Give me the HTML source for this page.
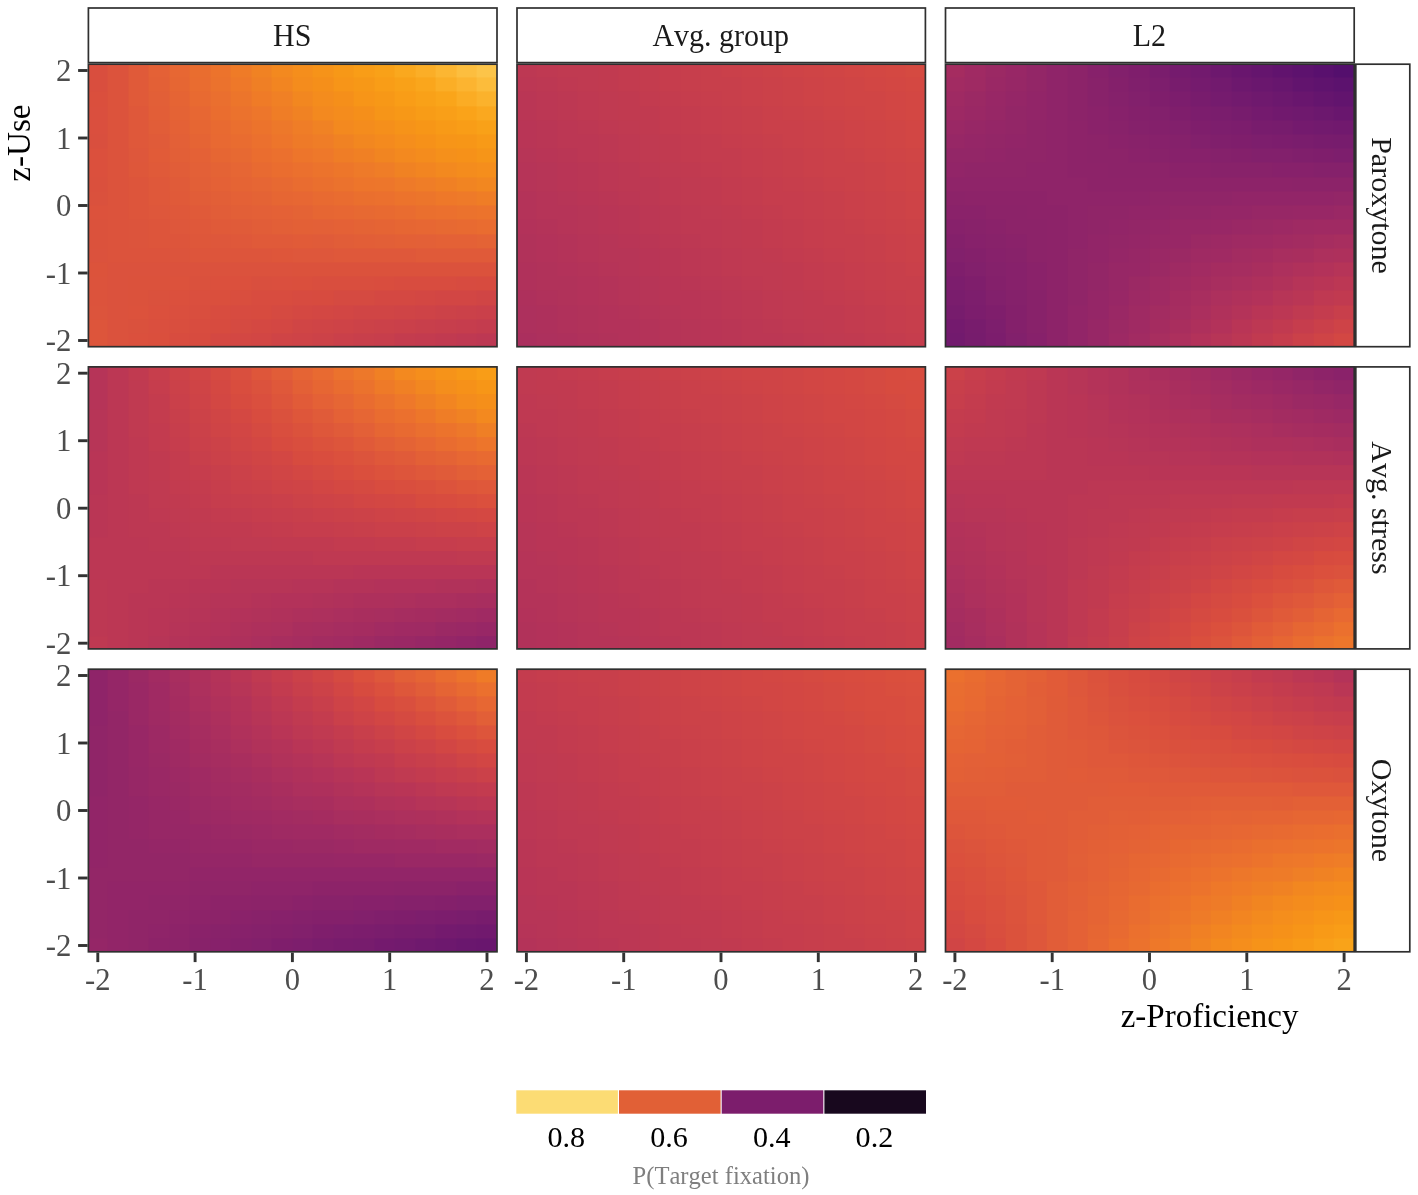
<!DOCTYPE html>
<html><head><meta charset="utf-8"><title>Heatmap</title>
<style>
html,body{margin:0;padding:0;background:#fff}
body{width:1418px;height:1195px;overflow:hidden;font-family:"Liberation Serif",serif}
svg{display:block;will-change:transform}
text{font-family:"Liberation Serif",serif;font-kerning:none}
</style></head><body>
<svg width="1418" height="1195" viewBox="0 0 1418 1195">
<rect x="0" y="0" width="1418" height="1195" fill="#ffffff"/>
<svg class="h" x="88.40" y="64.20" width="408.60" height="282.50" viewBox="0.0411 0.0567 19.9471 19.8796" preserveAspectRatio="none" shape-rendering="crispEdges">
<rect x="-1" y="-1" width="23" height="23" fill="#e56434"/>
<rect x="0" y="0" width="1.05" height="1.05" fill="#d94e3e"/><rect x="1" y="0" width="1.05" height="1.05" fill="#dc533c"/><rect x="2" y="0" width="1.05" height="1.05" fill="#e05a39"/><rect x="3" y="0" width="1.05" height="1.05" fill="#e46136"/><rect x="4" y="0" width="1.05" height="1.05" fill="#e76733"/><rect x="5" y="0" width="1.05" height="1.05" fill="#e96d2f"/><rect x="6" y="0" width="1.05" height="1.05" fill="#ec732c"/><rect x="7" y="0" width="1.05" height="1.05" fill="#ef7b27"/><rect x="8" y="0" width="1.05" height="1.05" fill="#f08223"/><rect x="9" y="0" width="1.05" height="1.05" fill="#f3891f"/><rect x="10" y="0" width="1.05" height="1.05" fill="#f58e1c"/><rect x="11" y="0" width="1.05" height="1.05" fill="#f69319"/><rect x="12" y="0" width="1.05" height="1.05" fill="#f79817"/><rect x="13" y="0" width="1.05" height="1.05" fill="#f99d17"/><rect x="14" y="0" width="1.05" height="1.05" fill="#f9a118"/><rect x="15" y="0" width="1.05" height="1.05" fill="#faa81e"/><rect x="16" y="0" width="1.05" height="1.05" fill="#fbae27"/><rect x="17" y="0" width="1.05" height="1.05" fill="#fcb632"/><rect x="18" y="0" width="1.05" height="1.05" fill="#fcbe3f"/><rect x="19" y="0" width="1.05" height="1.05" fill="#fcc449"/>
<rect x="0" y="1" width="1.05" height="1.05" fill="#d94e3e"/><rect x="1" y="1" width="1.05" height="1.05" fill="#dc533c"/><rect x="2" y="1" width="1.05" height="1.05" fill="#e05a39"/><rect x="3" y="1" width="1.05" height="1.05" fill="#e36036"/><rect x="4" y="1" width="1.05" height="1.05" fill="#e66633"/><rect x="5" y="1" width="1.05" height="1.05" fill="#e96c30"/><rect x="6" y="1" width="1.05" height="1.05" fill="#eb722d"/><rect x="7" y="1" width="1.05" height="1.05" fill="#ee7829"/><rect x="8" y="1" width="1.05" height="1.05" fill="#ef7f25"/><rect x="9" y="1" width="1.05" height="1.05" fill="#f28521"/><rect x="10" y="1" width="1.05" height="1.05" fill="#f48c1d"/><rect x="11" y="1" width="1.05" height="1.05" fill="#f58f1a"/><rect x="12" y="1" width="1.05" height="1.05" fill="#f79518"/><rect x="13" y="1" width="1.05" height="1.05" fill="#f79817"/><rect x="14" y="1" width="1.05" height="1.05" fill="#f99d17"/><rect x="15" y="1" width="1.05" height="1.05" fill="#f9a118"/><rect x="16" y="1" width="1.05" height="1.05" fill="#faa61c"/><rect x="17" y="1" width="1.05" height="1.05" fill="#fbae26"/><rect x="18" y="1" width="1.05" height="1.05" fill="#fcb430"/><rect x="19" y="1" width="1.05" height="1.05" fill="#fcbc3b"/>
<rect x="0" y="2" width="1.05" height="1.05" fill="#da4f3d"/><rect x="1" y="2" width="1.05" height="1.05" fill="#dc533c"/><rect x="2" y="2" width="1.05" height="1.05" fill="#e05a39"/><rect x="3" y="2" width="1.05" height="1.05" fill="#e25f37"/><rect x="4" y="2" width="1.05" height="1.05" fill="#e56434"/><rect x="5" y="2" width="1.05" height="1.05" fill="#e86a31"/><rect x="6" y="2" width="1.05" height="1.05" fill="#ea6f2f"/><rect x="7" y="2" width="1.05" height="1.05" fill="#ec752b"/><rect x="8" y="2" width="1.05" height="1.05" fill="#ef7b27"/><rect x="9" y="2" width="1.05" height="1.05" fill="#f08025"/><rect x="10" y="2" width="1.05" height="1.05" fill="#f28720"/><rect x="11" y="2" width="1.05" height="1.05" fill="#f48c1d"/><rect x="12" y="2" width="1.05" height="1.05" fill="#f58f1a"/><rect x="13" y="2" width="1.05" height="1.05" fill="#f79518"/><rect x="14" y="2" width="1.05" height="1.05" fill="#f79817"/><rect x="15" y="2" width="1.05" height="1.05" fill="#f99d17"/><rect x="16" y="2" width="1.05" height="1.05" fill="#f9a118"/><rect x="17" y="2" width="1.05" height="1.05" fill="#faa51a"/><rect x="18" y="2" width="1.05" height="1.05" fill="#fbac24"/><rect x="19" y="2" width="1.05" height="1.05" fill="#fbb22c"/>
<rect x="0" y="3" width="1.05" height="1.05" fill="#da4f3e"/><rect x="1" y="3" width="1.05" height="1.05" fill="#dc533c"/><rect x="2" y="3" width="1.05" height="1.05" fill="#df583a"/><rect x="3" y="3" width="1.05" height="1.05" fill="#e25e37"/><rect x="4" y="3" width="1.05" height="1.05" fill="#e46335"/><rect x="5" y="3" width="1.05" height="1.05" fill="#e76733"/><rect x="6" y="3" width="1.05" height="1.05" fill="#ea6d2f"/><rect x="7" y="3" width="1.05" height="1.05" fill="#eb722d"/><rect x="8" y="3" width="1.05" height="1.05" fill="#ed762b"/><rect x="9" y="3" width="1.05" height="1.05" fill="#ef7d26"/><rect x="10" y="3" width="1.05" height="1.05" fill="#f08223"/><rect x="11" y="3" width="1.05" height="1.05" fill="#f3891f"/><rect x="12" y="3" width="1.05" height="1.05" fill="#f48c1d"/><rect x="13" y="3" width="1.05" height="1.05" fill="#f58f1a"/><rect x="14" y="3" width="1.05" height="1.05" fill="#f69518"/><rect x="15" y="3" width="1.05" height="1.05" fill="#f79817"/><rect x="16" y="3" width="1.05" height="1.05" fill="#f89c17"/><rect x="17" y="3" width="1.05" height="1.05" fill="#f99f18"/><rect x="18" y="3" width="1.05" height="1.05" fill="#faa319"/><rect x="19" y="3" width="1.05" height="1.05" fill="#faa81f"/>
<rect x="0" y="4" width="1.05" height="1.05" fill="#da4f3e"/><rect x="1" y="4" width="1.05" height="1.05" fill="#dc533c"/><rect x="2" y="4" width="1.05" height="1.05" fill="#df583a"/><rect x="3" y="4" width="1.05" height="1.05" fill="#e15d38"/><rect x="4" y="4" width="1.05" height="1.05" fill="#e46136"/><rect x="5" y="4" width="1.05" height="1.05" fill="#e66633"/><rect x="6" y="4" width="1.05" height="1.05" fill="#e86a31"/><rect x="7" y="4" width="1.05" height="1.05" fill="#ea6f2f"/><rect x="8" y="4" width="1.05" height="1.05" fill="#ec732c"/><rect x="9" y="4" width="1.05" height="1.05" fill="#ed782a"/><rect x="10" y="4" width="1.05" height="1.05" fill="#ef7d27"/><rect x="11" y="4" width="1.05" height="1.05" fill="#f08224"/><rect x="12" y="4" width="1.05" height="1.05" fill="#f3891f"/><rect x="13" y="4" width="1.05" height="1.05" fill="#f48c1d"/><rect x="14" y="4" width="1.05" height="1.05" fill="#f58f1b"/><rect x="15" y="4" width="1.05" height="1.05" fill="#f69319"/><rect x="16" y="4" width="1.05" height="1.05" fill="#f79617"/><rect x="17" y="4" width="1.05" height="1.05" fill="#f89a17"/><rect x="18" y="4" width="1.05" height="1.05" fill="#f99d17"/><rect x="19" y="4" width="1.05" height="1.05" fill="#f9a118"/>
<rect x="0" y="5" width="1.05" height="1.05" fill="#d94f3e"/><rect x="1" y="5" width="1.05" height="1.05" fill="#dc533c"/><rect x="2" y="5" width="1.05" height="1.05" fill="#df583a"/><rect x="3" y="5" width="1.05" height="1.05" fill="#e05b39"/><rect x="4" y="5" width="1.05" height="1.05" fill="#e36037"/><rect x="5" y="5" width="1.05" height="1.05" fill="#e56434"/><rect x="6" y="5" width="1.05" height="1.05" fill="#e86932"/><rect x="7" y="5" width="1.05" height="1.05" fill="#e96c30"/><rect x="8" y="5" width="1.05" height="1.05" fill="#eb702e"/><rect x="9" y="5" width="1.05" height="1.05" fill="#ed752b"/><rect x="10" y="5" width="1.05" height="1.05" fill="#ee7a28"/><rect x="11" y="5" width="1.05" height="1.05" fill="#ef7d27"/><rect x="12" y="5" width="1.05" height="1.05" fill="#f08223"/><rect x="13" y="5" width="1.05" height="1.05" fill="#f28720"/><rect x="14" y="5" width="1.05" height="1.05" fill="#f48a1e"/><rect x="15" y="5" width="1.05" height="1.05" fill="#f58e1c"/><rect x="16" y="5" width="1.05" height="1.05" fill="#f69119"/><rect x="17" y="5" width="1.05" height="1.05" fill="#f79518"/><rect x="18" y="5" width="1.05" height="1.05" fill="#f79617"/><rect x="19" y="5" width="1.05" height="1.05" fill="#f89a17"/>
<rect x="0" y="6" width="1.05" height="1.05" fill="#db503d"/><rect x="1" y="6" width="1.05" height="1.05" fill="#dc533c"/><rect x="2" y="6" width="1.05" height="1.05" fill="#de573b"/><rect x="3" y="6" width="1.05" height="1.05" fill="#e15b38"/><rect x="4" y="6" width="1.05" height="1.05" fill="#e25f37"/><rect x="5" y="6" width="1.05" height="1.05" fill="#e46136"/><rect x="6" y="6" width="1.05" height="1.05" fill="#e66633"/><rect x="7" y="6" width="1.05" height="1.05" fill="#e76932"/><rect x="8" y="6" width="1.05" height="1.05" fill="#ea6d2f"/><rect x="9" y="6" width="1.05" height="1.05" fill="#eb702e"/><rect x="10" y="6" width="1.05" height="1.05" fill="#ed752b"/><rect x="11" y="6" width="1.05" height="1.05" fill="#ee782a"/><rect x="12" y="6" width="1.05" height="1.05" fill="#ef7d26"/><rect x="13" y="6" width="1.05" height="1.05" fill="#f08024"/><rect x="14" y="6" width="1.05" height="1.05" fill="#f18521"/><rect x="15" y="6" width="1.05" height="1.05" fill="#f3891f"/><rect x="16" y="6" width="1.05" height="1.05" fill="#f48c1d"/><rect x="17" y="6" width="1.05" height="1.05" fill="#f5901b"/><rect x="18" y="6" width="1.05" height="1.05" fill="#f69119"/><rect x="19" y="6" width="1.05" height="1.05" fill="#f69518"/>
<rect x="0" y="7" width="1.05" height="1.05" fill="#db503d"/><rect x="1" y="7" width="1.05" height="1.05" fill="#dc533c"/><rect x="2" y="7" width="1.05" height="1.05" fill="#de573a"/><rect x="3" y="7" width="1.05" height="1.05" fill="#e05a39"/><rect x="4" y="7" width="1.05" height="1.05" fill="#e15d38"/><rect x="5" y="7" width="1.05" height="1.05" fill="#e36037"/><rect x="6" y="7" width="1.05" height="1.05" fill="#e46335"/><rect x="7" y="7" width="1.05" height="1.05" fill="#e66634"/><rect x="8" y="7" width="1.05" height="1.05" fill="#e86a31"/><rect x="9" y="7" width="1.05" height="1.05" fill="#ea6d2f"/><rect x="10" y="7" width="1.05" height="1.05" fill="#eb702e"/><rect x="11" y="7" width="1.05" height="1.05" fill="#ec732c"/><rect x="12" y="7" width="1.05" height="1.05" fill="#ed762a"/><rect x="13" y="7" width="1.05" height="1.05" fill="#ee7a29"/><rect x="14" y="7" width="1.05" height="1.05" fill="#ef7d27"/><rect x="15" y="7" width="1.05" height="1.05" fill="#f08223"/><rect x="16" y="7" width="1.05" height="1.05" fill="#f28521"/><rect x="17" y="7" width="1.05" height="1.05" fill="#f3891f"/><rect x="18" y="7" width="1.05" height="1.05" fill="#f48c1d"/><rect x="19" y="7" width="1.05" height="1.05" fill="#f58e1c"/>
<rect x="0" y="8" width="1.05" height="1.05" fill="#da503d"/><rect x="1" y="8" width="1.05" height="1.05" fill="#dc533c"/><rect x="2" y="8" width="1.05" height="1.05" fill="#dd553b"/><rect x="3" y="8" width="1.05" height="1.05" fill="#df583a"/><rect x="4" y="8" width="1.05" height="1.05" fill="#e05b39"/><rect x="5" y="8" width="1.05" height="1.05" fill="#e25f37"/><rect x="6" y="8" width="1.05" height="1.05" fill="#e46136"/><rect x="7" y="8" width="1.05" height="1.05" fill="#e56434"/><rect x="8" y="8" width="1.05" height="1.05" fill="#e66634"/><rect x="9" y="8" width="1.05" height="1.05" fill="#e76932"/><rect x="10" y="8" width="1.05" height="1.05" fill="#e96c30"/><rect x="11" y="8" width="1.05" height="1.05" fill="#ea6f2e"/><rect x="12" y="8" width="1.05" height="1.05" fill="#eb722d"/><rect x="13" y="8" width="1.05" height="1.05" fill="#ed752b"/><rect x="14" y="8" width="1.05" height="1.05" fill="#ed762b"/><rect x="15" y="8" width="1.05" height="1.05" fill="#ee7a29"/><rect x="16" y="8" width="1.05" height="1.05" fill="#ef7d27"/><rect x="17" y="8" width="1.05" height="1.05" fill="#f08024"/><rect x="18" y="8" width="1.05" height="1.05" fill="#f18422"/><rect x="19" y="8" width="1.05" height="1.05" fill="#f28720"/>
<rect x="0" y="9" width="1.05" height="1.05" fill="#da513d"/><rect x="1" y="9" width="1.05" height="1.05" fill="#dc533c"/><rect x="2" y="9" width="1.05" height="1.05" fill="#dd553b"/><rect x="3" y="9" width="1.05" height="1.05" fill="#df583a"/><rect x="4" y="9" width="1.05" height="1.05" fill="#e05a39"/><rect x="5" y="9" width="1.05" height="1.05" fill="#e15d38"/><rect x="6" y="9" width="1.05" height="1.05" fill="#e25f37"/><rect x="7" y="9" width="1.05" height="1.05" fill="#e46136"/><rect x="8" y="9" width="1.05" height="1.05" fill="#e46335"/><rect x="9" y="9" width="1.05" height="1.05" fill="#e66633"/><rect x="10" y="9" width="1.05" height="1.05" fill="#e76733"/><rect x="11" y="9" width="1.05" height="1.05" fill="#e86a31"/><rect x="12" y="9" width="1.05" height="1.05" fill="#e96c30"/><rect x="13" y="9" width="1.05" height="1.05" fill="#ea6f2e"/><rect x="14" y="9" width="1.05" height="1.05" fill="#eb702e"/><rect x="15" y="9" width="1.05" height="1.05" fill="#ec732c"/><rect x="16" y="9" width="1.05" height="1.05" fill="#ec752b"/><rect x="17" y="9" width="1.05" height="1.05" fill="#ee7829"/><rect x="18" y="9" width="1.05" height="1.05" fill="#ee7a29"/><rect x="19" y="9" width="1.05" height="1.05" fill="#ef7d26"/>
<rect x="0" y="10" width="1.05" height="1.05" fill="#dc523c"/><rect x="1" y="10" width="1.05" height="1.05" fill="#dc533c"/><rect x="2" y="10" width="1.05" height="1.05" fill="#dd553b"/><rect x="3" y="10" width="1.05" height="1.05" fill="#de573b"/><rect x="4" y="10" width="1.05" height="1.05" fill="#df583a"/><rect x="5" y="10" width="1.05" height="1.05" fill="#e05a39"/><rect x="6" y="10" width="1.05" height="1.05" fill="#e15d38"/><rect x="7" y="10" width="1.05" height="1.05" fill="#e25f37"/><rect x="8" y="10" width="1.05" height="1.05" fill="#e36037"/><rect x="9" y="10" width="1.05" height="1.05" fill="#e46136"/><rect x="10" y="10" width="1.05" height="1.05" fill="#e46335"/><rect x="11" y="10" width="1.05" height="1.05" fill="#e66633"/><rect x="12" y="10" width="1.05" height="1.05" fill="#e76733"/><rect x="13" y="10" width="1.05" height="1.05" fill="#e76932"/><rect x="14" y="10" width="1.05" height="1.05" fill="#e86a31"/><rect x="15" y="10" width="1.05" height="1.05" fill="#e96c30"/><rect x="16" y="10" width="1.05" height="1.05" fill="#ea6f2e"/><rect x="17" y="10" width="1.05" height="1.05" fill="#eb702e"/><rect x="18" y="10" width="1.05" height="1.05" fill="#eb722d"/><rect x="19" y="10" width="1.05" height="1.05" fill="#ec732c"/>
<rect x="0" y="11" width="1.05" height="1.05" fill="#db523c"/><rect x="1" y="11" width="1.05" height="1.05" fill="#dc533c"/><rect x="2" y="11" width="1.05" height="1.05" fill="#dc543c"/><rect x="3" y="11" width="1.05" height="1.05" fill="#dd553b"/><rect x="4" y="11" width="1.05" height="1.05" fill="#de573b"/><rect x="5" y="11" width="1.05" height="1.05" fill="#df583a"/><rect x="6" y="11" width="1.05" height="1.05" fill="#e05a39"/><rect x="7" y="11" width="1.05" height="1.05" fill="#e05b39"/><rect x="8" y="11" width="1.05" height="1.05" fill="#e15d38"/><rect x="9" y="11" width="1.05" height="1.05" fill="#e25f37"/><rect x="10" y="11" width="1.05" height="1.05" fill="#e36036"/><rect x="11" y="11" width="1.05" height="1.05" fill="#e36037"/><rect x="12" y="11" width="1.05" height="1.05" fill="#e46136"/><rect x="13" y="11" width="1.05" height="1.05" fill="#e46335"/><rect x="14" y="11" width="1.05" height="1.05" fill="#e56434"/><rect x="15" y="11" width="1.05" height="1.05" fill="#e66633"/><rect x="16" y="11" width="1.05" height="1.05" fill="#e76733"/><rect x="17" y="11" width="1.05" height="1.05" fill="#e76932"/><rect x="18" y="11" width="1.05" height="1.05" fill="#e86a31"/><rect x="19" y="11" width="1.05" height="1.05" fill="#e96c30"/>
<rect x="0" y="12" width="1.05" height="1.05" fill="#db523c"/><rect x="1" y="12" width="1.05" height="1.05" fill="#dc533c"/><rect x="2" y="12" width="1.05" height="1.05" fill="#dc543c"/><rect x="3" y="12" width="1.05" height="1.05" fill="#dd553b"/><rect x="4" y="12" width="1.05" height="1.05" fill="#dd553b"/><rect x="5" y="12" width="1.05" height="1.05" fill="#de573a"/><rect x="6" y="12" width="1.05" height="1.05" fill="#de573b"/><rect x="7" y="12" width="1.05" height="1.05" fill="#df583a"/><rect x="8" y="12" width="1.05" height="1.05" fill="#e05a39"/><rect x="9" y="12" width="1.05" height="1.05" fill="#e05a39"/><rect x="10" y="12" width="1.05" height="1.05" fill="#e15b38"/><rect x="11" y="12" width="1.05" height="1.05" fill="#e05b39"/><rect x="12" y="12" width="1.05" height="1.05" fill="#e15d38"/><rect x="13" y="12" width="1.05" height="1.05" fill="#e25e37"/><rect x="14" y="12" width="1.05" height="1.05" fill="#e25f37"/><rect x="15" y="12" width="1.05" height="1.05" fill="#e36036"/><rect x="16" y="12" width="1.05" height="1.05" fill="#e36037"/><rect x="17" y="12" width="1.05" height="1.05" fill="#e46136"/><rect x="18" y="12" width="1.05" height="1.05" fill="#e46136"/><rect x="19" y="12" width="1.05" height="1.05" fill="#e46335"/>
<rect x="0" y="13" width="1.05" height="1.05" fill="#db523d"/><rect x="1" y="13" width="1.05" height="1.05" fill="#dc533c"/><rect x="2" y="13" width="1.05" height="1.05" fill="#dc533c"/><rect x="3" y="13" width="1.05" height="1.05" fill="#dc533c"/><rect x="4" y="13" width="1.05" height="1.05" fill="#dc543c"/><rect x="5" y="13" width="1.05" height="1.05" fill="#dd553b"/><rect x="6" y="13" width="1.05" height="1.05" fill="#dd553b"/><rect x="7" y="13" width="1.05" height="1.05" fill="#dd553b"/><rect x="8" y="13" width="1.05" height="1.05" fill="#dd553b"/><rect x="9" y="13" width="1.05" height="1.05" fill="#de563a"/><rect x="10" y="13" width="1.05" height="1.05" fill="#de573b"/><rect x="11" y="13" width="1.05" height="1.05" fill="#de573b"/><rect x="12" y="13" width="1.05" height="1.05" fill="#df583a"/><rect x="13" y="13" width="1.05" height="1.05" fill="#df583a"/><rect x="14" y="13" width="1.05" height="1.05" fill="#df583a"/><rect x="15" y="13" width="1.05" height="1.05" fill="#df583a"/><rect x="16" y="13" width="1.05" height="1.05" fill="#e05a39"/><rect x="17" y="13" width="1.05" height="1.05" fill="#e05a39"/><rect x="18" y="13" width="1.05" height="1.05" fill="#e05a39"/><rect x="19" y="13" width="1.05" height="1.05" fill="#e05a39"/>
<rect x="0" y="14" width="1.05" height="1.05" fill="#dc533b"/><rect x="1" y="14" width="1.05" height="1.05" fill="#db523d"/><rect x="2" y="14" width="1.05" height="1.05" fill="#db523d"/><rect x="3" y="14" width="1.05" height="1.05" fill="#db523d"/><rect x="4" y="14" width="1.05" height="1.05" fill="#db523d"/><rect x="5" y="14" width="1.05" height="1.05" fill="#db523d"/><rect x="6" y="14" width="1.05" height="1.05" fill="#db523d"/><rect x="7" y="14" width="1.05" height="1.05" fill="#db523d"/><rect x="8" y="14" width="1.05" height="1.05" fill="#db523d"/><rect x="9" y="14" width="1.05" height="1.05" fill="#db523d"/><rect x="10" y="14" width="1.05" height="1.05" fill="#db523c"/><rect x="11" y="14" width="1.05" height="1.05" fill="#db523c"/><rect x="12" y="14" width="1.05" height="1.05" fill="#db523c"/><rect x="13" y="14" width="1.05" height="1.05" fill="#db523c"/><rect x="14" y="14" width="1.05" height="1.05" fill="#db523c"/><rect x="15" y="14" width="1.05" height="1.05" fill="#db523c"/><rect x="16" y="14" width="1.05" height="1.05" fill="#db523c"/><rect x="17" y="14" width="1.05" height="1.05" fill="#db523c"/><rect x="18" y="14" width="1.05" height="1.05" fill="#db523c"/><rect x="19" y="14" width="1.05" height="1.05" fill="#db523c"/>
<rect x="0" y="15" width="1.05" height="1.05" fill="#dc533c"/><rect x="1" y="15" width="1.05" height="1.05" fill="#db523d"/><rect x="2" y="15" width="1.05" height="1.05" fill="#db523c"/><rect x="3" y="15" width="1.05" height="1.05" fill="#db523c"/><rect x="4" y="15" width="1.05" height="1.05" fill="#dc523c"/><rect x="5" y="15" width="1.05" height="1.05" fill="#da513d"/><rect x="6" y="15" width="1.05" height="1.05" fill="#db503d"/><rect x="7" y="15" width="1.05" height="1.05" fill="#db503d"/><rect x="8" y="15" width="1.05" height="1.05" fill="#d94f3e"/><rect x="9" y="15" width="1.05" height="1.05" fill="#da4f3e"/><rect x="10" y="15" width="1.05" height="1.05" fill="#da4f3d"/><rect x="11" y="15" width="1.05" height="1.05" fill="#d94e3e"/><rect x="12" y="15" width="1.05" height="1.05" fill="#d94e3e"/><rect x="13" y="15" width="1.05" height="1.05" fill="#d94e3e"/><rect x="14" y="15" width="1.05" height="1.05" fill="#d94d3e"/><rect x="15" y="15" width="1.05" height="1.05" fill="#d84c3f"/><rect x="16" y="15" width="1.05" height="1.05" fill="#d84c3f"/><rect x="17" y="15" width="1.05" height="1.05" fill="#d84c3f"/><rect x="18" y="15" width="1.05" height="1.05" fill="#d74b40"/><rect x="19" y="15" width="1.05" height="1.05" fill="#d74b3f"/>
<rect x="0" y="16" width="1.05" height="1.05" fill="#dc533c"/><rect x="1" y="16" width="1.05" height="1.05" fill="#db523d"/><rect x="2" y="16" width="1.05" height="1.05" fill="#db523c"/><rect x="3" y="16" width="1.05" height="1.05" fill="#da513d"/><rect x="4" y="16" width="1.05" height="1.05" fill="#db503d"/><rect x="5" y="16" width="1.05" height="1.05" fill="#da4f3e"/><rect x="6" y="16" width="1.05" height="1.05" fill="#da4f3d"/><rect x="7" y="16" width="1.05" height="1.05" fill="#d94e3e"/><rect x="8" y="16" width="1.05" height="1.05" fill="#d84c3f"/><rect x="9" y="16" width="1.05" height="1.05" fill="#d84c3f"/><rect x="10" y="16" width="1.05" height="1.05" fill="#d74b40"/><rect x="11" y="16" width="1.05" height="1.05" fill="#d74b3f"/><rect x="12" y="16" width="1.05" height="1.05" fill="#d54a41"/><rect x="13" y="16" width="1.05" height="1.05" fill="#d54a41"/><rect x="14" y="16" width="1.05" height="1.05" fill="#d44842"/><rect x="15" y="16" width="1.05" height="1.05" fill="#d44842"/><rect x="16" y="16" width="1.05" height="1.05" fill="#d34743"/><rect x="17" y="16" width="1.05" height="1.05" fill="#d24644"/><rect x="18" y="16" width="1.05" height="1.05" fill="#d24644"/><rect x="19" y="16" width="1.05" height="1.05" fill="#d04545"/>
<rect x="0" y="17" width="1.05" height="1.05" fill="#dc543c"/><rect x="1" y="17" width="1.05" height="1.05" fill="#db523d"/><rect x="2" y="17" width="1.05" height="1.05" fill="#dc523c"/><rect x="3" y="17" width="1.05" height="1.05" fill="#db503d"/><rect x="4" y="17" width="1.05" height="1.05" fill="#da4f3e"/><rect x="5" y="17" width="1.05" height="1.05" fill="#d94e3e"/><rect x="6" y="17" width="1.05" height="1.05" fill="#d84c3f"/><rect x="7" y="17" width="1.05" height="1.05" fill="#d74b40"/><rect x="8" y="17" width="1.05" height="1.05" fill="#d74b3f"/><rect x="9" y="17" width="1.05" height="1.05" fill="#d54a41"/><rect x="10" y="17" width="1.05" height="1.05" fill="#d44842"/><rect x="11" y="17" width="1.05" height="1.05" fill="#d34743"/><rect x="12" y="17" width="1.05" height="1.05" fill="#d24644"/><rect x="13" y="17" width="1.05" height="1.05" fill="#d04545"/><rect x="14" y="17" width="1.05" height="1.05" fill="#d04545"/><rect x="15" y="17" width="1.05" height="1.05" fill="#cf4446"/><rect x="16" y="17" width="1.05" height="1.05" fill="#ce4347"/><rect x="17" y="17" width="1.05" height="1.05" fill="#cc4248"/><rect x="18" y="17" width="1.05" height="1.05" fill="#cb4149"/><rect x="19" y="17" width="1.05" height="1.05" fill="#ca404a"/>
<rect x="0" y="18" width="1.05" height="1.05" fill="#dd553b"/><rect x="1" y="18" width="1.05" height="1.05" fill="#db523d"/><rect x="2" y="18" width="1.05" height="1.05" fill="#da513d"/><rect x="3" y="18" width="1.05" height="1.05" fill="#da4f3e"/><rect x="4" y="18" width="1.05" height="1.05" fill="#d94e3e"/><rect x="5" y="18" width="1.05" height="1.05" fill="#d84c3f"/><rect x="6" y="18" width="1.05" height="1.05" fill="#d74b3f"/><rect x="7" y="18" width="1.05" height="1.05" fill="#d54a41"/><rect x="8" y="18" width="1.05" height="1.05" fill="#d44842"/><rect x="9" y="18" width="1.05" height="1.05" fill="#d34743"/><rect x="10" y="18" width="1.05" height="1.05" fill="#d04545"/><rect x="11" y="18" width="1.05" height="1.05" fill="#cf4446"/><rect x="12" y="18" width="1.05" height="1.05" fill="#ce4347"/><rect x="13" y="18" width="1.05" height="1.05" fill="#cc4248"/><rect x="14" y="18" width="1.05" height="1.05" fill="#cb4149"/><rect x="15" y="18" width="1.05" height="1.05" fill="#ca404a"/><rect x="16" y="18" width="1.05" height="1.05" fill="#c83f4b"/><rect x="17" y="18" width="1.05" height="1.05" fill="#c73e4c"/><rect x="18" y="18" width="1.05" height="1.05" fill="#c63d4d"/><rect x="19" y="18" width="1.05" height="1.05" fill="#c43c4e"/>
<rect x="0" y="19" width="1.05" height="1.05" fill="#dd553b"/><rect x="1" y="19" width="1.05" height="1.05" fill="#db523d"/><rect x="2" y="19" width="1.05" height="1.05" fill="#db503d"/><rect x="3" y="19" width="1.05" height="1.05" fill="#da4f3d"/><rect x="4" y="19" width="1.05" height="1.05" fill="#d84c3f"/><rect x="5" y="19" width="1.05" height="1.05" fill="#d74b3f"/><rect x="6" y="19" width="1.05" height="1.05" fill="#d44842"/><rect x="7" y="19" width="1.05" height="1.05" fill="#d34743"/><rect x="8" y="19" width="1.05" height="1.05" fill="#d24644"/><rect x="9" y="19" width="1.05" height="1.05" fill="#cf4446"/><rect x="10" y="19" width="1.05" height="1.05" fill="#ce4347"/><rect x="11" y="19" width="1.05" height="1.05" fill="#cc4248"/><rect x="12" y="19" width="1.05" height="1.05" fill="#ca404a"/><rect x="13" y="19" width="1.05" height="1.05" fill="#c83f4b"/><rect x="14" y="19" width="1.05" height="1.05" fill="#c73e4c"/><rect x="15" y="19" width="1.05" height="1.05" fill="#c43c4e"/><rect x="16" y="19" width="1.05" height="1.05" fill="#c33b4f"/><rect x="17" y="19" width="1.05" height="1.05" fill="#c13a50"/><rect x="18" y="19" width="1.05" height="1.05" fill="#bf3952"/><rect x="19" y="19" width="1.05" height="1.05" fill="#bd3853"/>
</svg>
<svg class="h" x="517.00" y="64.20" width="408.40" height="282.50" viewBox="0.0411 0.0567 19.9373 19.8796" preserveAspectRatio="none" shape-rendering="crispEdges">
<rect x="-1" y="-1" width="23" height="23" fill="#c13a50"/>
<rect x="0" y="0" width="1.05" height="1.05" fill="#bd3853"/><rect x="1" y="0" width="1.05" height="1.05" fill="#bf3952"/><rect x="2" y="0" width="1.05" height="1.05" fill="#c03a51"/><rect x="3" y="0" width="1.05" height="1.05" fill="#c03a51"/><rect x="4" y="0" width="1.05" height="1.05" fill="#c13a50"/><rect x="5" y="0" width="1.05" height="1.05" fill="#c33b4f"/><rect x="6" y="0" width="1.05" height="1.05" fill="#c43c4e"/><rect x="7" y="0" width="1.05" height="1.05" fill="#c63d4d"/><rect x="8" y="0" width="1.05" height="1.05" fill="#c73e4c"/><rect x="9" y="0" width="1.05" height="1.05" fill="#c83f4b"/><rect x="10" y="0" width="1.05" height="1.05" fill="#ca404a"/><rect x="11" y="0" width="1.05" height="1.05" fill="#cb4149"/><rect x="12" y="0" width="1.05" height="1.05" fill="#cc4248"/><rect x="13" y="0" width="1.05" height="1.05" fill="#ce4347"/><rect x="14" y="0" width="1.05" height="1.05" fill="#cf4446"/><rect x="15" y="0" width="1.05" height="1.05" fill="#d04545"/><rect x="16" y="0" width="1.05" height="1.05" fill="#d24644"/><rect x="17" y="0" width="1.05" height="1.05" fill="#d34743"/><rect x="18" y="0" width="1.05" height="1.05" fill="#d44842"/><rect x="19" y="0" width="1.05" height="1.05" fill="#d54a41"/>
<rect x="0" y="1" width="1.05" height="1.05" fill="#bc3754"/><rect x="1" y="1" width="1.05" height="1.05" fill="#bd3853"/><rect x="2" y="1" width="1.05" height="1.05" fill="#bf3952"/><rect x="3" y="1" width="1.05" height="1.05" fill="#c03a51"/><rect x="4" y="1" width="1.05" height="1.05" fill="#c13a50"/><rect x="5" y="1" width="1.05" height="1.05" fill="#c33b4f"/><rect x="6" y="1" width="1.05" height="1.05" fill="#c43c4e"/><rect x="7" y="1" width="1.05" height="1.05" fill="#c63d4d"/><rect x="8" y="1" width="1.05" height="1.05" fill="#c73e4c"/><rect x="9" y="1" width="1.05" height="1.05" fill="#c83f4b"/><rect x="10" y="1" width="1.05" height="1.05" fill="#c83f4b"/><rect x="11" y="1" width="1.05" height="1.05" fill="#ca404a"/><rect x="12" y="1" width="1.05" height="1.05" fill="#cb4149"/><rect x="13" y="1" width="1.05" height="1.05" fill="#cc4248"/><rect x="14" y="1" width="1.05" height="1.05" fill="#ce4347"/><rect x="15" y="1" width="1.05" height="1.05" fill="#cf4446"/><rect x="16" y="1" width="1.05" height="1.05" fill="#d04545"/><rect x="17" y="1" width="1.05" height="1.05" fill="#d24644"/><rect x="18" y="1" width="1.05" height="1.05" fill="#d34743"/><rect x="19" y="1" width="1.05" height="1.05" fill="#d44842"/>
<rect x="0" y="2" width="1.05" height="1.05" fill="#ba3655"/><rect x="1" y="2" width="1.05" height="1.05" fill="#bc3754"/><rect x="2" y="2" width="1.05" height="1.05" fill="#bd3853"/><rect x="3" y="2" width="1.05" height="1.05" fill="#bf3952"/><rect x="4" y="2" width="1.05" height="1.05" fill="#c03a51"/><rect x="5" y="2" width="1.05" height="1.05" fill="#c13a50"/><rect x="6" y="2" width="1.05" height="1.05" fill="#c33b4f"/><rect x="7" y="2" width="1.05" height="1.05" fill="#c43c4e"/><rect x="8" y="2" width="1.05" height="1.05" fill="#c63d4d"/><rect x="9" y="2" width="1.05" height="1.05" fill="#c73e4c"/><rect x="10" y="2" width="1.05" height="1.05" fill="#c83f4b"/><rect x="11" y="2" width="1.05" height="1.05" fill="#ca404a"/><rect x="12" y="2" width="1.05" height="1.05" fill="#cb4149"/><rect x="13" y="2" width="1.05" height="1.05" fill="#cc4248"/><rect x="14" y="2" width="1.05" height="1.05" fill="#ce4347"/><rect x="15" y="2" width="1.05" height="1.05" fill="#cf4446"/><rect x="16" y="2" width="1.05" height="1.05" fill="#d04545"/><rect x="17" y="2" width="1.05" height="1.05" fill="#d04545"/><rect x="18" y="2" width="1.05" height="1.05" fill="#d24644"/><rect x="19" y="2" width="1.05" height="1.05" fill="#d34743"/>
<rect x="0" y="3" width="1.05" height="1.05" fill="#ba3655"/><rect x="1" y="3" width="1.05" height="1.05" fill="#bc3754"/><rect x="2" y="3" width="1.05" height="1.05" fill="#bd3853"/><rect x="3" y="3" width="1.05" height="1.05" fill="#bf3952"/><rect x="4" y="3" width="1.05" height="1.05" fill="#c03a51"/><rect x="5" y="3" width="1.05" height="1.05" fill="#c13a50"/><rect x="6" y="3" width="1.05" height="1.05" fill="#c13a50"/><rect x="7" y="3" width="1.05" height="1.05" fill="#c33b4f"/><rect x="8" y="3" width="1.05" height="1.05" fill="#c43c4e"/><rect x="9" y="3" width="1.05" height="1.05" fill="#c63d4d"/><rect x="10" y="3" width="1.05" height="1.05" fill="#c73e4c"/><rect x="11" y="3" width="1.05" height="1.05" fill="#c83f4b"/><rect x="12" y="3" width="1.05" height="1.05" fill="#ca404a"/><rect x="13" y="3" width="1.05" height="1.05" fill="#cb4149"/><rect x="14" y="3" width="1.05" height="1.05" fill="#cc4248"/><rect x="15" y="3" width="1.05" height="1.05" fill="#ce4347"/><rect x="16" y="3" width="1.05" height="1.05" fill="#cf4446"/><rect x="17" y="3" width="1.05" height="1.05" fill="#d04545"/><rect x="18" y="3" width="1.05" height="1.05" fill="#d24644"/><rect x="19" y="3" width="1.05" height="1.05" fill="#d34743"/>
<rect x="0" y="4" width="1.05" height="1.05" fill="#b93556"/><rect x="1" y="4" width="1.05" height="1.05" fill="#ba3655"/><rect x="2" y="4" width="1.05" height="1.05" fill="#bc3754"/><rect x="3" y="4" width="1.05" height="1.05" fill="#bd3853"/><rect x="4" y="4" width="1.05" height="1.05" fill="#bf3952"/><rect x="5" y="4" width="1.05" height="1.05" fill="#c03a51"/><rect x="6" y="4" width="1.05" height="1.05" fill="#c13a50"/><rect x="7" y="4" width="1.05" height="1.05" fill="#c33b4f"/><rect x="8" y="4" width="1.05" height="1.05" fill="#c43c4e"/><rect x="9" y="4" width="1.05" height="1.05" fill="#c63d4d"/><rect x="10" y="4" width="1.05" height="1.05" fill="#c73e4c"/><rect x="11" y="4" width="1.05" height="1.05" fill="#c83f4b"/><rect x="12" y="4" width="1.05" height="1.05" fill="#ca404a"/><rect x="13" y="4" width="1.05" height="1.05" fill="#ca404a"/><rect x="14" y="4" width="1.05" height="1.05" fill="#cb4149"/><rect x="15" y="4" width="1.05" height="1.05" fill="#cc4248"/><rect x="16" y="4" width="1.05" height="1.05" fill="#ce4347"/><rect x="17" y="4" width="1.05" height="1.05" fill="#cf4446"/><rect x="18" y="4" width="1.05" height="1.05" fill="#d04545"/><rect x="19" y="4" width="1.05" height="1.05" fill="#d24644"/>
<rect x="0" y="5" width="1.05" height="1.05" fill="#b93556"/><rect x="1" y="5" width="1.05" height="1.05" fill="#ba3655"/><rect x="2" y="5" width="1.05" height="1.05" fill="#bc3754"/><rect x="3" y="5" width="1.05" height="1.05" fill="#bc3754"/><rect x="4" y="5" width="1.05" height="1.05" fill="#bd3853"/><rect x="5" y="5" width="1.05" height="1.05" fill="#bf3952"/><rect x="6" y="5" width="1.05" height="1.05" fill="#c03a51"/><rect x="7" y="5" width="1.05" height="1.05" fill="#c13a50"/><rect x="8" y="5" width="1.05" height="1.05" fill="#c33b4f"/><rect x="9" y="5" width="1.05" height="1.05" fill="#c43c4e"/><rect x="10" y="5" width="1.05" height="1.05" fill="#c63d4d"/><rect x="11" y="5" width="1.05" height="1.05" fill="#c73e4c"/><rect x="12" y="5" width="1.05" height="1.05" fill="#c83f4b"/><rect x="13" y="5" width="1.05" height="1.05" fill="#ca404a"/><rect x="14" y="5" width="1.05" height="1.05" fill="#cb4149"/><rect x="15" y="5" width="1.05" height="1.05" fill="#cc4248"/><rect x="16" y="5" width="1.05" height="1.05" fill="#ce4347"/><rect x="17" y="5" width="1.05" height="1.05" fill="#cf4446"/><rect x="18" y="5" width="1.05" height="1.05" fill="#d04545"/><rect x="19" y="5" width="1.05" height="1.05" fill="#d24644"/>
<rect x="0" y="6" width="1.05" height="1.05" fill="#b73557"/><rect x="1" y="6" width="1.05" height="1.05" fill="#b93556"/><rect x="2" y="6" width="1.05" height="1.05" fill="#ba3655"/><rect x="3" y="6" width="1.05" height="1.05" fill="#bc3754"/><rect x="4" y="6" width="1.05" height="1.05" fill="#bd3853"/><rect x="5" y="6" width="1.05" height="1.05" fill="#bf3952"/><rect x="6" y="6" width="1.05" height="1.05" fill="#c03a51"/><rect x="7" y="6" width="1.05" height="1.05" fill="#c13a50"/><rect x="8" y="6" width="1.05" height="1.05" fill="#c33b4f"/><rect x="9" y="6" width="1.05" height="1.05" fill="#c43c4e"/><rect x="10" y="6" width="1.05" height="1.05" fill="#c43c4e"/><rect x="11" y="6" width="1.05" height="1.05" fill="#c63d4d"/><rect x="12" y="6" width="1.05" height="1.05" fill="#c73e4c"/><rect x="13" y="6" width="1.05" height="1.05" fill="#c83f4b"/><rect x="14" y="6" width="1.05" height="1.05" fill="#ca404a"/><rect x="15" y="6" width="1.05" height="1.05" fill="#cb4149"/><rect x="16" y="6" width="1.05" height="1.05" fill="#cc4248"/><rect x="17" y="6" width="1.05" height="1.05" fill="#ce4347"/><rect x="18" y="6" width="1.05" height="1.05" fill="#cf4446"/><rect x="19" y="6" width="1.05" height="1.05" fill="#d04545"/>
<rect x="0" y="7" width="1.05" height="1.05" fill="#b63458"/><rect x="1" y="7" width="1.05" height="1.05" fill="#b73557"/><rect x="2" y="7" width="1.05" height="1.05" fill="#b93556"/><rect x="3" y="7" width="1.05" height="1.05" fill="#ba3655"/><rect x="4" y="7" width="1.05" height="1.05" fill="#bc3754"/><rect x="5" y="7" width="1.05" height="1.05" fill="#bd3853"/><rect x="6" y="7" width="1.05" height="1.05" fill="#bf3952"/><rect x="7" y="7" width="1.05" height="1.05" fill="#c03a51"/><rect x="8" y="7" width="1.05" height="1.05" fill="#c13a50"/><rect x="9" y="7" width="1.05" height="1.05" fill="#c33b4f"/><rect x="10" y="7" width="1.05" height="1.05" fill="#c43c4e"/><rect x="11" y="7" width="1.05" height="1.05" fill="#c63d4d"/><rect x="12" y="7" width="1.05" height="1.05" fill="#c73e4c"/><rect x="13" y="7" width="1.05" height="1.05" fill="#c83f4b"/><rect x="14" y="7" width="1.05" height="1.05" fill="#ca404a"/><rect x="15" y="7" width="1.05" height="1.05" fill="#cb4149"/><rect x="16" y="7" width="1.05" height="1.05" fill="#cb4149"/><rect x="17" y="7" width="1.05" height="1.05" fill="#cc4248"/><rect x="18" y="7" width="1.05" height="1.05" fill="#ce4347"/><rect x="19" y="7" width="1.05" height="1.05" fill="#cf4446"/>
<rect x="0" y="8" width="1.05" height="1.05" fill="#b63458"/><rect x="1" y="8" width="1.05" height="1.05" fill="#b73557"/><rect x="2" y="8" width="1.05" height="1.05" fill="#b93556"/><rect x="3" y="8" width="1.05" height="1.05" fill="#ba3655"/><rect x="4" y="8" width="1.05" height="1.05" fill="#bc3754"/><rect x="5" y="8" width="1.05" height="1.05" fill="#bd3853"/><rect x="6" y="8" width="1.05" height="1.05" fill="#bd3853"/><rect x="7" y="8" width="1.05" height="1.05" fill="#bf3952"/><rect x="8" y="8" width="1.05" height="1.05" fill="#c03a51"/><rect x="9" y="8" width="1.05" height="1.05" fill="#c13a50"/><rect x="10" y="8" width="1.05" height="1.05" fill="#c33b4f"/><rect x="11" y="8" width="1.05" height="1.05" fill="#c43c4e"/><rect x="12" y="8" width="1.05" height="1.05" fill="#c63d4d"/><rect x="13" y="8" width="1.05" height="1.05" fill="#c73e4c"/><rect x="14" y="8" width="1.05" height="1.05" fill="#c83f4b"/><rect x="15" y="8" width="1.05" height="1.05" fill="#ca404a"/><rect x="16" y="8" width="1.05" height="1.05" fill="#cb4149"/><rect x="17" y="8" width="1.05" height="1.05" fill="#cc4248"/><rect x="18" y="8" width="1.05" height="1.05" fill="#ce4347"/><rect x="19" y="8" width="1.05" height="1.05" fill="#cf4446"/>
<rect x="0" y="9" width="1.05" height="1.05" fill="#b43359"/><rect x="1" y="9" width="1.05" height="1.05" fill="#b63458"/><rect x="2" y="9" width="1.05" height="1.05" fill="#b73557"/><rect x="3" y="9" width="1.05" height="1.05" fill="#b93556"/><rect x="4" y="9" width="1.05" height="1.05" fill="#ba3655"/><rect x="5" y="9" width="1.05" height="1.05" fill="#bc3754"/><rect x="6" y="9" width="1.05" height="1.05" fill="#bd3853"/><rect x="7" y="9" width="1.05" height="1.05" fill="#bf3952"/><rect x="8" y="9" width="1.05" height="1.05" fill="#c03a51"/><rect x="9" y="9" width="1.05" height="1.05" fill="#c13a50"/><rect x="10" y="9" width="1.05" height="1.05" fill="#c33b4f"/><rect x="11" y="9" width="1.05" height="1.05" fill="#c43c4e"/><rect x="12" y="9" width="1.05" height="1.05" fill="#c63d4d"/><rect x="13" y="9" width="1.05" height="1.05" fill="#c63d4d"/><rect x="14" y="9" width="1.05" height="1.05" fill="#c73e4c"/><rect x="15" y="9" width="1.05" height="1.05" fill="#c83f4b"/><rect x="16" y="9" width="1.05" height="1.05" fill="#ca404a"/><rect x="17" y="9" width="1.05" height="1.05" fill="#cb4149"/><rect x="18" y="9" width="1.05" height="1.05" fill="#cc4248"/><rect x="19" y="9" width="1.05" height="1.05" fill="#ce4347"/>
<rect x="0" y="10" width="1.05" height="1.05" fill="#b43359"/><rect x="1" y="10" width="1.05" height="1.05" fill="#b63458"/><rect x="2" y="10" width="1.05" height="1.05" fill="#b63458"/><rect x="3" y="10" width="1.05" height="1.05" fill="#b73557"/><rect x="4" y="10" width="1.05" height="1.05" fill="#b93556"/><rect x="5" y="10" width="1.05" height="1.05" fill="#ba3655"/><rect x="6" y="10" width="1.05" height="1.05" fill="#bc3754"/><rect x="7" y="10" width="1.05" height="1.05" fill="#bd3853"/><rect x="8" y="10" width="1.05" height="1.05" fill="#bf3952"/><rect x="9" y="10" width="1.05" height="1.05" fill="#c03a51"/><rect x="10" y="10" width="1.05" height="1.05" fill="#c13a50"/><rect x="11" y="10" width="1.05" height="1.05" fill="#c33b4f"/><rect x="12" y="10" width="1.05" height="1.05" fill="#c43c4e"/><rect x="13" y="10" width="1.05" height="1.05" fill="#c63d4d"/><rect x="14" y="10" width="1.05" height="1.05" fill="#c73e4c"/><rect x="15" y="10" width="1.05" height="1.05" fill="#c83f4b"/><rect x="16" y="10" width="1.05" height="1.05" fill="#ca404a"/><rect x="17" y="10" width="1.05" height="1.05" fill="#cb4149"/><rect x="18" y="10" width="1.05" height="1.05" fill="#cc4248"/><rect x="19" y="10" width="1.05" height="1.05" fill="#ce4347"/>
<rect x="0" y="11" width="1.05" height="1.05" fill="#b3325a"/><rect x="1" y="11" width="1.05" height="1.05" fill="#b43359"/><rect x="2" y="11" width="1.05" height="1.05" fill="#b63458"/><rect x="3" y="11" width="1.05" height="1.05" fill="#b73557"/><rect x="4" y="11" width="1.05" height="1.05" fill="#b93556"/><rect x="5" y="11" width="1.05" height="1.05" fill="#ba3655"/><rect x="6" y="11" width="1.05" height="1.05" fill="#bc3754"/><rect x="7" y="11" width="1.05" height="1.05" fill="#bd3853"/><rect x="8" y="11" width="1.05" height="1.05" fill="#bf3952"/><rect x="9" y="11" width="1.05" height="1.05" fill="#bf3952"/><rect x="10" y="11" width="1.05" height="1.05" fill="#c03a51"/><rect x="11" y="11" width="1.05" height="1.05" fill="#c13a50"/><rect x="12" y="11" width="1.05" height="1.05" fill="#c33b4f"/><rect x="13" y="11" width="1.05" height="1.05" fill="#c43c4e"/><rect x="14" y="11" width="1.05" height="1.05" fill="#c63d4d"/><rect x="15" y="11" width="1.05" height="1.05" fill="#c73e4c"/><rect x="16" y="11" width="1.05" height="1.05" fill="#c83f4b"/><rect x="17" y="11" width="1.05" height="1.05" fill="#ca404a"/><rect x="18" y="11" width="1.05" height="1.05" fill="#cb4149"/><rect x="19" y="11" width="1.05" height="1.05" fill="#cc4248"/>
<rect x="0" y="12" width="1.05" height="1.05" fill="#b1325a"/><rect x="1" y="12" width="1.05" height="1.05" fill="#b3325a"/><rect x="2" y="12" width="1.05" height="1.05" fill="#b43359"/><rect x="3" y="12" width="1.05" height="1.05" fill="#b63458"/><rect x="4" y="12" width="1.05" height="1.05" fill="#b73557"/><rect x="5" y="12" width="1.05" height="1.05" fill="#b93556"/><rect x="6" y="12" width="1.05" height="1.05" fill="#ba3655"/><rect x="7" y="12" width="1.05" height="1.05" fill="#bc3754"/><rect x="8" y="12" width="1.05" height="1.05" fill="#bd3853"/><rect x="9" y="12" width="1.05" height="1.05" fill="#bf3952"/><rect x="10" y="12" width="1.05" height="1.05" fill="#c03a51"/><rect x="11" y="12" width="1.05" height="1.05" fill="#c13a50"/><rect x="12" y="12" width="1.05" height="1.05" fill="#c33b4f"/><rect x="13" y="12" width="1.05" height="1.05" fill="#c43c4e"/><rect x="14" y="12" width="1.05" height="1.05" fill="#c63d4d"/><rect x="15" y="12" width="1.05" height="1.05" fill="#c73e4c"/><rect x="16" y="12" width="1.05" height="1.05" fill="#c73e4c"/><rect x="17" y="12" width="1.05" height="1.05" fill="#c83f4b"/><rect x="18" y="12" width="1.05" height="1.05" fill="#ca404a"/><rect x="19" y="12" width="1.05" height="1.05" fill="#cb4149"/>
<rect x="0" y="13" width="1.05" height="1.05" fill="#b1325a"/><rect x="1" y="13" width="1.05" height="1.05" fill="#b3325a"/><rect x="2" y="13" width="1.05" height="1.05" fill="#b43359"/><rect x="3" y="13" width="1.05" height="1.05" fill="#b63458"/><rect x="4" y="13" width="1.05" height="1.05" fill="#b73557"/><rect x="5" y="13" width="1.05" height="1.05" fill="#b73557"/><rect x="6" y="13" width="1.05" height="1.05" fill="#b93556"/><rect x="7" y="13" width="1.05" height="1.05" fill="#ba3655"/><rect x="8" y="13" width="1.05" height="1.05" fill="#bc3754"/><rect x="9" y="13" width="1.05" height="1.05" fill="#bd3853"/><rect x="10" y="13" width="1.05" height="1.05" fill="#bf3952"/><rect x="11" y="13" width="1.05" height="1.05" fill="#c03a51"/><rect x="12" y="13" width="1.05" height="1.05" fill="#c13a50"/><rect x="13" y="13" width="1.05" height="1.05" fill="#c33b4f"/><rect x="14" y="13" width="1.05" height="1.05" fill="#c43c4e"/><rect x="15" y="13" width="1.05" height="1.05" fill="#c63d4d"/><rect x="16" y="13" width="1.05" height="1.05" fill="#c73e4c"/><rect x="17" y="13" width="1.05" height="1.05" fill="#c83f4b"/><rect x="18" y="13" width="1.05" height="1.05" fill="#ca404a"/><rect x="19" y="13" width="1.05" height="1.05" fill="#cb4149"/>
<rect x="0" y="14" width="1.05" height="1.05" fill="#b0315b"/><rect x="1" y="14" width="1.05" height="1.05" fill="#b1325a"/><rect x="2" y="14" width="1.05" height="1.05" fill="#b3325a"/><rect x="3" y="14" width="1.05" height="1.05" fill="#b43359"/><rect x="4" y="14" width="1.05" height="1.05" fill="#b63458"/><rect x="5" y="14" width="1.05" height="1.05" fill="#b73557"/><rect x="6" y="14" width="1.05" height="1.05" fill="#b93556"/><rect x="7" y="14" width="1.05" height="1.05" fill="#ba3655"/><rect x="8" y="14" width="1.05" height="1.05" fill="#bc3754"/><rect x="9" y="14" width="1.05" height="1.05" fill="#bd3853"/><rect x="10" y="14" width="1.05" height="1.05" fill="#bf3952"/><rect x="11" y="14" width="1.05" height="1.05" fill="#c03a51"/><rect x="12" y="14" width="1.05" height="1.05" fill="#c03a51"/><rect x="13" y="14" width="1.05" height="1.05" fill="#c13a50"/><rect x="14" y="14" width="1.05" height="1.05" fill="#c33b4f"/><rect x="15" y="14" width="1.05" height="1.05" fill="#c43c4e"/><rect x="16" y="14" width="1.05" height="1.05" fill="#c63d4d"/><rect x="17" y="14" width="1.05" height="1.05" fill="#c73e4c"/><rect x="18" y="14" width="1.05" height="1.05" fill="#c83f4b"/><rect x="19" y="14" width="1.05" height="1.05" fill="#ca404a"/>
<rect x="0" y="15" width="1.05" height="1.05" fill="#b0315b"/><rect x="1" y="15" width="1.05" height="1.05" fill="#b1325a"/><rect x="2" y="15" width="1.05" height="1.05" fill="#b1325a"/><rect x="3" y="15" width="1.05" height="1.05" fill="#b3325a"/><rect x="4" y="15" width="1.05" height="1.05" fill="#b43359"/><rect x="5" y="15" width="1.05" height="1.05" fill="#b63458"/><rect x="6" y="15" width="1.05" height="1.05" fill="#b73557"/><rect x="7" y="15" width="1.05" height="1.05" fill="#b93556"/><rect x="8" y="15" width="1.05" height="1.05" fill="#ba3655"/><rect x="9" y="15" width="1.05" height="1.05" fill="#bc3754"/><rect x="10" y="15" width="1.05" height="1.05" fill="#bd3853"/><rect x="11" y="15" width="1.05" height="1.05" fill="#bf3952"/><rect x="12" y="15" width="1.05" height="1.05" fill="#c03a51"/><rect x="13" y="15" width="1.05" height="1.05" fill="#c13a50"/><rect x="14" y="15" width="1.05" height="1.05" fill="#c33b4f"/><rect x="15" y="15" width="1.05" height="1.05" fill="#c43c4e"/><rect x="16" y="15" width="1.05" height="1.05" fill="#c63d4d"/><rect x="17" y="15" width="1.05" height="1.05" fill="#c73e4c"/><rect x="18" y="15" width="1.05" height="1.05" fill="#c83f4b"/><rect x="19" y="15" width="1.05" height="1.05" fill="#c83f4b"/>
<rect x="0" y="16" width="1.05" height="1.05" fill="#ae305c"/><rect x="1" y="16" width="1.05" height="1.05" fill="#b0315b"/><rect x="2" y="16" width="1.05" height="1.05" fill="#b1325a"/><rect x="3" y="16" width="1.05" height="1.05" fill="#b3325a"/><rect x="4" y="16" width="1.05" height="1.05" fill="#b43359"/><rect x="5" y="16" width="1.05" height="1.05" fill="#b63458"/><rect x="6" y="16" width="1.05" height="1.05" fill="#b73557"/><rect x="7" y="16" width="1.05" height="1.05" fill="#b93556"/><rect x="8" y="16" width="1.05" height="1.05" fill="#b93556"/><rect x="9" y="16" width="1.05" height="1.05" fill="#ba3655"/><rect x="10" y="16" width="1.05" height="1.05" fill="#bc3754"/><rect x="11" y="16" width="1.05" height="1.05" fill="#bd3853"/><rect x="12" y="16" width="1.05" height="1.05" fill="#bf3952"/><rect x="13" y="16" width="1.05" height="1.05" fill="#c03a51"/><rect x="14" y="16" width="1.05" height="1.05" fill="#c13a50"/><rect x="15" y="16" width="1.05" height="1.05" fill="#c33b4f"/><rect x="16" y="16" width="1.05" height="1.05" fill="#c43c4e"/><rect x="17" y="16" width="1.05" height="1.05" fill="#c63d4d"/><rect x="18" y="16" width="1.05" height="1.05" fill="#c73e4c"/><rect x="19" y="16" width="1.05" height="1.05" fill="#c83f4b"/>
<rect x="0" y="17" width="1.05" height="1.05" fill="#ad305d"/><rect x="1" y="17" width="1.05" height="1.05" fill="#ae305c"/><rect x="2" y="17" width="1.05" height="1.05" fill="#b0315b"/><rect x="3" y="17" width="1.05" height="1.05" fill="#b1325a"/><rect x="4" y="17" width="1.05" height="1.05" fill="#b3325a"/><rect x="5" y="17" width="1.05" height="1.05" fill="#b43359"/><rect x="6" y="17" width="1.05" height="1.05" fill="#b63458"/><rect x="7" y="17" width="1.05" height="1.05" fill="#b73557"/><rect x="8" y="17" width="1.05" height="1.05" fill="#b93556"/><rect x="9" y="17" width="1.05" height="1.05" fill="#ba3655"/><rect x="10" y="17" width="1.05" height="1.05" fill="#bc3754"/><rect x="11" y="17" width="1.05" height="1.05" fill="#bd3853"/><rect x="12" y="17" width="1.05" height="1.05" fill="#bf3952"/><rect x="13" y="17" width="1.05" height="1.05" fill="#c03a51"/><rect x="14" y="17" width="1.05" height="1.05" fill="#c13a50"/><rect x="15" y="17" width="1.05" height="1.05" fill="#c13a50"/><rect x="16" y="17" width="1.05" height="1.05" fill="#c33b4f"/><rect x="17" y="17" width="1.05" height="1.05" fill="#c43c4e"/><rect x="18" y="17" width="1.05" height="1.05" fill="#c63d4d"/><rect x="19" y="17" width="1.05" height="1.05" fill="#c73e4c"/>
<rect x="0" y="18" width="1.05" height="1.05" fill="#ad305d"/><rect x="1" y="18" width="1.05" height="1.05" fill="#ae305c"/><rect x="2" y="18" width="1.05" height="1.05" fill="#b0315b"/><rect x="3" y="18" width="1.05" height="1.05" fill="#b1325a"/><rect x="4" y="18" width="1.05" height="1.05" fill="#b3325a"/><rect x="5" y="18" width="1.05" height="1.05" fill="#b3325a"/><rect x="6" y="18" width="1.05" height="1.05" fill="#b43359"/><rect x="7" y="18" width="1.05" height="1.05" fill="#b63458"/><rect x="8" y="18" width="1.05" height="1.05" fill="#b73557"/><rect x="9" y="18" width="1.05" height="1.05" fill="#b93556"/><rect x="10" y="18" width="1.05" height="1.05" fill="#ba3655"/><rect x="11" y="18" width="1.05" height="1.05" fill="#bc3754"/><rect x="12" y="18" width="1.05" height="1.05" fill="#bd3853"/><rect x="13" y="18" width="1.05" height="1.05" fill="#bf3952"/><rect x="14" y="18" width="1.05" height="1.05" fill="#c03a51"/><rect x="15" y="18" width="1.05" height="1.05" fill="#c13a50"/><rect x="16" y="18" width="1.05" height="1.05" fill="#c33b4f"/><rect x="17" y="18" width="1.05" height="1.05" fill="#c43c4e"/><rect x="18" y="18" width="1.05" height="1.05" fill="#c63d4d"/><rect x="19" y="18" width="1.05" height="1.05" fill="#c73e4c"/>
<rect x="0" y="19" width="1.05" height="1.05" fill="#ab2f5e"/><rect x="1" y="19" width="1.05" height="1.05" fill="#ad305d"/><rect x="2" y="19" width="1.05" height="1.05" fill="#ae305c"/><rect x="3" y="19" width="1.05" height="1.05" fill="#b0315b"/><rect x="4" y="19" width="1.05" height="1.05" fill="#b1325a"/><rect x="5" y="19" width="1.05" height="1.05" fill="#b3325a"/><rect x="6" y="19" width="1.05" height="1.05" fill="#b43359"/><rect x="7" y="19" width="1.05" height="1.05" fill="#b63458"/><rect x="8" y="19" width="1.05" height="1.05" fill="#b73557"/><rect x="9" y="19" width="1.05" height="1.05" fill="#b93556"/><rect x="10" y="19" width="1.05" height="1.05" fill="#ba3655"/><rect x="11" y="19" width="1.05" height="1.05" fill="#bc3754"/><rect x="12" y="19" width="1.05" height="1.05" fill="#bc3754"/><rect x="13" y="19" width="1.05" height="1.05" fill="#bd3853"/><rect x="14" y="19" width="1.05" height="1.05" fill="#bf3952"/><rect x="15" y="19" width="1.05" height="1.05" fill="#c03a51"/><rect x="16" y="19" width="1.05" height="1.05" fill="#c13a50"/><rect x="17" y="19" width="1.05" height="1.05" fill="#c33b4f"/><rect x="18" y="19" width="1.05" height="1.05" fill="#c43c4e"/><rect x="19" y="19" width="1.05" height="1.05" fill="#c63d4d"/>
</svg>
<svg class="h" x="945.50" y="64.20" width="408.70" height="282.50" viewBox="0.0411 0.0567 19.9520 19.8796" preserveAspectRatio="none" shape-rendering="crispEdges">
<rect x="-1" y="-1" width="23" height="23" fill="#902568"/>
<rect x="0" y="0" width="1.05" height="1.05" fill="#a52c60"/><rect x="1" y="0" width="1.05" height="1.05" fill="#a02a63"/><rect x="2" y="0" width="1.05" height="1.05" fill="#9b2964"/><rect x="3" y="0" width="1.05" height="1.05" fill="#982766"/><rect x="4" y="0" width="1.05" height="1.05" fill="#932667"/><rect x="5" y="0" width="1.05" height="1.05" fill="#8f2469"/><rect x="6" y="0" width="1.05" height="1.05" fill="#8c2369"/><rect x="7" y="0" width="1.05" height="1.05" fill="#87216b"/><rect x="8" y="0" width="1.05" height="1.05" fill="#82206c"/><rect x="9" y="0" width="1.05" height="1.05" fill="#7f1e6c"/><rect x="10" y="0" width="1.05" height="1.05" fill="#7a1d6d"/><rect x="11" y="0" width="1.05" height="1.05" fill="#751b6e"/><rect x="12" y="0" width="1.05" height="1.05" fill="#721a6e"/><rect x="13" y="0" width="1.05" height="1.05" fill="#6d186e"/><rect x="14" y="0" width="1.05" height="1.05" fill="#69166e"/><rect x="15" y="0" width="1.05" height="1.05" fill="#65156e"/><rect x="16" y="0" width="1.05" height="1.05" fill="#61136e"/><rect x="17" y="0" width="1.05" height="1.05" fill="#5d126e"/><rect x="18" y="0" width="1.05" height="1.05" fill="#59106e"/><rect x="19" y="0" width="1.05" height="1.05" fill="#540f6d"/>
<rect x="0" y="1" width="1.05" height="1.05" fill="#a22b62"/><rect x="1" y="1" width="1.05" height="1.05" fill="#9f2a63"/><rect x="2" y="1" width="1.05" height="1.05" fill="#9a2865"/><rect x="3" y="1" width="1.05" height="1.05" fill="#972766"/><rect x="4" y="1" width="1.05" height="1.05" fill="#932667"/><rect x="5" y="1" width="1.05" height="1.05" fill="#8f2469"/><rect x="6" y="1" width="1.05" height="1.05" fill="#8c2369"/><rect x="7" y="1" width="1.05" height="1.05" fill="#88226a"/><rect x="8" y="1" width="1.05" height="1.05" fill="#84206b"/><rect x="9" y="1" width="1.05" height="1.05" fill="#801f6c"/><rect x="10" y="1" width="1.05" height="1.05" fill="#7d1e6d"/><rect x="11" y="1" width="1.05" height="1.05" fill="#781c6d"/><rect x="12" y="1" width="1.05" height="1.05" fill="#751b6e"/><rect x="13" y="1" width="1.05" height="1.05" fill="#721a6e"/><rect x="14" y="1" width="1.05" height="1.05" fill="#6d186e"/><rect x="15" y="1" width="1.05" height="1.05" fill="#6a176e"/><rect x="16" y="1" width="1.05" height="1.05" fill="#67166e"/><rect x="17" y="1" width="1.05" height="1.05" fill="#62146e"/><rect x="18" y="1" width="1.05" height="1.05" fill="#5f136e"/><rect x="19" y="1" width="1.05" height="1.05" fill="#5c126e"/>
<rect x="0" y="2" width="1.05" height="1.05" fill="#9f2a63"/><rect x="1" y="2" width="1.05" height="1.05" fill="#9b2964"/><rect x="2" y="2" width="1.05" height="1.05" fill="#982766"/><rect x="3" y="2" width="1.05" height="1.05" fill="#952667"/><rect x="4" y="2" width="1.05" height="1.05" fill="#922568"/><rect x="5" y="2" width="1.05" height="1.05" fill="#8f2469"/><rect x="6" y="2" width="1.05" height="1.05" fill="#8c2369"/><rect x="7" y="2" width="1.05" height="1.05" fill="#88226a"/><rect x="8" y="2" width="1.05" height="1.05" fill="#85216b"/><rect x="9" y="2" width="1.05" height="1.05" fill="#82206c"/><rect x="10" y="2" width="1.05" height="1.05" fill="#7f1e6c"/><rect x="11" y="2" width="1.05" height="1.05" fill="#7c1d6d"/><rect x="12" y="2" width="1.05" height="1.05" fill="#781c6d"/><rect x="13" y="2" width="1.05" height="1.05" fill="#751b6e"/><rect x="14" y="2" width="1.05" height="1.05" fill="#721a6e"/><rect x="15" y="2" width="1.05" height="1.05" fill="#6f196e"/><rect x="16" y="2" width="1.05" height="1.05" fill="#6c186e"/><rect x="17" y="2" width="1.05" height="1.05" fill="#69166e"/><rect x="18" y="2" width="1.05" height="1.05" fill="#65156e"/><rect x="19" y="2" width="1.05" height="1.05" fill="#62146e"/>
<rect x="0" y="3" width="1.05" height="1.05" fill="#9d2964"/><rect x="1" y="3" width="1.05" height="1.05" fill="#9a2865"/><rect x="2" y="3" width="1.05" height="1.05" fill="#972766"/><rect x="3" y="3" width="1.05" height="1.05" fill="#932667"/><rect x="4" y="3" width="1.05" height="1.05" fill="#922568"/><rect x="5" y="3" width="1.05" height="1.05" fill="#8f2469"/><rect x="6" y="3" width="1.05" height="1.05" fill="#8c2369"/><rect x="7" y="3" width="1.05" height="1.05" fill="#8a226a"/><rect x="8" y="3" width="1.05" height="1.05" fill="#87216b"/><rect x="9" y="3" width="1.05" height="1.05" fill="#84206b"/><rect x="10" y="3" width="1.05" height="1.05" fill="#82206c"/><rect x="11" y="3" width="1.05" height="1.05" fill="#7f1e6c"/><rect x="12" y="3" width="1.05" height="1.05" fill="#7c1d6d"/><rect x="13" y="3" width="1.05" height="1.05" fill="#7a1d6d"/><rect x="14" y="3" width="1.05" height="1.05" fill="#771c6d"/><rect x="15" y="3" width="1.05" height="1.05" fill="#741a6e"/><rect x="16" y="3" width="1.05" height="1.05" fill="#71196e"/><rect x="17" y="3" width="1.05" height="1.05" fill="#6f196e"/><rect x="18" y="3" width="1.05" height="1.05" fill="#6c186e"/><rect x="19" y="3" width="1.05" height="1.05" fill="#69166e"/>
<rect x="0" y="4" width="1.05" height="1.05" fill="#9a2865"/><rect x="1" y="4" width="1.05" height="1.05" fill="#972766"/><rect x="2" y="4" width="1.05" height="1.05" fill="#952667"/><rect x="3" y="4" width="1.05" height="1.05" fill="#932667"/><rect x="4" y="4" width="1.05" height="1.05" fill="#902568"/><rect x="5" y="4" width="1.05" height="1.05" fill="#8f2469"/><rect x="6" y="4" width="1.05" height="1.05" fill="#8d2369"/><rect x="7" y="4" width="1.05" height="1.05" fill="#8a226a"/><rect x="8" y="4" width="1.05" height="1.05" fill="#88226a"/><rect x="9" y="4" width="1.05" height="1.05" fill="#85216b"/><rect x="10" y="4" width="1.05" height="1.05" fill="#84206b"/><rect x="11" y="4" width="1.05" height="1.05" fill="#82206c"/><rect x="12" y="4" width="1.05" height="1.05" fill="#7f1e6c"/><rect x="13" y="4" width="1.05" height="1.05" fill="#7d1e6d"/><rect x="14" y="4" width="1.05" height="1.05" fill="#7c1d6d"/><rect x="15" y="4" width="1.05" height="1.05" fill="#781c6d"/><rect x="16" y="4" width="1.05" height="1.05" fill="#771c6d"/><rect x="17" y="4" width="1.05" height="1.05" fill="#741a6e"/><rect x="18" y="4" width="1.05" height="1.05" fill="#721a6e"/><rect x="19" y="4" width="1.05" height="1.05" fill="#71196e"/>
<rect x="0" y="5" width="1.05" height="1.05" fill="#972766"/><rect x="1" y="5" width="1.05" height="1.05" fill="#952667"/><rect x="2" y="5" width="1.05" height="1.05" fill="#932667"/><rect x="3" y="5" width="1.05" height="1.05" fill="#922568"/><rect x="4" y="5" width="1.05" height="1.05" fill="#902568"/><rect x="5" y="5" width="1.05" height="1.05" fill="#8f2469"/><rect x="6" y="5" width="1.05" height="1.05" fill="#8d2369"/><rect x="7" y="5" width="1.05" height="1.05" fill="#8c2369"/><rect x="8" y="5" width="1.05" height="1.05" fill="#8a226a"/><rect x="9" y="5" width="1.05" height="1.05" fill="#88226a"/><rect x="10" y="5" width="1.05" height="1.05" fill="#87216b"/><rect x="11" y="5" width="1.05" height="1.05" fill="#85216b"/><rect x="12" y="5" width="1.05" height="1.05" fill="#82206c"/><rect x="13" y="5" width="1.05" height="1.05" fill="#801f6c"/><rect x="14" y="5" width="1.05" height="1.05" fill="#7f1e6c"/><rect x="15" y="5" width="1.05" height="1.05" fill="#7d1e6d"/><rect x="16" y="5" width="1.05" height="1.05" fill="#7c1d6d"/><rect x="17" y="5" width="1.05" height="1.05" fill="#7a1d6d"/><rect x="18" y="5" width="1.05" height="1.05" fill="#781c6d"/><rect x="19" y="5" width="1.05" height="1.05" fill="#771c6d"/>
<rect x="0" y="6" width="1.05" height="1.05" fill="#932667"/><rect x="1" y="6" width="1.05" height="1.05" fill="#932667"/><rect x="2" y="6" width="1.05" height="1.05" fill="#922568"/><rect x="3" y="6" width="1.05" height="1.05" fill="#902568"/><rect x="4" y="6" width="1.05" height="1.05" fill="#902568"/><rect x="5" y="6" width="1.05" height="1.05" fill="#8f2469"/><rect x="6" y="6" width="1.05" height="1.05" fill="#8d2369"/><rect x="7" y="6" width="1.05" height="1.05" fill="#8c2369"/><rect x="8" y="6" width="1.05" height="1.05" fill="#8c2369"/><rect x="9" y="6" width="1.05" height="1.05" fill="#8a226a"/><rect x="10" y="6" width="1.05" height="1.05" fill="#88226a"/><rect x="11" y="6" width="1.05" height="1.05" fill="#87216b"/><rect x="12" y="6" width="1.05" height="1.05" fill="#87216b"/><rect x="13" y="6" width="1.05" height="1.05" fill="#85216b"/><rect x="14" y="6" width="1.05" height="1.05" fill="#84206b"/><rect x="15" y="6" width="1.05" height="1.05" fill="#82206c"/><rect x="16" y="6" width="1.05" height="1.05" fill="#82206c"/><rect x="17" y="6" width="1.05" height="1.05" fill="#801f6c"/><rect x="18" y="6" width="1.05" height="1.05" fill="#7f1e6c"/><rect x="19" y="6" width="1.05" height="1.05" fill="#7d1e6d"/>
<rect x="0" y="7" width="1.05" height="1.05" fill="#922568"/><rect x="1" y="7" width="1.05" height="1.05" fill="#902568"/><rect x="2" y="7" width="1.05" height="1.05" fill="#902568"/><rect x="3" y="7" width="1.05" height="1.05" fill="#902568"/><rect x="4" y="7" width="1.05" height="1.05" fill="#8f2469"/><rect x="5" y="7" width="1.05" height="1.05" fill="#8f2469"/><rect x="6" y="7" width="1.05" height="1.05" fill="#8d2369"/><rect x="7" y="7" width="1.05" height="1.05" fill="#8d2369"/><rect x="8" y="7" width="1.05" height="1.05" fill="#8c2369"/><rect x="9" y="7" width="1.05" height="1.05" fill="#8c2369"/><rect x="10" y="7" width="1.05" height="1.05" fill="#8c2369"/><rect x="11" y="7" width="1.05" height="1.05" fill="#8a226a"/><rect x="12" y="7" width="1.05" height="1.05" fill="#8a226a"/><rect x="13" y="7" width="1.05" height="1.05" fill="#88226a"/><rect x="14" y="7" width="1.05" height="1.05" fill="#88226a"/><rect x="15" y="7" width="1.05" height="1.05" fill="#88226a"/><rect x="16" y="7" width="1.05" height="1.05" fill="#87216b"/><rect x="17" y="7" width="1.05" height="1.05" fill="#87216b"/><rect x="18" y="7" width="1.05" height="1.05" fill="#85216b"/><rect x="19" y="7" width="1.05" height="1.05" fill="#85216b"/>
<rect x="0" y="8" width="1.05" height="1.05" fill="#8f2469"/><rect x="1" y="8" width="1.05" height="1.05" fill="#8f2469"/><rect x="2" y="8" width="1.05" height="1.05" fill="#8f2469"/><rect x="3" y="8" width="1.05" height="1.05" fill="#8f2469"/><rect x="4" y="8" width="1.05" height="1.05" fill="#8f2469"/><rect x="5" y="8" width="1.05" height="1.05" fill="#8f2469"/><rect x="6" y="8" width="1.05" height="1.05" fill="#8f2469"/><rect x="7" y="8" width="1.05" height="1.05" fill="#8d2369"/><rect x="8" y="8" width="1.05" height="1.05" fill="#8d2369"/><rect x="9" y="8" width="1.05" height="1.05" fill="#8d2369"/><rect x="10" y="8" width="1.05" height="1.05" fill="#8d2369"/><rect x="11" y="8" width="1.05" height="1.05" fill="#8d2369"/><rect x="12" y="8" width="1.05" height="1.05" fill="#8d2369"/><rect x="13" y="8" width="1.05" height="1.05" fill="#8d2369"/><rect x="14" y="8" width="1.05" height="1.05" fill="#8d2369"/><rect x="15" y="8" width="1.05" height="1.05" fill="#8d2369"/><rect x="16" y="8" width="1.05" height="1.05" fill="#8d2369"/><rect x="17" y="8" width="1.05" height="1.05" fill="#8c2369"/><rect x="18" y="8" width="1.05" height="1.05" fill="#8c2369"/><rect x="19" y="8" width="1.05" height="1.05" fill="#8c2369"/>
<rect x="0" y="9" width="1.05" height="1.05" fill="#8c2369"/><rect x="1" y="9" width="1.05" height="1.05" fill="#8d2369"/><rect x="2" y="9" width="1.05" height="1.05" fill="#8d2369"/><rect x="3" y="9" width="1.05" height="1.05" fill="#8d2369"/><rect x="4" y="9" width="1.05" height="1.05" fill="#8d2369"/><rect x="5" y="9" width="1.05" height="1.05" fill="#8f2469"/><rect x="6" y="9" width="1.05" height="1.05" fill="#8f2469"/><rect x="7" y="9" width="1.05" height="1.05" fill="#8f2469"/><rect x="8" y="9" width="1.05" height="1.05" fill="#8f2469"/><rect x="9" y="9" width="1.05" height="1.05" fill="#8f2469"/><rect x="10" y="9" width="1.05" height="1.05" fill="#902568"/><rect x="11" y="9" width="1.05" height="1.05" fill="#902568"/><rect x="12" y="9" width="1.05" height="1.05" fill="#902568"/><rect x="13" y="9" width="1.05" height="1.05" fill="#902568"/><rect x="14" y="9" width="1.05" height="1.05" fill="#922568"/><rect x="15" y="9" width="1.05" height="1.05" fill="#922568"/><rect x="16" y="9" width="1.05" height="1.05" fill="#922568"/><rect x="17" y="9" width="1.05" height="1.05" fill="#922568"/><rect x="18" y="9" width="1.05" height="1.05" fill="#922568"/><rect x="19" y="9" width="1.05" height="1.05" fill="#932667"/>
<rect x="0" y="10" width="1.05" height="1.05" fill="#8a226a"/><rect x="1" y="10" width="1.05" height="1.05" fill="#8a226a"/><rect x="2" y="10" width="1.05" height="1.05" fill="#8c2369"/><rect x="3" y="10" width="1.05" height="1.05" fill="#8c2369"/><rect x="4" y="10" width="1.05" height="1.05" fill="#8d2369"/><rect x="5" y="10" width="1.05" height="1.05" fill="#8d2369"/><rect x="6" y="10" width="1.05" height="1.05" fill="#8f2469"/><rect x="7" y="10" width="1.05" height="1.05" fill="#902568"/><rect x="8" y="10" width="1.05" height="1.05" fill="#902568"/><rect x="9" y="10" width="1.05" height="1.05" fill="#922568"/><rect x="10" y="10" width="1.05" height="1.05" fill="#922568"/><rect x="11" y="10" width="1.05" height="1.05" fill="#932667"/><rect x="12" y="10" width="1.05" height="1.05" fill="#932667"/><rect x="13" y="10" width="1.05" height="1.05" fill="#952667"/><rect x="14" y="10" width="1.05" height="1.05" fill="#952667"/><rect x="15" y="10" width="1.05" height="1.05" fill="#972766"/><rect x="16" y="10" width="1.05" height="1.05" fill="#972766"/><rect x="17" y="10" width="1.05" height="1.05" fill="#982766"/><rect x="18" y="10" width="1.05" height="1.05" fill="#982766"/><rect x="19" y="10" width="1.05" height="1.05" fill="#9a2865"/>
<rect x="0" y="11" width="1.05" height="1.05" fill="#87216b"/><rect x="1" y="11" width="1.05" height="1.05" fill="#88226a"/><rect x="2" y="11" width="1.05" height="1.05" fill="#8a226a"/><rect x="3" y="11" width="1.05" height="1.05" fill="#8c2369"/><rect x="4" y="11" width="1.05" height="1.05" fill="#8c2369"/><rect x="5" y="11" width="1.05" height="1.05" fill="#8d2369"/><rect x="6" y="11" width="1.05" height="1.05" fill="#8f2469"/><rect x="7" y="11" width="1.05" height="1.05" fill="#902568"/><rect x="8" y="11" width="1.05" height="1.05" fill="#922568"/><rect x="9" y="11" width="1.05" height="1.05" fill="#932667"/><rect x="10" y="11" width="1.05" height="1.05" fill="#952667"/><rect x="11" y="11" width="1.05" height="1.05" fill="#972766"/><rect x="12" y="11" width="1.05" height="1.05" fill="#972766"/><rect x="13" y="11" width="1.05" height="1.05" fill="#982766"/><rect x="14" y="11" width="1.05" height="1.05" fill="#9a2865"/><rect x="15" y="11" width="1.05" height="1.05" fill="#9b2964"/><rect x="16" y="11" width="1.05" height="1.05" fill="#9d2964"/><rect x="17" y="11" width="1.05" height="1.05" fill="#9f2a63"/><rect x="18" y="11" width="1.05" height="1.05" fill="#a02a63"/><rect x="19" y="11" width="1.05" height="1.05" fill="#a02a63"/>
<rect x="0" y="12" width="1.05" height="1.05" fill="#84206b"/><rect x="1" y="12" width="1.05" height="1.05" fill="#87216b"/><rect x="2" y="12" width="1.05" height="1.05" fill="#88226a"/><rect x="3" y="12" width="1.05" height="1.05" fill="#8a226a"/><rect x="4" y="12" width="1.05" height="1.05" fill="#8c2369"/><rect x="5" y="12" width="1.05" height="1.05" fill="#8d2369"/><rect x="6" y="12" width="1.05" height="1.05" fill="#8f2469"/><rect x="7" y="12" width="1.05" height="1.05" fill="#922568"/><rect x="8" y="12" width="1.05" height="1.05" fill="#932667"/><rect x="9" y="12" width="1.05" height="1.05" fill="#952667"/><rect x="10" y="12" width="1.05" height="1.05" fill="#972766"/><rect x="11" y="12" width="1.05" height="1.05" fill="#982766"/><rect x="12" y="12" width="1.05" height="1.05" fill="#9b2964"/><rect x="13" y="12" width="1.05" height="1.05" fill="#9d2964"/><rect x="14" y="12" width="1.05" height="1.05" fill="#9f2a63"/><rect x="15" y="12" width="1.05" height="1.05" fill="#a02a63"/><rect x="16" y="12" width="1.05" height="1.05" fill="#a22b62"/><rect x="17" y="12" width="1.05" height="1.05" fill="#a32c61"/><rect x="18" y="12" width="1.05" height="1.05" fill="#a62d60"/><rect x="19" y="12" width="1.05" height="1.05" fill="#a82e5f"/>
<rect x="0" y="13" width="1.05" height="1.05" fill="#82206c"/><rect x="1" y="13" width="1.05" height="1.05" fill="#84206b"/><rect x="2" y="13" width="1.05" height="1.05" fill="#87216b"/><rect x="3" y="13" width="1.05" height="1.05" fill="#88226a"/><rect x="4" y="13" width="1.05" height="1.05" fill="#8c2369"/><rect x="5" y="13" width="1.05" height="1.05" fill="#8d2369"/><rect x="6" y="13" width="1.05" height="1.05" fill="#902568"/><rect x="7" y="13" width="1.05" height="1.05" fill="#922568"/><rect x="8" y="13" width="1.05" height="1.05" fill="#952667"/><rect x="9" y="13" width="1.05" height="1.05" fill="#972766"/><rect x="10" y="13" width="1.05" height="1.05" fill="#9a2865"/><rect x="11" y="13" width="1.05" height="1.05" fill="#9b2964"/><rect x="12" y="13" width="1.05" height="1.05" fill="#9f2a63"/><rect x="13" y="13" width="1.05" height="1.05" fill="#a02a63"/><rect x="14" y="13" width="1.05" height="1.05" fill="#a32c61"/><rect x="15" y="13" width="1.05" height="1.05" fill="#a52c60"/><rect x="16" y="13" width="1.05" height="1.05" fill="#a82e5f"/><rect x="17" y="13" width="1.05" height="1.05" fill="#a92e5e"/><rect x="18" y="13" width="1.05" height="1.05" fill="#ad305d"/><rect x="19" y="13" width="1.05" height="1.05" fill="#ae305c"/>
<rect x="0" y="14" width="1.05" height="1.05" fill="#7f1e6c"/><rect x="1" y="14" width="1.05" height="1.05" fill="#82206c"/><rect x="2" y="14" width="1.05" height="1.05" fill="#85216b"/><rect x="3" y="14" width="1.05" height="1.05" fill="#87216b"/><rect x="4" y="14" width="1.05" height="1.05" fill="#8a226a"/><rect x="5" y="14" width="1.05" height="1.05" fill="#8d2369"/><rect x="6" y="14" width="1.05" height="1.05" fill="#902568"/><rect x="7" y="14" width="1.05" height="1.05" fill="#932667"/><rect x="8" y="14" width="1.05" height="1.05" fill="#972766"/><rect x="9" y="14" width="1.05" height="1.05" fill="#982766"/><rect x="10" y="14" width="1.05" height="1.05" fill="#9b2964"/><rect x="11" y="14" width="1.05" height="1.05" fill="#9f2a63"/><rect x="12" y="14" width="1.05" height="1.05" fill="#a22b62"/><rect x="13" y="14" width="1.05" height="1.05" fill="#a52c60"/><rect x="14" y="14" width="1.05" height="1.05" fill="#a62d60"/><rect x="15" y="14" width="1.05" height="1.05" fill="#a92e5e"/><rect x="16" y="14" width="1.05" height="1.05" fill="#ad305d"/><rect x="17" y="14" width="1.05" height="1.05" fill="#b0315b"/><rect x="18" y="14" width="1.05" height="1.05" fill="#b3325a"/><rect x="19" y="14" width="1.05" height="1.05" fill="#b63458"/>
<rect x="0" y="15" width="1.05" height="1.05" fill="#7c1d6d"/><rect x="1" y="15" width="1.05" height="1.05" fill="#7f1e6c"/><rect x="2" y="15" width="1.05" height="1.05" fill="#84206b"/><rect x="3" y="15" width="1.05" height="1.05" fill="#87216b"/><rect x="4" y="15" width="1.05" height="1.05" fill="#8a226a"/><rect x="5" y="15" width="1.05" height="1.05" fill="#8d2369"/><rect x="6" y="15" width="1.05" height="1.05" fill="#902568"/><rect x="7" y="15" width="1.05" height="1.05" fill="#932667"/><rect x="8" y="15" width="1.05" height="1.05" fill="#972766"/><rect x="9" y="15" width="1.05" height="1.05" fill="#9b2964"/><rect x="10" y="15" width="1.05" height="1.05" fill="#9f2a63"/><rect x="11" y="15" width="1.05" height="1.05" fill="#a22b62"/><rect x="12" y="15" width="1.05" height="1.05" fill="#a52c60"/><rect x="13" y="15" width="1.05" height="1.05" fill="#a82e5f"/><rect x="14" y="15" width="1.05" height="1.05" fill="#ab2f5e"/><rect x="15" y="15" width="1.05" height="1.05" fill="#ae305c"/><rect x="16" y="15" width="1.05" height="1.05" fill="#b1325a"/><rect x="17" y="15" width="1.05" height="1.05" fill="#b63458"/><rect x="18" y="15" width="1.05" height="1.05" fill="#b93556"/><rect x="19" y="15" width="1.05" height="1.05" fill="#bc3754"/>
<rect x="0" y="16" width="1.05" height="1.05" fill="#7a1d6d"/><rect x="1" y="16" width="1.05" height="1.05" fill="#7d1e6d"/><rect x="2" y="16" width="1.05" height="1.05" fill="#82206c"/><rect x="3" y="16" width="1.05" height="1.05" fill="#85216b"/><rect x="4" y="16" width="1.05" height="1.05" fill="#88226a"/><rect x="5" y="16" width="1.05" height="1.05" fill="#8d2369"/><rect x="6" y="16" width="1.05" height="1.05" fill="#902568"/><rect x="7" y="16" width="1.05" height="1.05" fill="#952667"/><rect x="8" y="16" width="1.05" height="1.05" fill="#982766"/><rect x="9" y="16" width="1.05" height="1.05" fill="#9d2964"/><rect x="10" y="16" width="1.05" height="1.05" fill="#a02a63"/><rect x="11" y="16" width="1.05" height="1.05" fill="#a52c60"/><rect x="12" y="16" width="1.05" height="1.05" fill="#a82e5f"/><rect x="13" y="16" width="1.05" height="1.05" fill="#ad305d"/><rect x="14" y="16" width="1.05" height="1.05" fill="#b0315b"/><rect x="15" y="16" width="1.05" height="1.05" fill="#b3325a"/><rect x="16" y="16" width="1.05" height="1.05" fill="#b73557"/><rect x="17" y="16" width="1.05" height="1.05" fill="#ba3655"/><rect x="18" y="16" width="1.05" height="1.05" fill="#bf3952"/><rect x="19" y="16" width="1.05" height="1.05" fill="#c13a50"/>
<rect x="0" y="17" width="1.05" height="1.05" fill="#771c6d"/><rect x="1" y="17" width="1.05" height="1.05" fill="#7c1d6d"/><rect x="2" y="17" width="1.05" height="1.05" fill="#7f1e6c"/><rect x="3" y="17" width="1.05" height="1.05" fill="#84206b"/><rect x="4" y="17" width="1.05" height="1.05" fill="#88226a"/><rect x="5" y="17" width="1.05" height="1.05" fill="#8d2369"/><rect x="6" y="17" width="1.05" height="1.05" fill="#922568"/><rect x="7" y="17" width="1.05" height="1.05" fill="#952667"/><rect x="8" y="17" width="1.05" height="1.05" fill="#9a2865"/><rect x="9" y="17" width="1.05" height="1.05" fill="#9f2a63"/><rect x="10" y="17" width="1.05" height="1.05" fill="#a32c61"/><rect x="11" y="17" width="1.05" height="1.05" fill="#a62d60"/><rect x="12" y="17" width="1.05" height="1.05" fill="#ab2f5e"/><rect x="13" y="17" width="1.05" height="1.05" fill="#b0315b"/><rect x="14" y="17" width="1.05" height="1.05" fill="#b43359"/><rect x="15" y="17" width="1.05" height="1.05" fill="#b93556"/><rect x="16" y="17" width="1.05" height="1.05" fill="#bc3754"/><rect x="17" y="17" width="1.05" height="1.05" fill="#c03a51"/><rect x="18" y="17" width="1.05" height="1.05" fill="#c43c4e"/><rect x="19" y="17" width="1.05" height="1.05" fill="#c83f4b"/>
<rect x="0" y="18" width="1.05" height="1.05" fill="#741a6e"/><rect x="1" y="18" width="1.05" height="1.05" fill="#781c6d"/><rect x="2" y="18" width="1.05" height="1.05" fill="#7d1e6d"/><rect x="3" y="18" width="1.05" height="1.05" fill="#84206b"/><rect x="4" y="18" width="1.05" height="1.05" fill="#88226a"/><rect x="5" y="18" width="1.05" height="1.05" fill="#8d2369"/><rect x="6" y="18" width="1.05" height="1.05" fill="#922568"/><rect x="7" y="18" width="1.05" height="1.05" fill="#972766"/><rect x="8" y="18" width="1.05" height="1.05" fill="#9b2964"/><rect x="9" y="18" width="1.05" height="1.05" fill="#a02a63"/><rect x="10" y="18" width="1.05" height="1.05" fill="#a52c60"/><rect x="11" y="18" width="1.05" height="1.05" fill="#a92e5e"/><rect x="12" y="18" width="1.05" height="1.05" fill="#ae305c"/><rect x="13" y="18" width="1.05" height="1.05" fill="#b3325a"/><rect x="14" y="18" width="1.05" height="1.05" fill="#b93556"/><rect x="15" y="18" width="1.05" height="1.05" fill="#bd3853"/><rect x="16" y="18" width="1.05" height="1.05" fill="#c13a50"/><rect x="17" y="18" width="1.05" height="1.05" fill="#c63d4d"/><rect x="18" y="18" width="1.05" height="1.05" fill="#ca404a"/><rect x="19" y="18" width="1.05" height="1.05" fill="#ce4347"/>
<rect x="0" y="19" width="1.05" height="1.05" fill="#721a6e"/><rect x="1" y="19" width="1.05" height="1.05" fill="#771c6d"/><rect x="2" y="19" width="1.05" height="1.05" fill="#7c1d6d"/><rect x="3" y="19" width="1.05" height="1.05" fill="#82206c"/><rect x="4" y="19" width="1.05" height="1.05" fill="#87216b"/><rect x="5" y="19" width="1.05" height="1.05" fill="#8d2369"/><rect x="6" y="19" width="1.05" height="1.05" fill="#922568"/><rect x="7" y="19" width="1.05" height="1.05" fill="#972766"/><rect x="8" y="19" width="1.05" height="1.05" fill="#9d2964"/><rect x="9" y="19" width="1.05" height="1.05" fill="#a22b62"/><rect x="10" y="19" width="1.05" height="1.05" fill="#a82e5f"/><rect x="11" y="19" width="1.05" height="1.05" fill="#ad305d"/><rect x="12" y="19" width="1.05" height="1.05" fill="#b3325a"/><rect x="13" y="19" width="1.05" height="1.05" fill="#b73557"/><rect x="14" y="19" width="1.05" height="1.05" fill="#bc3754"/><rect x="15" y="19" width="1.05" height="1.05" fill="#c13a50"/><rect x="16" y="19" width="1.05" height="1.05" fill="#c63d4d"/><rect x="17" y="19" width="1.05" height="1.05" fill="#cb4149"/><rect x="18" y="19" width="1.05" height="1.05" fill="#cf4446"/><rect x="19" y="19" width="1.05" height="1.05" fill="#d34743"/>
</svg>
<svg class="h" x="88.40" y="366.90" width="408.60" height="282.00" viewBox="0.0411 0.0567 19.9471 19.8444" preserveAspectRatio="none" shape-rendering="crispEdges">
<rect x="-1" y="-1" width="23" height="23" fill="#ca404a"/>
<rect x="0" y="0" width="1.05" height="1.05" fill="#b63458"/><rect x="1" y="0" width="1.05" height="1.05" fill="#bc3754"/><rect x="2" y="0" width="1.05" height="1.05" fill="#c13a50"/><rect x="3" y="0" width="1.05" height="1.05" fill="#c73e4c"/><rect x="4" y="0" width="1.05" height="1.05" fill="#cc4248"/><rect x="5" y="0" width="1.05" height="1.05" fill="#d04545"/><rect x="6" y="0" width="1.05" height="1.05" fill="#d54a41"/><rect x="7" y="0" width="1.05" height="1.05" fill="#d94f3e"/><rect x="8" y="0" width="1.05" height="1.05" fill="#de563a"/><rect x="9" y="0" width="1.05" height="1.05" fill="#e15d38"/><rect x="10" y="0" width="1.05" height="1.05" fill="#e56434"/><rect x="11" y="0" width="1.05" height="1.05" fill="#e86a31"/><rect x="12" y="0" width="1.05" height="1.05" fill="#eb722d"/><rect x="13" y="0" width="1.05" height="1.05" fill="#ed782a"/><rect x="14" y="0" width="1.05" height="1.05" fill="#f08024"/><rect x="15" y="0" width="1.05" height="1.05" fill="#f3891f"/><rect x="16" y="0" width="1.05" height="1.05" fill="#f58e1c"/><rect x="17" y="0" width="1.05" height="1.05" fill="#f69319"/><rect x="18" y="0" width="1.05" height="1.05" fill="#f79817"/><rect x="19" y="0" width="1.05" height="1.05" fill="#f99d17"/>
<rect x="0" y="1" width="1.05" height="1.05" fill="#b63458"/><rect x="1" y="1" width="1.05" height="1.05" fill="#bc3754"/><rect x="2" y="1" width="1.05" height="1.05" fill="#c03a51"/><rect x="3" y="1" width="1.05" height="1.05" fill="#c63d4d"/><rect x="4" y="1" width="1.05" height="1.05" fill="#cb4149"/><rect x="5" y="1" width="1.05" height="1.05" fill="#cf4446"/><rect x="6" y="1" width="1.05" height="1.05" fill="#d44842"/><rect x="7" y="1" width="1.05" height="1.05" fill="#d94d3e"/><rect x="8" y="1" width="1.05" height="1.05" fill="#db523d"/><rect x="9" y="1" width="1.05" height="1.05" fill="#df583a"/><rect x="10" y="1" width="1.05" height="1.05" fill="#e36036"/><rect x="11" y="1" width="1.05" height="1.05" fill="#e66633"/><rect x="12" y="1" width="1.05" height="1.05" fill="#e96c30"/><rect x="13" y="1" width="1.05" height="1.05" fill="#eb722d"/><rect x="14" y="1" width="1.05" height="1.05" fill="#ee7a28"/><rect x="15" y="1" width="1.05" height="1.05" fill="#f08024"/><rect x="16" y="1" width="1.05" height="1.05" fill="#f28720"/><rect x="17" y="1" width="1.05" height="1.05" fill="#f48e1c"/><rect x="18" y="1" width="1.05" height="1.05" fill="#f69119"/><rect x="19" y="1" width="1.05" height="1.05" fill="#f79617"/>
<rect x="0" y="2" width="1.05" height="1.05" fill="#b63458"/><rect x="1" y="2" width="1.05" height="1.05" fill="#bc3754"/><rect x="2" y="2" width="1.05" height="1.05" fill="#c03a51"/><rect x="3" y="2" width="1.05" height="1.05" fill="#c43c4e"/><rect x="4" y="2" width="1.05" height="1.05" fill="#ca404a"/><rect x="5" y="2" width="1.05" height="1.05" fill="#ce4347"/><rect x="6" y="2" width="1.05" height="1.05" fill="#d34743"/><rect x="7" y="2" width="1.05" height="1.05" fill="#d74b3f"/><rect x="8" y="2" width="1.05" height="1.05" fill="#da4f3e"/><rect x="9" y="2" width="1.05" height="1.05" fill="#dd553b"/><rect x="10" y="2" width="1.05" height="1.05" fill="#e15b38"/><rect x="11" y="2" width="1.05" height="1.05" fill="#e46136"/><rect x="12" y="2" width="1.05" height="1.05" fill="#e66634"/><rect x="13" y="2" width="1.05" height="1.05" fill="#e96c30"/><rect x="14" y="2" width="1.05" height="1.05" fill="#eb722d"/><rect x="15" y="2" width="1.05" height="1.05" fill="#ee782a"/><rect x="16" y="2" width="1.05" height="1.05" fill="#ef7f25"/><rect x="17" y="2" width="1.05" height="1.05" fill="#f28521"/><rect x="18" y="2" width="1.05" height="1.05" fill="#f48c1d"/><rect x="19" y="2" width="1.05" height="1.05" fill="#f58f1a"/>
<rect x="0" y="3" width="1.05" height="1.05" fill="#b73557"/><rect x="1" y="3" width="1.05" height="1.05" fill="#bc3754"/><rect x="2" y="3" width="1.05" height="1.05" fill="#c03a51"/><rect x="3" y="3" width="1.05" height="1.05" fill="#c43c4e"/><rect x="4" y="3" width="1.05" height="1.05" fill="#c83f4b"/><rect x="5" y="3" width="1.05" height="1.05" fill="#cc4248"/><rect x="6" y="3" width="1.05" height="1.05" fill="#d04545"/><rect x="7" y="3" width="1.05" height="1.05" fill="#d44842"/><rect x="8" y="3" width="1.05" height="1.05" fill="#d84c3f"/><rect x="9" y="3" width="1.05" height="1.05" fill="#da513d"/><rect x="10" y="3" width="1.05" height="1.05" fill="#de563a"/><rect x="11" y="3" width="1.05" height="1.05" fill="#e05b39"/><rect x="12" y="3" width="1.05" height="1.05" fill="#e46136"/><rect x="13" y="3" width="1.05" height="1.05" fill="#e66634"/><rect x="14" y="3" width="1.05" height="1.05" fill="#e96c30"/><rect x="15" y="3" width="1.05" height="1.05" fill="#eb702e"/><rect x="16" y="3" width="1.05" height="1.05" fill="#ed762a"/><rect x="17" y="3" width="1.05" height="1.05" fill="#ef7d26"/><rect x="18" y="3" width="1.05" height="1.05" fill="#f08223"/><rect x="19" y="3" width="1.05" height="1.05" fill="#f3891f"/>
<rect x="0" y="4" width="1.05" height="1.05" fill="#b73557"/><rect x="1" y="4" width="1.05" height="1.05" fill="#bc3754"/><rect x="2" y="4" width="1.05" height="1.05" fill="#c03a51"/><rect x="3" y="4" width="1.05" height="1.05" fill="#c33b4f"/><rect x="4" y="4" width="1.05" height="1.05" fill="#c73e4c"/><rect x="5" y="4" width="1.05" height="1.05" fill="#cb4149"/><rect x="6" y="4" width="1.05" height="1.05" fill="#cf4446"/><rect x="7" y="4" width="1.05" height="1.05" fill="#d24644"/><rect x="8" y="4" width="1.05" height="1.05" fill="#d54a41"/><rect x="9" y="4" width="1.05" height="1.05" fill="#d94e3e"/><rect x="10" y="4" width="1.05" height="1.05" fill="#db523c"/><rect x="11" y="4" width="1.05" height="1.05" fill="#de573a"/><rect x="12" y="4" width="1.05" height="1.05" fill="#e05b39"/><rect x="13" y="4" width="1.05" height="1.05" fill="#e36037"/><rect x="14" y="4" width="1.05" height="1.05" fill="#e66633"/><rect x="15" y="4" width="1.05" height="1.05" fill="#e86a31"/><rect x="16" y="4" width="1.05" height="1.05" fill="#ea6f2f"/><rect x="17" y="4" width="1.05" height="1.05" fill="#ec732c"/><rect x="18" y="4" width="1.05" height="1.05" fill="#ed782a"/><rect x="19" y="4" width="1.05" height="1.05" fill="#ef7f25"/>
<rect x="0" y="5" width="1.05" height="1.05" fill="#b73557"/><rect x="1" y="5" width="1.05" height="1.05" fill="#bc3754"/><rect x="2" y="5" width="1.05" height="1.05" fill="#bf3952"/><rect x="3" y="5" width="1.05" height="1.05" fill="#c33b4f"/><rect x="4" y="5" width="1.05" height="1.05" fill="#c63d4d"/><rect x="5" y="5" width="1.05" height="1.05" fill="#ca404a"/><rect x="6" y="5" width="1.05" height="1.05" fill="#cc4248"/><rect x="7" y="5" width="1.05" height="1.05" fill="#d04545"/><rect x="8" y="5" width="1.05" height="1.05" fill="#d34743"/><rect x="9" y="5" width="1.05" height="1.05" fill="#d74b3f"/><rect x="10" y="5" width="1.05" height="1.05" fill="#d94e3e"/><rect x="11" y="5" width="1.05" height="1.05" fill="#db523c"/><rect x="12" y="5" width="1.05" height="1.05" fill="#dd553b"/><rect x="13" y="5" width="1.05" height="1.05" fill="#e05a39"/><rect x="14" y="5" width="1.05" height="1.05" fill="#e25f37"/><rect x="15" y="5" width="1.05" height="1.05" fill="#e46335"/><rect x="16" y="5" width="1.05" height="1.05" fill="#e76733"/><rect x="17" y="5" width="1.05" height="1.05" fill="#e96c30"/><rect x="18" y="5" width="1.05" height="1.05" fill="#eb702e"/><rect x="19" y="5" width="1.05" height="1.05" fill="#ed752b"/>
<rect x="0" y="6" width="1.05" height="1.05" fill="#b93556"/><rect x="1" y="6" width="1.05" height="1.05" fill="#bc3754"/><rect x="2" y="6" width="1.05" height="1.05" fill="#bf3952"/><rect x="3" y="6" width="1.05" height="1.05" fill="#c13a50"/><rect x="4" y="6" width="1.05" height="1.05" fill="#c43c4e"/><rect x="5" y="6" width="1.05" height="1.05" fill="#c83f4b"/><rect x="6" y="6" width="1.05" height="1.05" fill="#cb4149"/><rect x="7" y="6" width="1.05" height="1.05" fill="#ce4347"/><rect x="8" y="6" width="1.05" height="1.05" fill="#d04545"/><rect x="9" y="6" width="1.05" height="1.05" fill="#d34743"/><rect x="10" y="6" width="1.05" height="1.05" fill="#d74b3f"/><rect x="11" y="6" width="1.05" height="1.05" fill="#d94d3e"/><rect x="12" y="6" width="1.05" height="1.05" fill="#db503d"/><rect x="13" y="6" width="1.05" height="1.05" fill="#dc543c"/><rect x="14" y="6" width="1.05" height="1.05" fill="#df583a"/><rect x="15" y="6" width="1.05" height="1.05" fill="#e05b39"/><rect x="16" y="6" width="1.05" height="1.05" fill="#e36036"/><rect x="17" y="6" width="1.05" height="1.05" fill="#e46335"/><rect x="18" y="6" width="1.05" height="1.05" fill="#e76733"/><rect x="19" y="6" width="1.05" height="1.05" fill="#e86a31"/>
<rect x="0" y="7" width="1.05" height="1.05" fill="#b93556"/><rect x="1" y="7" width="1.05" height="1.05" fill="#bc3754"/><rect x="2" y="7" width="1.05" height="1.05" fill="#bf3952"/><rect x="3" y="7" width="1.05" height="1.05" fill="#c13a50"/><rect x="4" y="7" width="1.05" height="1.05" fill="#c43c4e"/><rect x="5" y="7" width="1.05" height="1.05" fill="#c63d4d"/><rect x="6" y="7" width="1.05" height="1.05" fill="#c83f4b"/><rect x="7" y="7" width="1.05" height="1.05" fill="#cb4149"/><rect x="8" y="7" width="1.05" height="1.05" fill="#ce4347"/><rect x="9" y="7" width="1.05" height="1.05" fill="#d04545"/><rect x="10" y="7" width="1.05" height="1.05" fill="#d34743"/><rect x="11" y="7" width="1.05" height="1.05" fill="#d54a41"/><rect x="12" y="7" width="1.05" height="1.05" fill="#d84c3f"/><rect x="13" y="7" width="1.05" height="1.05" fill="#da4f3d"/><rect x="14" y="7" width="1.05" height="1.05" fill="#dc523c"/><rect x="15" y="7" width="1.05" height="1.05" fill="#dd553b"/><rect x="16" y="7" width="1.05" height="1.05" fill="#df583a"/><rect x="17" y="7" width="1.05" height="1.05" fill="#e05b39"/><rect x="18" y="7" width="1.05" height="1.05" fill="#e25f37"/><rect x="19" y="7" width="1.05" height="1.05" fill="#e46136"/>
<rect x="0" y="8" width="1.05" height="1.05" fill="#b93556"/><rect x="1" y="8" width="1.05" height="1.05" fill="#bc3754"/><rect x="2" y="8" width="1.05" height="1.05" fill="#bf3952"/><rect x="3" y="8" width="1.05" height="1.05" fill="#c03a51"/><rect x="4" y="8" width="1.05" height="1.05" fill="#c33b4f"/><rect x="5" y="8" width="1.05" height="1.05" fill="#c43c4e"/><rect x="6" y="8" width="1.05" height="1.05" fill="#c73e4c"/><rect x="7" y="8" width="1.05" height="1.05" fill="#ca404a"/><rect x="8" y="8" width="1.05" height="1.05" fill="#cb4149"/><rect x="9" y="8" width="1.05" height="1.05" fill="#ce4347"/><rect x="10" y="8" width="1.05" height="1.05" fill="#cf4446"/><rect x="11" y="8" width="1.05" height="1.05" fill="#d24644"/><rect x="12" y="8" width="1.05" height="1.05" fill="#d44842"/><rect x="13" y="8" width="1.05" height="1.05" fill="#d54a41"/><rect x="14" y="8" width="1.05" height="1.05" fill="#d84c3f"/><rect x="15" y="8" width="1.05" height="1.05" fill="#d94e3e"/><rect x="16" y="8" width="1.05" height="1.05" fill="#da503d"/><rect x="17" y="8" width="1.05" height="1.05" fill="#dc533c"/><rect x="18" y="8" width="1.05" height="1.05" fill="#de563a"/><rect x="19" y="8" width="1.05" height="1.05" fill="#df583a"/>
<rect x="0" y="9" width="1.05" height="1.05" fill="#ba3655"/><rect x="1" y="9" width="1.05" height="1.05" fill="#bc3754"/><rect x="2" y="9" width="1.05" height="1.05" fill="#bd3853"/><rect x="3" y="9" width="1.05" height="1.05" fill="#c03a51"/><rect x="4" y="9" width="1.05" height="1.05" fill="#c13a50"/><rect x="5" y="9" width="1.05" height="1.05" fill="#c33b4f"/><rect x="6" y="9" width="1.05" height="1.05" fill="#c63d4d"/><rect x="7" y="9" width="1.05" height="1.05" fill="#c73e4c"/><rect x="8" y="9" width="1.05" height="1.05" fill="#c83f4b"/><rect x="9" y="9" width="1.05" height="1.05" fill="#ca404a"/><rect x="10" y="9" width="1.05" height="1.05" fill="#cc4248"/><rect x="11" y="9" width="1.05" height="1.05" fill="#ce4347"/><rect x="12" y="9" width="1.05" height="1.05" fill="#cf4446"/><rect x="13" y="9" width="1.05" height="1.05" fill="#d24644"/><rect x="14" y="9" width="1.05" height="1.05" fill="#d34743"/><rect x="15" y="9" width="1.05" height="1.05" fill="#d44842"/><rect x="16" y="9" width="1.05" height="1.05" fill="#d74b3f"/><rect x="17" y="9" width="1.05" height="1.05" fill="#d84c3f"/><rect x="18" y="9" width="1.05" height="1.05" fill="#d94e3e"/><rect x="19" y="9" width="1.05" height="1.05" fill="#db503d"/>
<rect x="0" y="10" width="1.05" height="1.05" fill="#ba3655"/><rect x="1" y="10" width="1.05" height="1.05" fill="#bc3754"/><rect x="2" y="10" width="1.05" height="1.05" fill="#bd3853"/><rect x="3" y="10" width="1.05" height="1.05" fill="#bf3952"/><rect x="4" y="10" width="1.05" height="1.05" fill="#c03a51"/><rect x="5" y="10" width="1.05" height="1.05" fill="#c13a50"/><rect x="6" y="10" width="1.05" height="1.05" fill="#c33b4f"/><rect x="7" y="10" width="1.05" height="1.05" fill="#c43c4e"/><rect x="8" y="10" width="1.05" height="1.05" fill="#c63d4d"/><rect x="9" y="10" width="1.05" height="1.05" fill="#c73e4c"/><rect x="10" y="10" width="1.05" height="1.05" fill="#c83f4b"/><rect x="11" y="10" width="1.05" height="1.05" fill="#ca404a"/><rect x="12" y="10" width="1.05" height="1.05" fill="#cb4149"/><rect x="13" y="10" width="1.05" height="1.05" fill="#cc4248"/><rect x="14" y="10" width="1.05" height="1.05" fill="#ce4347"/><rect x="15" y="10" width="1.05" height="1.05" fill="#cf4446"/><rect x="16" y="10" width="1.05" height="1.05" fill="#d04545"/><rect x="17" y="10" width="1.05" height="1.05" fill="#d24644"/><rect x="18" y="10" width="1.05" height="1.05" fill="#d34743"/><rect x="19" y="10" width="1.05" height="1.05" fill="#d44842"/>
<rect x="0" y="11" width="1.05" height="1.05" fill="#ba3655"/><rect x="1" y="11" width="1.05" height="1.05" fill="#bc3754"/><rect x="2" y="11" width="1.05" height="1.05" fill="#bd3853"/><rect x="3" y="11" width="1.05" height="1.05" fill="#bd3853"/><rect x="4" y="11" width="1.05" height="1.05" fill="#bf3952"/><rect x="5" y="11" width="1.05" height="1.05" fill="#c03a51"/><rect x="6" y="11" width="1.05" height="1.05" fill="#c13a50"/><rect x="7" y="11" width="1.05" height="1.05" fill="#c13a50"/><rect x="8" y="11" width="1.05" height="1.05" fill="#c33b4f"/><rect x="9" y="11" width="1.05" height="1.05" fill="#c43c4e"/><rect x="10" y="11" width="1.05" height="1.05" fill="#c63d4d"/><rect x="11" y="11" width="1.05" height="1.05" fill="#c63d4d"/><rect x="12" y="11" width="1.05" height="1.05" fill="#c73e4c"/><rect x="13" y="11" width="1.05" height="1.05" fill="#c83f4b"/><rect x="14" y="11" width="1.05" height="1.05" fill="#ca404a"/><rect x="15" y="11" width="1.05" height="1.05" fill="#ca404a"/><rect x="16" y="11" width="1.05" height="1.05" fill="#cb4149"/><rect x="17" y="11" width="1.05" height="1.05" fill="#cc4248"/><rect x="18" y="11" width="1.05" height="1.05" fill="#cc4248"/><rect x="19" y="11" width="1.05" height="1.05" fill="#ce4347"/>
<rect x="0" y="12" width="1.05" height="1.05" fill="#bc3754"/><rect x="1" y="12" width="1.05" height="1.05" fill="#bc3754"/><rect x="2" y="12" width="1.05" height="1.05" fill="#bc3754"/><rect x="3" y="12" width="1.05" height="1.05" fill="#bd3853"/><rect x="4" y="12" width="1.05" height="1.05" fill="#bd3853"/><rect x="5" y="12" width="1.05" height="1.05" fill="#bf3952"/><rect x="6" y="12" width="1.05" height="1.05" fill="#bf3952"/><rect x="7" y="12" width="1.05" height="1.05" fill="#c03a51"/><rect x="8" y="12" width="1.05" height="1.05" fill="#c03a51"/><rect x="9" y="12" width="1.05" height="1.05" fill="#c13a50"/><rect x="10" y="12" width="1.05" height="1.05" fill="#c13a50"/><rect x="11" y="12" width="1.05" height="1.05" fill="#c13a50"/><rect x="12" y="12" width="1.05" height="1.05" fill="#c33b4f"/><rect x="13" y="12" width="1.05" height="1.05" fill="#c33b4f"/><rect x="14" y="12" width="1.05" height="1.05" fill="#c43c4e"/><rect x="15" y="12" width="1.05" height="1.05" fill="#c43c4e"/><rect x="16" y="12" width="1.05" height="1.05" fill="#c63d4d"/><rect x="17" y="12" width="1.05" height="1.05" fill="#c63d4d"/><rect x="18" y="12" width="1.05" height="1.05" fill="#c73e4c"/><rect x="19" y="12" width="1.05" height="1.05" fill="#c73e4c"/>
<rect x="0" y="13" width="1.05" height="1.05" fill="#bc3754"/><rect x="1" y="13" width="1.05" height="1.05" fill="#bc3754"/><rect x="2" y="13" width="1.05" height="1.05" fill="#bc3754"/><rect x="3" y="13" width="1.05" height="1.05" fill="#bc3754"/><rect x="4" y="13" width="1.05" height="1.05" fill="#bc3754"/><rect x="5" y="13" width="1.05" height="1.05" fill="#bd3853"/><rect x="6" y="13" width="1.05" height="1.05" fill="#bd3853"/><rect x="7" y="13" width="1.05" height="1.05" fill="#bd3853"/><rect x="8" y="13" width="1.05" height="1.05" fill="#bd3853"/><rect x="9" y="13" width="1.05" height="1.05" fill="#bd3853"/><rect x="10" y="13" width="1.05" height="1.05" fill="#bd3853"/><rect x="11" y="13" width="1.05" height="1.05" fill="#bf3952"/><rect x="12" y="13" width="1.05" height="1.05" fill="#bf3952"/><rect x="13" y="13" width="1.05" height="1.05" fill="#bf3952"/><rect x="14" y="13" width="1.05" height="1.05" fill="#bf3952"/><rect x="15" y="13" width="1.05" height="1.05" fill="#bf3952"/><rect x="16" y="13" width="1.05" height="1.05" fill="#bf3952"/><rect x="17" y="13" width="1.05" height="1.05" fill="#bf3952"/><rect x="18" y="13" width="1.05" height="1.05" fill="#c03a51"/><rect x="19" y="13" width="1.05" height="1.05" fill="#c03a51"/>
<rect x="0" y="14" width="1.05" height="1.05" fill="#bc3754"/><rect x="1" y="14" width="1.05" height="1.05" fill="#bc3754"/><rect x="2" y="14" width="1.05" height="1.05" fill="#bc3754"/><rect x="3" y="14" width="1.05" height="1.05" fill="#bc3754"/><rect x="4" y="14" width="1.05" height="1.05" fill="#bc3754"/><rect x="5" y="14" width="1.05" height="1.05" fill="#bc3754"/><rect x="6" y="14" width="1.05" height="1.05" fill="#ba3655"/><rect x="7" y="14" width="1.05" height="1.05" fill="#ba3655"/><rect x="8" y="14" width="1.05" height="1.05" fill="#ba3655"/><rect x="9" y="14" width="1.05" height="1.05" fill="#ba3655"/><rect x="10" y="14" width="1.05" height="1.05" fill="#ba3655"/><rect x="11" y="14" width="1.05" height="1.05" fill="#ba3655"/><rect x="12" y="14" width="1.05" height="1.05" fill="#ba3655"/><rect x="13" y="14" width="1.05" height="1.05" fill="#b93556"/><rect x="14" y="14" width="1.05" height="1.05" fill="#b93556"/><rect x="15" y="14" width="1.05" height="1.05" fill="#b93556"/><rect x="16" y="14" width="1.05" height="1.05" fill="#b93556"/><rect x="17" y="14" width="1.05" height="1.05" fill="#b93556"/><rect x="18" y="14" width="1.05" height="1.05" fill="#b93556"/><rect x="19" y="14" width="1.05" height="1.05" fill="#b93556"/>
<rect x="0" y="15" width="1.05" height="1.05" fill="#bd3853"/><rect x="1" y="15" width="1.05" height="1.05" fill="#bc3754"/><rect x="2" y="15" width="1.05" height="1.05" fill="#bc3754"/><rect x="3" y="15" width="1.05" height="1.05" fill="#ba3655"/><rect x="4" y="15" width="1.05" height="1.05" fill="#ba3655"/><rect x="5" y="15" width="1.05" height="1.05" fill="#b93556"/><rect x="6" y="15" width="1.05" height="1.05" fill="#b93556"/><rect x="7" y="15" width="1.05" height="1.05" fill="#b73557"/><rect x="8" y="15" width="1.05" height="1.05" fill="#b73557"/><rect x="9" y="15" width="1.05" height="1.05" fill="#b73557"/><rect x="10" y="15" width="1.05" height="1.05" fill="#b63458"/><rect x="11" y="15" width="1.05" height="1.05" fill="#b63458"/><rect x="12" y="15" width="1.05" height="1.05" fill="#b43359"/><rect x="13" y="15" width="1.05" height="1.05" fill="#b43359"/><rect x="14" y="15" width="1.05" height="1.05" fill="#b3325a"/><rect x="15" y="15" width="1.05" height="1.05" fill="#b3325a"/><rect x="16" y="15" width="1.05" height="1.05" fill="#b3325a"/><rect x="17" y="15" width="1.05" height="1.05" fill="#b1325a"/><rect x="18" y="15" width="1.05" height="1.05" fill="#b1325a"/><rect x="19" y="15" width="1.05" height="1.05" fill="#b0315b"/>
<rect x="0" y="16" width="1.05" height="1.05" fill="#bd3853"/><rect x="1" y="16" width="1.05" height="1.05" fill="#bc3754"/><rect x="2" y="16" width="1.05" height="1.05" fill="#ba3655"/><rect x="3" y="16" width="1.05" height="1.05" fill="#ba3655"/><rect x="4" y="16" width="1.05" height="1.05" fill="#b93556"/><rect x="5" y="16" width="1.05" height="1.05" fill="#b73557"/><rect x="6" y="16" width="1.05" height="1.05" fill="#b63458"/><rect x="7" y="16" width="1.05" height="1.05" fill="#b63458"/><rect x="8" y="16" width="1.05" height="1.05" fill="#b43359"/><rect x="9" y="16" width="1.05" height="1.05" fill="#b3325a"/><rect x="10" y="16" width="1.05" height="1.05" fill="#b3325a"/><rect x="11" y="16" width="1.05" height="1.05" fill="#b1325a"/><rect x="12" y="16" width="1.05" height="1.05" fill="#b0315b"/><rect x="13" y="16" width="1.05" height="1.05" fill="#ae305c"/><rect x="14" y="16" width="1.05" height="1.05" fill="#ae305c"/><rect x="15" y="16" width="1.05" height="1.05" fill="#ad305d"/><rect x="16" y="16" width="1.05" height="1.05" fill="#ab2f5e"/><rect x="17" y="16" width="1.05" height="1.05" fill="#ab2f5e"/><rect x="18" y="16" width="1.05" height="1.05" fill="#a92e5e"/><rect x="19" y="16" width="1.05" height="1.05" fill="#a82e5f"/>
<rect x="0" y="17" width="1.05" height="1.05" fill="#bd3853"/><rect x="1" y="17" width="1.05" height="1.05" fill="#bc3754"/><rect x="2" y="17" width="1.05" height="1.05" fill="#ba3655"/><rect x="3" y="17" width="1.05" height="1.05" fill="#b93556"/><rect x="4" y="17" width="1.05" height="1.05" fill="#b73557"/><rect x="5" y="17" width="1.05" height="1.05" fill="#b63458"/><rect x="6" y="17" width="1.05" height="1.05" fill="#b43359"/><rect x="7" y="17" width="1.05" height="1.05" fill="#b3325a"/><rect x="8" y="17" width="1.05" height="1.05" fill="#b1325a"/><rect x="9" y="17" width="1.05" height="1.05" fill="#b0315b"/><rect x="10" y="17" width="1.05" height="1.05" fill="#ae305c"/><rect x="11" y="17" width="1.05" height="1.05" fill="#ad305d"/><rect x="12" y="17" width="1.05" height="1.05" fill="#ab2f5e"/><rect x="13" y="17" width="1.05" height="1.05" fill="#a92e5e"/><rect x="14" y="17" width="1.05" height="1.05" fill="#a82e5f"/><rect x="15" y="17" width="1.05" height="1.05" fill="#a62d60"/><rect x="16" y="17" width="1.05" height="1.05" fill="#a52c60"/><rect x="17" y="17" width="1.05" height="1.05" fill="#a32c61"/><rect x="18" y="17" width="1.05" height="1.05" fill="#a22b62"/><rect x="19" y="17" width="1.05" height="1.05" fill="#a02a63"/>
<rect x="0" y="18" width="1.05" height="1.05" fill="#bd3853"/><rect x="1" y="18" width="1.05" height="1.05" fill="#bc3754"/><rect x="2" y="18" width="1.05" height="1.05" fill="#ba3655"/><rect x="3" y="18" width="1.05" height="1.05" fill="#b93556"/><rect x="4" y="18" width="1.05" height="1.05" fill="#b63458"/><rect x="5" y="18" width="1.05" height="1.05" fill="#b43359"/><rect x="6" y="18" width="1.05" height="1.05" fill="#b3325a"/><rect x="7" y="18" width="1.05" height="1.05" fill="#b0315b"/><rect x="8" y="18" width="1.05" height="1.05" fill="#ae305c"/><rect x="9" y="18" width="1.05" height="1.05" fill="#ad305d"/><rect x="10" y="18" width="1.05" height="1.05" fill="#a92e5e"/><rect x="11" y="18" width="1.05" height="1.05" fill="#a82e5f"/><rect x="12" y="18" width="1.05" height="1.05" fill="#a62d60"/><rect x="13" y="18" width="1.05" height="1.05" fill="#a52c60"/><rect x="14" y="18" width="1.05" height="1.05" fill="#a22b62"/><rect x="15" y="18" width="1.05" height="1.05" fill="#a02a63"/><rect x="16" y="18" width="1.05" height="1.05" fill="#9f2a63"/><rect x="17" y="18" width="1.05" height="1.05" fill="#9b2964"/><rect x="18" y="18" width="1.05" height="1.05" fill="#9a2865"/><rect x="19" y="18" width="1.05" height="1.05" fill="#982766"/>
<rect x="0" y="19" width="1.05" height="1.05" fill="#bf3952"/><rect x="1" y="19" width="1.05" height="1.05" fill="#bc3754"/><rect x="2" y="19" width="1.05" height="1.05" fill="#ba3655"/><rect x="3" y="19" width="1.05" height="1.05" fill="#b73557"/><rect x="4" y="19" width="1.05" height="1.05" fill="#b43359"/><rect x="5" y="19" width="1.05" height="1.05" fill="#b3325a"/><rect x="6" y="19" width="1.05" height="1.05" fill="#b0315b"/><rect x="7" y="19" width="1.05" height="1.05" fill="#ae305c"/><rect x="8" y="19" width="1.05" height="1.05" fill="#ab2f5e"/><rect x="9" y="19" width="1.05" height="1.05" fill="#a82e5f"/><rect x="10" y="19" width="1.05" height="1.05" fill="#a62d60"/><rect x="11" y="19" width="1.05" height="1.05" fill="#a32c61"/><rect x="12" y="19" width="1.05" height="1.05" fill="#a22b62"/><rect x="13" y="19" width="1.05" height="1.05" fill="#9f2a63"/><rect x="14" y="19" width="1.05" height="1.05" fill="#9b2964"/><rect x="15" y="19" width="1.05" height="1.05" fill="#9a2865"/><rect x="16" y="19" width="1.05" height="1.05" fill="#972766"/><rect x="17" y="19" width="1.05" height="1.05" fill="#952667"/><rect x="18" y="19" width="1.05" height="1.05" fill="#922568"/><rect x="19" y="19" width="1.05" height="1.05" fill="#8f2469"/>
</svg>
<svg class="h" x="517.00" y="366.90" width="408.40" height="282.00" viewBox="0.0411 0.0567 19.9373 19.8444" preserveAspectRatio="none" shape-rendering="crispEdges">
<rect x="-1" y="-1" width="23" height="23" fill="#c63d4d"/>
<rect x="0" y="0" width="1.05" height="1.05" fill="#c03a51"/><rect x="1" y="0" width="1.05" height="1.05" fill="#c13a50"/><rect x="2" y="0" width="1.05" height="1.05" fill="#c33b4f"/><rect x="3" y="0" width="1.05" height="1.05" fill="#c43c4e"/><rect x="4" y="0" width="1.05" height="1.05" fill="#c63d4d"/><rect x="5" y="0" width="1.05" height="1.05" fill="#c73e4c"/><rect x="6" y="0" width="1.05" height="1.05" fill="#c83f4b"/><rect x="7" y="0" width="1.05" height="1.05" fill="#ca404a"/><rect x="8" y="0" width="1.05" height="1.05" fill="#cb4149"/><rect x="9" y="0" width="1.05" height="1.05" fill="#cc4248"/><rect x="10" y="0" width="1.05" height="1.05" fill="#ce4347"/><rect x="11" y="0" width="1.05" height="1.05" fill="#cf4446"/><rect x="12" y="0" width="1.05" height="1.05" fill="#cf4446"/><rect x="13" y="0" width="1.05" height="1.05" fill="#d04545"/><rect x="14" y="0" width="1.05" height="1.05" fill="#d24644"/><rect x="15" y="0" width="1.05" height="1.05" fill="#d34743"/><rect x="16" y="0" width="1.05" height="1.05" fill="#d44842"/><rect x="17" y="0" width="1.05" height="1.05" fill="#d54a41"/><rect x="18" y="0" width="1.05" height="1.05" fill="#d74b3f"/><rect x="19" y="0" width="1.05" height="1.05" fill="#d84c3f"/>
<rect x="0" y="1" width="1.05" height="1.05" fill="#c03a51"/><rect x="1" y="1" width="1.05" height="1.05" fill="#c13a50"/><rect x="2" y="1" width="1.05" height="1.05" fill="#c13a50"/><rect x="3" y="1" width="1.05" height="1.05" fill="#c33b4f"/><rect x="4" y="1" width="1.05" height="1.05" fill="#c43c4e"/><rect x="5" y="1" width="1.05" height="1.05" fill="#c63d4d"/><rect x="6" y="1" width="1.05" height="1.05" fill="#c73e4c"/><rect x="7" y="1" width="1.05" height="1.05" fill="#c83f4b"/><rect x="8" y="1" width="1.05" height="1.05" fill="#ca404a"/><rect x="9" y="1" width="1.05" height="1.05" fill="#cb4149"/><rect x="10" y="1" width="1.05" height="1.05" fill="#cc4248"/><rect x="11" y="1" width="1.05" height="1.05" fill="#ce4347"/><rect x="12" y="1" width="1.05" height="1.05" fill="#cf4446"/><rect x="13" y="1" width="1.05" height="1.05" fill="#d04545"/><rect x="14" y="1" width="1.05" height="1.05" fill="#d24644"/><rect x="15" y="1" width="1.05" height="1.05" fill="#d34743"/><rect x="16" y="1" width="1.05" height="1.05" fill="#d44842"/><rect x="17" y="1" width="1.05" height="1.05" fill="#d54a41"/><rect x="18" y="1" width="1.05" height="1.05" fill="#d74b3f"/><rect x="19" y="1" width="1.05" height="1.05" fill="#d74b40"/>
<rect x="0" y="2" width="1.05" height="1.05" fill="#bf3952"/><rect x="1" y="2" width="1.05" height="1.05" fill="#c03a51"/><rect x="2" y="2" width="1.05" height="1.05" fill="#c13a50"/><rect x="3" y="2" width="1.05" height="1.05" fill="#c33b4f"/><rect x="4" y="2" width="1.05" height="1.05" fill="#c43c4e"/><rect x="5" y="2" width="1.05" height="1.05" fill="#c63d4d"/><rect x="6" y="2" width="1.05" height="1.05" fill="#c73e4c"/><rect x="7" y="2" width="1.05" height="1.05" fill="#c83f4b"/><rect x="8" y="2" width="1.05" height="1.05" fill="#ca404a"/><rect x="9" y="2" width="1.05" height="1.05" fill="#ca404a"/><rect x="10" y="2" width="1.05" height="1.05" fill="#cb4149"/><rect x="11" y="2" width="1.05" height="1.05" fill="#cc4248"/><rect x="12" y="2" width="1.05" height="1.05" fill="#ce4347"/><rect x="13" y="2" width="1.05" height="1.05" fill="#cf4446"/><rect x="14" y="2" width="1.05" height="1.05" fill="#d04545"/><rect x="15" y="2" width="1.05" height="1.05" fill="#d24644"/><rect x="16" y="2" width="1.05" height="1.05" fill="#d34743"/><rect x="17" y="2" width="1.05" height="1.05" fill="#d44842"/><rect x="18" y="2" width="1.05" height="1.05" fill="#d54a41"/><rect x="19" y="2" width="1.05" height="1.05" fill="#d74b3f"/>
<rect x="0" y="3" width="1.05" height="1.05" fill="#bf3952"/><rect x="1" y="3" width="1.05" height="1.05" fill="#bf3952"/><rect x="2" y="3" width="1.05" height="1.05" fill="#c03a51"/><rect x="3" y="3" width="1.05" height="1.05" fill="#c13a50"/><rect x="4" y="3" width="1.05" height="1.05" fill="#c33b4f"/><rect x="5" y="3" width="1.05" height="1.05" fill="#c43c4e"/><rect x="6" y="3" width="1.05" height="1.05" fill="#c63d4d"/><rect x="7" y="3" width="1.05" height="1.05" fill="#c73e4c"/><rect x="8" y="3" width="1.05" height="1.05" fill="#c83f4b"/><rect x="9" y="3" width="1.05" height="1.05" fill="#ca404a"/><rect x="10" y="3" width="1.05" height="1.05" fill="#cb4149"/><rect x="11" y="3" width="1.05" height="1.05" fill="#cc4248"/><rect x="12" y="3" width="1.05" height="1.05" fill="#ce4347"/><rect x="13" y="3" width="1.05" height="1.05" fill="#cf4446"/><rect x="14" y="3" width="1.05" height="1.05" fill="#d04545"/><rect x="15" y="3" width="1.05" height="1.05" fill="#d24644"/><rect x="16" y="3" width="1.05" height="1.05" fill="#d24644"/><rect x="17" y="3" width="1.05" height="1.05" fill="#d34743"/><rect x="18" y="3" width="1.05" height="1.05" fill="#d44842"/><rect x="19" y="3" width="1.05" height="1.05" fill="#d54a41"/>
<rect x="0" y="4" width="1.05" height="1.05" fill="#bd3853"/><rect x="1" y="4" width="1.05" height="1.05" fill="#bf3952"/><rect x="2" y="4" width="1.05" height="1.05" fill="#c03a51"/><rect x="3" y="4" width="1.05" height="1.05" fill="#c13a50"/><rect x="4" y="4" width="1.05" height="1.05" fill="#c33b4f"/><rect x="5" y="4" width="1.05" height="1.05" fill="#c43c4e"/><rect x="6" y="4" width="1.05" height="1.05" fill="#c63d4d"/><rect x="7" y="4" width="1.05" height="1.05" fill="#c63d4d"/><rect x="8" y="4" width="1.05" height="1.05" fill="#c73e4c"/><rect x="9" y="4" width="1.05" height="1.05" fill="#c83f4b"/><rect x="10" y="4" width="1.05" height="1.05" fill="#ca404a"/><rect x="11" y="4" width="1.05" height="1.05" fill="#cb4149"/><rect x="12" y="4" width="1.05" height="1.05" fill="#cc4248"/><rect x="13" y="4" width="1.05" height="1.05" fill="#ce4347"/><rect x="14" y="4" width="1.05" height="1.05" fill="#cf4446"/><rect x="15" y="4" width="1.05" height="1.05" fill="#d04545"/><rect x="16" y="4" width="1.05" height="1.05" fill="#d24644"/><rect x="17" y="4" width="1.05" height="1.05" fill="#d34743"/><rect x="18" y="4" width="1.05" height="1.05" fill="#d44842"/><rect x="19" y="4" width="1.05" height="1.05" fill="#d54a41"/>
<rect x="0" y="5" width="1.05" height="1.05" fill="#bc3754"/><rect x="1" y="5" width="1.05" height="1.05" fill="#bd3853"/><rect x="2" y="5" width="1.05" height="1.05" fill="#bf3952"/><rect x="3" y="5" width="1.05" height="1.05" fill="#c03a51"/><rect x="4" y="5" width="1.05" height="1.05" fill="#c13a50"/><rect x="5" y="5" width="1.05" height="1.05" fill="#c33b4f"/><rect x="6" y="5" width="1.05" height="1.05" fill="#c43c4e"/><rect x="7" y="5" width="1.05" height="1.05" fill="#c63d4d"/><rect x="8" y="5" width="1.05" height="1.05" fill="#c73e4c"/><rect x="9" y="5" width="1.05" height="1.05" fill="#c83f4b"/><rect x="10" y="5" width="1.05" height="1.05" fill="#ca404a"/><rect x="11" y="5" width="1.05" height="1.05" fill="#cb4149"/><rect x="12" y="5" width="1.05" height="1.05" fill="#cc4248"/><rect x="13" y="5" width="1.05" height="1.05" fill="#cc4248"/><rect x="14" y="5" width="1.05" height="1.05" fill="#ce4347"/><rect x="15" y="5" width="1.05" height="1.05" fill="#cf4446"/><rect x="16" y="5" width="1.05" height="1.05" fill="#d04545"/><rect x="17" y="5" width="1.05" height="1.05" fill="#d24644"/><rect x="18" y="5" width="1.05" height="1.05" fill="#d34743"/><rect x="19" y="5" width="1.05" height="1.05" fill="#d44842"/>
<rect x="0" y="6" width="1.05" height="1.05" fill="#bc3754"/><rect x="1" y="6" width="1.05" height="1.05" fill="#bd3853"/><rect x="2" y="6" width="1.05" height="1.05" fill="#bf3952"/><rect x="3" y="6" width="1.05" height="1.05" fill="#c03a51"/><rect x="4" y="6" width="1.05" height="1.05" fill="#c13a50"/><rect x="5" y="6" width="1.05" height="1.05" fill="#c33b4f"/><rect x="6" y="6" width="1.05" height="1.05" fill="#c33b4f"/><rect x="7" y="6" width="1.05" height="1.05" fill="#c43c4e"/><rect x="8" y="6" width="1.05" height="1.05" fill="#c63d4d"/><rect x="9" y="6" width="1.05" height="1.05" fill="#c73e4c"/><rect x="10" y="6" width="1.05" height="1.05" fill="#c83f4b"/><rect x="11" y="6" width="1.05" height="1.05" fill="#ca404a"/><rect x="12" y="6" width="1.05" height="1.05" fill="#cb4149"/><rect x="13" y="6" width="1.05" height="1.05" fill="#cc4248"/><rect x="14" y="6" width="1.05" height="1.05" fill="#ce4347"/><rect x="15" y="6" width="1.05" height="1.05" fill="#cf4446"/><rect x="16" y="6" width="1.05" height="1.05" fill="#d04545"/><rect x="17" y="6" width="1.05" height="1.05" fill="#d24644"/><rect x="18" y="6" width="1.05" height="1.05" fill="#d34743"/><rect x="19" y="6" width="1.05" height="1.05" fill="#d34743"/>
<rect x="0" y="7" width="1.05" height="1.05" fill="#ba3655"/><rect x="1" y="7" width="1.05" height="1.05" fill="#bc3754"/><rect x="2" y="7" width="1.05" height="1.05" fill="#bd3853"/><rect x="3" y="7" width="1.05" height="1.05" fill="#bf3952"/><rect x="4" y="7" width="1.05" height="1.05" fill="#c03a51"/><rect x="5" y="7" width="1.05" height="1.05" fill="#c13a50"/><rect x="6" y="7" width="1.05" height="1.05" fill="#c33b4f"/><rect x="7" y="7" width="1.05" height="1.05" fill="#c43c4e"/><rect x="8" y="7" width="1.05" height="1.05" fill="#c63d4d"/><rect x="9" y="7" width="1.05" height="1.05" fill="#c73e4c"/><rect x="10" y="7" width="1.05" height="1.05" fill="#c83f4b"/><rect x="11" y="7" width="1.05" height="1.05" fill="#c83f4b"/><rect x="12" y="7" width="1.05" height="1.05" fill="#ca404a"/><rect x="13" y="7" width="1.05" height="1.05" fill="#cb4149"/><rect x="14" y="7" width="1.05" height="1.05" fill="#cc4248"/><rect x="15" y="7" width="1.05" height="1.05" fill="#ce4347"/><rect x="16" y="7" width="1.05" height="1.05" fill="#cf4446"/><rect x="17" y="7" width="1.05" height="1.05" fill="#d04545"/><rect x="18" y="7" width="1.05" height="1.05" fill="#d24644"/><rect x="19" y="7" width="1.05" height="1.05" fill="#d34743"/>
<rect x="0" y="8" width="1.05" height="1.05" fill="#ba3655"/><rect x="1" y="8" width="1.05" height="1.05" fill="#bc3754"/><rect x="2" y="8" width="1.05" height="1.05" fill="#bd3853"/><rect x="3" y="8" width="1.05" height="1.05" fill="#bf3952"/><rect x="4" y="8" width="1.05" height="1.05" fill="#bf3952"/><rect x="5" y="8" width="1.05" height="1.05" fill="#c03a51"/><rect x="6" y="8" width="1.05" height="1.05" fill="#c13a50"/><rect x="7" y="8" width="1.05" height="1.05" fill="#c33b4f"/><rect x="8" y="8" width="1.05" height="1.05" fill="#c43c4e"/><rect x="9" y="8" width="1.05" height="1.05" fill="#c63d4d"/><rect x="10" y="8" width="1.05" height="1.05" fill="#c73e4c"/><rect x="11" y="8" width="1.05" height="1.05" fill="#c83f4b"/><rect x="12" y="8" width="1.05" height="1.05" fill="#ca404a"/><rect x="13" y="8" width="1.05" height="1.05" fill="#cb4149"/><rect x="14" y="8" width="1.05" height="1.05" fill="#cc4248"/><rect x="15" y="8" width="1.05" height="1.05" fill="#ce4347"/><rect x="16" y="8" width="1.05" height="1.05" fill="#ce4347"/><rect x="17" y="8" width="1.05" height="1.05" fill="#cf4446"/><rect x="18" y="8" width="1.05" height="1.05" fill="#d04545"/><rect x="19" y="8" width="1.05" height="1.05" fill="#d24644"/>
<rect x="0" y="9" width="1.05" height="1.05" fill="#b93556"/><rect x="1" y="9" width="1.05" height="1.05" fill="#ba3655"/><rect x="2" y="9" width="1.05" height="1.05" fill="#bc3754"/><rect x="3" y="9" width="1.05" height="1.05" fill="#bd3853"/><rect x="4" y="9" width="1.05" height="1.05" fill="#bf3952"/><rect x="5" y="9" width="1.05" height="1.05" fill="#c03a51"/><rect x="6" y="9" width="1.05" height="1.05" fill="#c13a50"/><rect x="7" y="9" width="1.05" height="1.05" fill="#c33b4f"/><rect x="8" y="9" width="1.05" height="1.05" fill="#c43c4e"/><rect x="9" y="9" width="1.05" height="1.05" fill="#c43c4e"/><rect x="10" y="9" width="1.05" height="1.05" fill="#c63d4d"/><rect x="11" y="9" width="1.05" height="1.05" fill="#c73e4c"/><rect x="12" y="9" width="1.05" height="1.05" fill="#c83f4b"/><rect x="13" y="9" width="1.05" height="1.05" fill="#ca404a"/><rect x="14" y="9" width="1.05" height="1.05" fill="#cb4149"/><rect x="15" y="9" width="1.05" height="1.05" fill="#cc4248"/><rect x="16" y="9" width="1.05" height="1.05" fill="#ce4347"/><rect x="17" y="9" width="1.05" height="1.05" fill="#cf4446"/><rect x="18" y="9" width="1.05" height="1.05" fill="#d04545"/><rect x="19" y="9" width="1.05" height="1.05" fill="#d24644"/>
<rect x="0" y="10" width="1.05" height="1.05" fill="#b93556"/><rect x="1" y="10" width="1.05" height="1.05" fill="#ba3655"/><rect x="2" y="10" width="1.05" height="1.05" fill="#bc3754"/><rect x="3" y="10" width="1.05" height="1.05" fill="#bc3754"/><rect x="4" y="10" width="1.05" height="1.05" fill="#bd3853"/><rect x="5" y="10" width="1.05" height="1.05" fill="#bf3952"/><rect x="6" y="10" width="1.05" height="1.05" fill="#c03a51"/><rect x="7" y="10" width="1.05" height="1.05" fill="#c13a50"/><rect x="8" y="10" width="1.05" height="1.05" fill="#c33b4f"/><rect x="9" y="10" width="1.05" height="1.05" fill="#c43c4e"/><rect x="10" y="10" width="1.05" height="1.05" fill="#c63d4d"/><rect x="11" y="10" width="1.05" height="1.05" fill="#c73e4c"/><rect x="12" y="10" width="1.05" height="1.05" fill="#c83f4b"/><rect x="13" y="10" width="1.05" height="1.05" fill="#ca404a"/><rect x="14" y="10" width="1.05" height="1.05" fill="#ca404a"/><rect x="15" y="10" width="1.05" height="1.05" fill="#cb4149"/><rect x="16" y="10" width="1.05" height="1.05" fill="#cc4248"/><rect x="17" y="10" width="1.05" height="1.05" fill="#ce4347"/><rect x="18" y="10" width="1.05" height="1.05" fill="#cf4446"/><rect x="19" y="10" width="1.05" height="1.05" fill="#d04545"/>
<rect x="0" y="11" width="1.05" height="1.05" fill="#b73557"/><rect x="1" y="11" width="1.05" height="1.05" fill="#b93556"/><rect x="2" y="11" width="1.05" height="1.05" fill="#ba3655"/><rect x="3" y="11" width="1.05" height="1.05" fill="#bc3754"/><rect x="4" y="11" width="1.05" height="1.05" fill="#bd3853"/><rect x="5" y="11" width="1.05" height="1.05" fill="#bf3952"/><rect x="6" y="11" width="1.05" height="1.05" fill="#c03a51"/><rect x="7" y="11" width="1.05" height="1.05" fill="#c13a50"/><rect x="8" y="11" width="1.05" height="1.05" fill="#c13a50"/><rect x="9" y="11" width="1.05" height="1.05" fill="#c33b4f"/><rect x="10" y="11" width="1.05" height="1.05" fill="#c43c4e"/><rect x="11" y="11" width="1.05" height="1.05" fill="#c63d4d"/><rect x="12" y="11" width="1.05" height="1.05" fill="#c73e4c"/><rect x="13" y="11" width="1.05" height="1.05" fill="#c83f4b"/><rect x="14" y="11" width="1.05" height="1.05" fill="#ca404a"/><rect x="15" y="11" width="1.05" height="1.05" fill="#cb4149"/><rect x="16" y="11" width="1.05" height="1.05" fill="#cc4248"/><rect x="17" y="11" width="1.05" height="1.05" fill="#ce4347"/><rect x="18" y="11" width="1.05" height="1.05" fill="#ce4347"/><rect x="19" y="11" width="1.05" height="1.05" fill="#cf4446"/>
<rect x="0" y="12" width="1.05" height="1.05" fill="#b73557"/><rect x="1" y="12" width="1.05" height="1.05" fill="#b93556"/><rect x="2" y="12" width="1.05" height="1.05" fill="#b93556"/><rect x="3" y="12" width="1.05" height="1.05" fill="#ba3655"/><rect x="4" y="12" width="1.05" height="1.05" fill="#bc3754"/><rect x="5" y="12" width="1.05" height="1.05" fill="#bd3853"/><rect x="6" y="12" width="1.05" height="1.05" fill="#bf3952"/><rect x="7" y="12" width="1.05" height="1.05" fill="#c03a51"/><rect x="8" y="12" width="1.05" height="1.05" fill="#c13a50"/><rect x="9" y="12" width="1.05" height="1.05" fill="#c33b4f"/><rect x="10" y="12" width="1.05" height="1.05" fill="#c43c4e"/><rect x="11" y="12" width="1.05" height="1.05" fill="#c63d4d"/><rect x="12" y="12" width="1.05" height="1.05" fill="#c63d4d"/><rect x="13" y="12" width="1.05" height="1.05" fill="#c73e4c"/><rect x="14" y="12" width="1.05" height="1.05" fill="#c83f4b"/><rect x="15" y="12" width="1.05" height="1.05" fill="#ca404a"/><rect x="16" y="12" width="1.05" height="1.05" fill="#cb4149"/><rect x="17" y="12" width="1.05" height="1.05" fill="#cc4248"/><rect x="18" y="12" width="1.05" height="1.05" fill="#ce4347"/><rect x="19" y="12" width="1.05" height="1.05" fill="#cf4446"/>
<rect x="0" y="13" width="1.05" height="1.05" fill="#b63458"/><rect x="1" y="13" width="1.05" height="1.05" fill="#b73557"/><rect x="2" y="13" width="1.05" height="1.05" fill="#b93556"/><rect x="3" y="13" width="1.05" height="1.05" fill="#ba3655"/><rect x="4" y="13" width="1.05" height="1.05" fill="#bc3754"/><rect x="5" y="13" width="1.05" height="1.05" fill="#bd3853"/><rect x="6" y="13" width="1.05" height="1.05" fill="#bf3952"/><rect x="7" y="13" width="1.05" height="1.05" fill="#bf3952"/><rect x="8" y="13" width="1.05" height="1.05" fill="#c03a51"/><rect x="9" y="13" width="1.05" height="1.05" fill="#c13a50"/><rect x="10" y="13" width="1.05" height="1.05" fill="#c33b4f"/><rect x="11" y="13" width="1.05" height="1.05" fill="#c43c4e"/><rect x="12" y="13" width="1.05" height="1.05" fill="#c63d4d"/><rect x="13" y="13" width="1.05" height="1.05" fill="#c73e4c"/><rect x="14" y="13" width="1.05" height="1.05" fill="#c83f4b"/><rect x="15" y="13" width="1.05" height="1.05" fill="#ca404a"/><rect x="16" y="13" width="1.05" height="1.05" fill="#ca404a"/><rect x="17" y="13" width="1.05" height="1.05" fill="#cb4149"/><rect x="18" y="13" width="1.05" height="1.05" fill="#cc4248"/><rect x="19" y="13" width="1.05" height="1.05" fill="#ce4347"/>
<rect x="0" y="14" width="1.05" height="1.05" fill="#b63458"/><rect x="1" y="14" width="1.05" height="1.05" fill="#b63458"/><rect x="2" y="14" width="1.05" height="1.05" fill="#b73557"/><rect x="3" y="14" width="1.05" height="1.05" fill="#b93556"/><rect x="4" y="14" width="1.05" height="1.05" fill="#ba3655"/><rect x="5" y="14" width="1.05" height="1.05" fill="#bc3754"/><rect x="6" y="14" width="1.05" height="1.05" fill="#bd3853"/><rect x="7" y="14" width="1.05" height="1.05" fill="#bf3952"/><rect x="8" y="14" width="1.05" height="1.05" fill="#c03a51"/><rect x="9" y="14" width="1.05" height="1.05" fill="#c13a50"/><rect x="10" y="14" width="1.05" height="1.05" fill="#c33b4f"/><rect x="11" y="14" width="1.05" height="1.05" fill="#c33b4f"/><rect x="12" y="14" width="1.05" height="1.05" fill="#c43c4e"/><rect x="13" y="14" width="1.05" height="1.05" fill="#c63d4d"/><rect x="14" y="14" width="1.05" height="1.05" fill="#c73e4c"/><rect x="15" y="14" width="1.05" height="1.05" fill="#c83f4b"/><rect x="16" y="14" width="1.05" height="1.05" fill="#ca404a"/><rect x="17" y="14" width="1.05" height="1.05" fill="#cb4149"/><rect x="18" y="14" width="1.05" height="1.05" fill="#cc4248"/><rect x="19" y="14" width="1.05" height="1.05" fill="#ce4347"/>
<rect x="0" y="15" width="1.05" height="1.05" fill="#b43359"/><rect x="1" y="15" width="1.05" height="1.05" fill="#b63458"/><rect x="2" y="15" width="1.05" height="1.05" fill="#b73557"/><rect x="3" y="15" width="1.05" height="1.05" fill="#b93556"/><rect x="4" y="15" width="1.05" height="1.05" fill="#ba3655"/><rect x="5" y="15" width="1.05" height="1.05" fill="#bc3754"/><rect x="6" y="15" width="1.05" height="1.05" fill="#bc3754"/><rect x="7" y="15" width="1.05" height="1.05" fill="#bd3853"/><rect x="8" y="15" width="1.05" height="1.05" fill="#bf3952"/><rect x="9" y="15" width="1.05" height="1.05" fill="#c03a51"/><rect x="10" y="15" width="1.05" height="1.05" fill="#c13a50"/><rect x="11" y="15" width="1.05" height="1.05" fill="#c33b4f"/><rect x="12" y="15" width="1.05" height="1.05" fill="#c43c4e"/><rect x="13" y="15" width="1.05" height="1.05" fill="#c63d4d"/><rect x="14" y="15" width="1.05" height="1.05" fill="#c73e4c"/><rect x="15" y="15" width="1.05" height="1.05" fill="#c73e4c"/><rect x="16" y="15" width="1.05" height="1.05" fill="#c83f4b"/><rect x="17" y="15" width="1.05" height="1.05" fill="#ca404a"/><rect x="18" y="15" width="1.05" height="1.05" fill="#cb4149"/><rect x="19" y="15" width="1.05" height="1.05" fill="#cc4248"/>
<rect x="0" y="16" width="1.05" height="1.05" fill="#b43359"/><rect x="1" y="16" width="1.05" height="1.05" fill="#b43359"/><rect x="2" y="16" width="1.05" height="1.05" fill="#b63458"/><rect x="3" y="16" width="1.05" height="1.05" fill="#b73557"/><rect x="4" y="16" width="1.05" height="1.05" fill="#b93556"/><rect x="5" y="16" width="1.05" height="1.05" fill="#ba3655"/><rect x="6" y="16" width="1.05" height="1.05" fill="#bc3754"/><rect x="7" y="16" width="1.05" height="1.05" fill="#bd3853"/><rect x="8" y="16" width="1.05" height="1.05" fill="#bf3952"/><rect x="9" y="16" width="1.05" height="1.05" fill="#c03a51"/><rect x="10" y="16" width="1.05" height="1.05" fill="#c03a51"/><rect x="11" y="16" width="1.05" height="1.05" fill="#c13a50"/><rect x="12" y="16" width="1.05" height="1.05" fill="#c33b4f"/><rect x="13" y="16" width="1.05" height="1.05" fill="#c43c4e"/><rect x="14" y="16" width="1.05" height="1.05" fill="#c63d4d"/><rect x="15" y="16" width="1.05" height="1.05" fill="#c73e4c"/><rect x="16" y="16" width="1.05" height="1.05" fill="#c83f4b"/><rect x="17" y="16" width="1.05" height="1.05" fill="#ca404a"/><rect x="18" y="16" width="1.05" height="1.05" fill="#ca404a"/><rect x="19" y="16" width="1.05" height="1.05" fill="#cb4149"/>
<rect x="0" y="17" width="1.05" height="1.05" fill="#b3325a"/><rect x="1" y="17" width="1.05" height="1.05" fill="#b43359"/><rect x="2" y="17" width="1.05" height="1.05" fill="#b63458"/><rect x="3" y="17" width="1.05" height="1.05" fill="#b73557"/><rect x="4" y="17" width="1.05" height="1.05" fill="#b93556"/><rect x="5" y="17" width="1.05" height="1.05" fill="#b93556"/><rect x="6" y="17" width="1.05" height="1.05" fill="#ba3655"/><rect x="7" y="17" width="1.05" height="1.05" fill="#bc3754"/><rect x="8" y="17" width="1.05" height="1.05" fill="#bd3853"/><rect x="9" y="17" width="1.05" height="1.05" fill="#bf3952"/><rect x="10" y="17" width="1.05" height="1.05" fill="#c03a51"/><rect x="11" y="17" width="1.05" height="1.05" fill="#c13a50"/><rect x="12" y="17" width="1.05" height="1.05" fill="#c33b4f"/><rect x="13" y="17" width="1.05" height="1.05" fill="#c33b4f"/><rect x="14" y="17" width="1.05" height="1.05" fill="#c43c4e"/><rect x="15" y="17" width="1.05" height="1.05" fill="#c63d4d"/><rect x="16" y="17" width="1.05" height="1.05" fill="#c73e4c"/><rect x="17" y="17" width="1.05" height="1.05" fill="#c83f4b"/><rect x="18" y="17" width="1.05" height="1.05" fill="#ca404a"/><rect x="19" y="17" width="1.05" height="1.05" fill="#cb4149"/>
<rect x="0" y="18" width="1.05" height="1.05" fill="#b1325a"/><rect x="1" y="18" width="1.05" height="1.05" fill="#b3325a"/><rect x="2" y="18" width="1.05" height="1.05" fill="#b43359"/><rect x="3" y="18" width="1.05" height="1.05" fill="#b63458"/><rect x="4" y="18" width="1.05" height="1.05" fill="#b73557"/><rect x="5" y="18" width="1.05" height="1.05" fill="#b93556"/><rect x="6" y="18" width="1.05" height="1.05" fill="#ba3655"/><rect x="7" y="18" width="1.05" height="1.05" fill="#bc3754"/><rect x="8" y="18" width="1.05" height="1.05" fill="#bc3754"/><rect x="9" y="18" width="1.05" height="1.05" fill="#bd3853"/><rect x="10" y="18" width="1.05" height="1.05" fill="#bf3952"/><rect x="11" y="18" width="1.05" height="1.05" fill="#c03a51"/><rect x="12" y="18" width="1.05" height="1.05" fill="#c13a50"/><rect x="13" y="18" width="1.05" height="1.05" fill="#c33b4f"/><rect x="14" y="18" width="1.05" height="1.05" fill="#c43c4e"/><rect x="15" y="18" width="1.05" height="1.05" fill="#c63d4d"/><rect x="16" y="18" width="1.05" height="1.05" fill="#c73e4c"/><rect x="17" y="18" width="1.05" height="1.05" fill="#c73e4c"/><rect x="18" y="18" width="1.05" height="1.05" fill="#c83f4b"/><rect x="19" y="18" width="1.05" height="1.05" fill="#ca404a"/>
<rect x="0" y="19" width="1.05" height="1.05" fill="#b1325a"/><rect x="1" y="19" width="1.05" height="1.05" fill="#b3325a"/><rect x="2" y="19" width="1.05" height="1.05" fill="#b43359"/><rect x="3" y="19" width="1.05" height="1.05" fill="#b63458"/><rect x="4" y="19" width="1.05" height="1.05" fill="#b63458"/><rect x="5" y="19" width="1.05" height="1.05" fill="#b73557"/><rect x="6" y="19" width="1.05" height="1.05" fill="#b93556"/><rect x="7" y="19" width="1.05" height="1.05" fill="#ba3655"/><rect x="8" y="19" width="1.05" height="1.05" fill="#bc3754"/><rect x="9" y="19" width="1.05" height="1.05" fill="#bd3853"/><rect x="10" y="19" width="1.05" height="1.05" fill="#bf3952"/><rect x="11" y="19" width="1.05" height="1.05" fill="#c03a51"/><rect x="12" y="19" width="1.05" height="1.05" fill="#c03a51"/><rect x="13" y="19" width="1.05" height="1.05" fill="#c13a50"/><rect x="14" y="19" width="1.05" height="1.05" fill="#c33b4f"/><rect x="15" y="19" width="1.05" height="1.05" fill="#c43c4e"/><rect x="16" y="19" width="1.05" height="1.05" fill="#c63d4d"/><rect x="17" y="19" width="1.05" height="1.05" fill="#c73e4c"/><rect x="18" y="19" width="1.05" height="1.05" fill="#c83f4b"/><rect x="19" y="19" width="1.05" height="1.05" fill="#ca404a"/>
</svg>
<svg class="h" x="945.50" y="366.90" width="408.70" height="282.00" viewBox="0.0411 0.0567 19.9520 19.8444" preserveAspectRatio="none" shape-rendering="crispEdges">
<rect x="-1" y="-1" width="23" height="23" fill="#bf3952"/>
<rect x="0" y="0" width="1.05" height="1.05" fill="#cb4149"/><rect x="1" y="0" width="1.05" height="1.05" fill="#c73e4c"/><rect x="2" y="0" width="1.05" height="1.05" fill="#c43c4e"/><rect x="3" y="0" width="1.05" height="1.05" fill="#c13a50"/><rect x="4" y="0" width="1.05" height="1.05" fill="#bf3952"/><rect x="5" y="0" width="1.05" height="1.05" fill="#ba3655"/><rect x="6" y="0" width="1.05" height="1.05" fill="#b73557"/><rect x="7" y="0" width="1.05" height="1.05" fill="#b43359"/><rect x="8" y="0" width="1.05" height="1.05" fill="#b1325a"/><rect x="9" y="0" width="1.05" height="1.05" fill="#ad305d"/><rect x="10" y="0" width="1.05" height="1.05" fill="#a92e5e"/><rect x="11" y="0" width="1.05" height="1.05" fill="#a62d60"/><rect x="12" y="0" width="1.05" height="1.05" fill="#a32c61"/><rect x="13" y="0" width="1.05" height="1.05" fill="#9f2a63"/><rect x="14" y="0" width="1.05" height="1.05" fill="#9b2964"/><rect x="15" y="0" width="1.05" height="1.05" fill="#982766"/><rect x="16" y="0" width="1.05" height="1.05" fill="#952667"/><rect x="17" y="0" width="1.05" height="1.05" fill="#902568"/><rect x="18" y="0" width="1.05" height="1.05" fill="#8d2369"/><rect x="19" y="0" width="1.05" height="1.05" fill="#8a226a"/>
<rect x="0" y="1" width="1.05" height="1.05" fill="#c83f4b"/><rect x="1" y="1" width="1.05" height="1.05" fill="#c63d4d"/><rect x="2" y="1" width="1.05" height="1.05" fill="#c33b4f"/><rect x="3" y="1" width="1.05" height="1.05" fill="#c03a51"/><rect x="4" y="1" width="1.05" height="1.05" fill="#bd3853"/><rect x="5" y="1" width="1.05" height="1.05" fill="#ba3655"/><rect x="6" y="1" width="1.05" height="1.05" fill="#b73557"/><rect x="7" y="1" width="1.05" height="1.05" fill="#b43359"/><rect x="8" y="1" width="1.05" height="1.05" fill="#b1325a"/><rect x="9" y="1" width="1.05" height="1.05" fill="#ae305c"/><rect x="10" y="1" width="1.05" height="1.05" fill="#ad305d"/><rect x="11" y="1" width="1.05" height="1.05" fill="#a92e5e"/><rect x="12" y="1" width="1.05" height="1.05" fill="#a62d60"/><rect x="13" y="1" width="1.05" height="1.05" fill="#a32c61"/><rect x="14" y="1" width="1.05" height="1.05" fill="#a02a63"/><rect x="15" y="1" width="1.05" height="1.05" fill="#9d2964"/><rect x="16" y="1" width="1.05" height="1.05" fill="#9a2865"/><rect x="17" y="1" width="1.05" height="1.05" fill="#972766"/><rect x="18" y="1" width="1.05" height="1.05" fill="#932667"/><rect x="19" y="1" width="1.05" height="1.05" fill="#902568"/>
<rect x="0" y="2" width="1.05" height="1.05" fill="#c73e4c"/><rect x="1" y="2" width="1.05" height="1.05" fill="#c43c4e"/><rect x="2" y="2" width="1.05" height="1.05" fill="#c13a50"/><rect x="3" y="2" width="1.05" height="1.05" fill="#c03a51"/><rect x="4" y="2" width="1.05" height="1.05" fill="#bd3853"/><rect x="5" y="2" width="1.05" height="1.05" fill="#ba3655"/><rect x="6" y="2" width="1.05" height="1.05" fill="#b93556"/><rect x="7" y="2" width="1.05" height="1.05" fill="#b63458"/><rect x="8" y="2" width="1.05" height="1.05" fill="#b3325a"/><rect x="9" y="2" width="1.05" height="1.05" fill="#b1325a"/><rect x="10" y="2" width="1.05" height="1.05" fill="#ae305c"/><rect x="11" y="2" width="1.05" height="1.05" fill="#ab2f5e"/><rect x="12" y="2" width="1.05" height="1.05" fill="#a92e5e"/><rect x="13" y="2" width="1.05" height="1.05" fill="#a62d60"/><rect x="14" y="2" width="1.05" height="1.05" fill="#a32c61"/><rect x="15" y="2" width="1.05" height="1.05" fill="#a22b62"/><rect x="16" y="2" width="1.05" height="1.05" fill="#9f2a63"/><rect x="17" y="2" width="1.05" height="1.05" fill="#9b2964"/><rect x="18" y="2" width="1.05" height="1.05" fill="#9a2865"/><rect x="19" y="2" width="1.05" height="1.05" fill="#972766"/>
<rect x="0" y="3" width="1.05" height="1.05" fill="#c43c4e"/><rect x="1" y="3" width="1.05" height="1.05" fill="#c33b4f"/><rect x="2" y="3" width="1.05" height="1.05" fill="#c03a51"/><rect x="3" y="3" width="1.05" height="1.05" fill="#bf3952"/><rect x="4" y="3" width="1.05" height="1.05" fill="#bd3853"/><rect x="5" y="3" width="1.05" height="1.05" fill="#ba3655"/><rect x="6" y="3" width="1.05" height="1.05" fill="#b93556"/><rect x="7" y="3" width="1.05" height="1.05" fill="#b73557"/><rect x="8" y="3" width="1.05" height="1.05" fill="#b43359"/><rect x="9" y="3" width="1.05" height="1.05" fill="#b3325a"/><rect x="10" y="3" width="1.05" height="1.05" fill="#b0315b"/><rect x="11" y="3" width="1.05" height="1.05" fill="#ae305c"/><rect x="12" y="3" width="1.05" height="1.05" fill="#ad305d"/><rect x="13" y="3" width="1.05" height="1.05" fill="#a92e5e"/><rect x="14" y="3" width="1.05" height="1.05" fill="#a82e5f"/><rect x="15" y="3" width="1.05" height="1.05" fill="#a62d60"/><rect x="16" y="3" width="1.05" height="1.05" fill="#a32c61"/><rect x="17" y="3" width="1.05" height="1.05" fill="#a22b62"/><rect x="18" y="3" width="1.05" height="1.05" fill="#9f2a63"/><rect x="19" y="3" width="1.05" height="1.05" fill="#9d2964"/>
<rect x="0" y="4" width="1.05" height="1.05" fill="#c33b4f"/><rect x="1" y="4" width="1.05" height="1.05" fill="#c13a50"/><rect x="2" y="4" width="1.05" height="1.05" fill="#c03a51"/><rect x="3" y="4" width="1.05" height="1.05" fill="#bf3952"/><rect x="4" y="4" width="1.05" height="1.05" fill="#bc3754"/><rect x="5" y="4" width="1.05" height="1.05" fill="#ba3655"/><rect x="6" y="4" width="1.05" height="1.05" fill="#b93556"/><rect x="7" y="4" width="1.05" height="1.05" fill="#b73557"/><rect x="8" y="4" width="1.05" height="1.05" fill="#b63458"/><rect x="9" y="4" width="1.05" height="1.05" fill="#b43359"/><rect x="10" y="4" width="1.05" height="1.05" fill="#b3325a"/><rect x="11" y="4" width="1.05" height="1.05" fill="#b1325a"/><rect x="12" y="4" width="1.05" height="1.05" fill="#b0315b"/><rect x="13" y="4" width="1.05" height="1.05" fill="#ae305c"/><rect x="14" y="4" width="1.05" height="1.05" fill="#ad305d"/><rect x="15" y="4" width="1.05" height="1.05" fill="#ab2f5e"/><rect x="16" y="4" width="1.05" height="1.05" fill="#a82e5f"/><rect x="17" y="4" width="1.05" height="1.05" fill="#a62d60"/><rect x="18" y="4" width="1.05" height="1.05" fill="#a52c60"/><rect x="19" y="4" width="1.05" height="1.05" fill="#a32c61"/>
<rect x="0" y="5" width="1.05" height="1.05" fill="#c03a51"/><rect x="1" y="5" width="1.05" height="1.05" fill="#bf3952"/><rect x="2" y="5" width="1.05" height="1.05" fill="#bf3952"/><rect x="3" y="5" width="1.05" height="1.05" fill="#bd3853"/><rect x="4" y="5" width="1.05" height="1.05" fill="#bc3754"/><rect x="5" y="5" width="1.05" height="1.05" fill="#ba3655"/><rect x="6" y="5" width="1.05" height="1.05" fill="#ba3655"/><rect x="7" y="5" width="1.05" height="1.05" fill="#b93556"/><rect x="8" y="5" width="1.05" height="1.05" fill="#b73557"/><rect x="9" y="5" width="1.05" height="1.05" fill="#b63458"/><rect x="10" y="5" width="1.05" height="1.05" fill="#b43359"/><rect x="11" y="5" width="1.05" height="1.05" fill="#b43359"/><rect x="12" y="5" width="1.05" height="1.05" fill="#b3325a"/><rect x="13" y="5" width="1.05" height="1.05" fill="#b1325a"/><rect x="14" y="5" width="1.05" height="1.05" fill="#b0315b"/><rect x="15" y="5" width="1.05" height="1.05" fill="#ae305c"/><rect x="16" y="5" width="1.05" height="1.05" fill="#ae305c"/><rect x="17" y="5" width="1.05" height="1.05" fill="#ad305d"/><rect x="18" y="5" width="1.05" height="1.05" fill="#ab2f5e"/><rect x="19" y="5" width="1.05" height="1.05" fill="#a92e5e"/>
<rect x="0" y="6" width="1.05" height="1.05" fill="#bf3952"/><rect x="1" y="6" width="1.05" height="1.05" fill="#bd3853"/><rect x="2" y="6" width="1.05" height="1.05" fill="#bd3853"/><rect x="3" y="6" width="1.05" height="1.05" fill="#bc3754"/><rect x="4" y="6" width="1.05" height="1.05" fill="#bc3754"/><rect x="5" y="6" width="1.05" height="1.05" fill="#ba3655"/><rect x="6" y="6" width="1.05" height="1.05" fill="#ba3655"/><rect x="7" y="6" width="1.05" height="1.05" fill="#b93556"/><rect x="8" y="6" width="1.05" height="1.05" fill="#b93556"/><rect x="9" y="6" width="1.05" height="1.05" fill="#b73557"/><rect x="10" y="6" width="1.05" height="1.05" fill="#b73557"/><rect x="11" y="6" width="1.05" height="1.05" fill="#b63458"/><rect x="12" y="6" width="1.05" height="1.05" fill="#b63458"/><rect x="13" y="6" width="1.05" height="1.05" fill="#b43359"/><rect x="14" y="6" width="1.05" height="1.05" fill="#b43359"/><rect x="15" y="6" width="1.05" height="1.05" fill="#b3325a"/><rect x="16" y="6" width="1.05" height="1.05" fill="#b3325a"/><rect x="17" y="6" width="1.05" height="1.05" fill="#b1325a"/><rect x="18" y="6" width="1.05" height="1.05" fill="#b1325a"/><rect x="19" y="6" width="1.05" height="1.05" fill="#b0315b"/>
<rect x="0" y="7" width="1.05" height="1.05" fill="#bc3754"/><rect x="1" y="7" width="1.05" height="1.05" fill="#bc3754"/><rect x="2" y="7" width="1.05" height="1.05" fill="#bc3754"/><rect x="3" y="7" width="1.05" height="1.05" fill="#bc3754"/><rect x="4" y="7" width="1.05" height="1.05" fill="#bc3754"/><rect x="5" y="7" width="1.05" height="1.05" fill="#ba3655"/><rect x="6" y="7" width="1.05" height="1.05" fill="#ba3655"/><rect x="7" y="7" width="1.05" height="1.05" fill="#ba3655"/><rect x="8" y="7" width="1.05" height="1.05" fill="#ba3655"/><rect x="9" y="7" width="1.05" height="1.05" fill="#ba3655"/><rect x="10" y="7" width="1.05" height="1.05" fill="#b93556"/><rect x="11" y="7" width="1.05" height="1.05" fill="#b93556"/><rect x="12" y="7" width="1.05" height="1.05" fill="#b93556"/><rect x="13" y="7" width="1.05" height="1.05" fill="#b93556"/><rect x="14" y="7" width="1.05" height="1.05" fill="#b93556"/><rect x="15" y="7" width="1.05" height="1.05" fill="#b73557"/><rect x="16" y="7" width="1.05" height="1.05" fill="#b73557"/><rect x="17" y="7" width="1.05" height="1.05" fill="#b73557"/><rect x="18" y="7" width="1.05" height="1.05" fill="#b73557"/><rect x="19" y="7" width="1.05" height="1.05" fill="#b73557"/>
<rect x="0" y="8" width="1.05" height="1.05" fill="#ba3655"/><rect x="1" y="8" width="1.05" height="1.05" fill="#ba3655"/><rect x="2" y="8" width="1.05" height="1.05" fill="#ba3655"/><rect x="3" y="8" width="1.05" height="1.05" fill="#ba3655"/><rect x="4" y="8" width="1.05" height="1.05" fill="#ba3655"/><rect x="5" y="8" width="1.05" height="1.05" fill="#ba3655"/><rect x="6" y="8" width="1.05" height="1.05" fill="#ba3655"/><rect x="7" y="8" width="1.05" height="1.05" fill="#bc3754"/><rect x="8" y="8" width="1.05" height="1.05" fill="#bc3754"/><rect x="9" y="8" width="1.05" height="1.05" fill="#bc3754"/><rect x="10" y="8" width="1.05" height="1.05" fill="#bc3754"/><rect x="11" y="8" width="1.05" height="1.05" fill="#bc3754"/><rect x="12" y="8" width="1.05" height="1.05" fill="#bc3754"/><rect x="13" y="8" width="1.05" height="1.05" fill="#bc3754"/><rect x="14" y="8" width="1.05" height="1.05" fill="#bc3754"/><rect x="15" y="8" width="1.05" height="1.05" fill="#bc3754"/><rect x="16" y="8" width="1.05" height="1.05" fill="#bc3754"/><rect x="17" y="8" width="1.05" height="1.05" fill="#bd3853"/><rect x="18" y="8" width="1.05" height="1.05" fill="#bd3853"/><rect x="19" y="8" width="1.05" height="1.05" fill="#bd3853"/>
<rect x="0" y="9" width="1.05" height="1.05" fill="#b73557"/><rect x="1" y="9" width="1.05" height="1.05" fill="#b93556"/><rect x="2" y="9" width="1.05" height="1.05" fill="#b93556"/><rect x="3" y="9" width="1.05" height="1.05" fill="#ba3655"/><rect x="4" y="9" width="1.05" height="1.05" fill="#ba3655"/><rect x="5" y="9" width="1.05" height="1.05" fill="#ba3655"/><rect x="6" y="9" width="1.05" height="1.05" fill="#bc3754"/><rect x="7" y="9" width="1.05" height="1.05" fill="#bc3754"/><rect x="8" y="9" width="1.05" height="1.05" fill="#bd3853"/><rect x="9" y="9" width="1.05" height="1.05" fill="#bd3853"/><rect x="10" y="9" width="1.05" height="1.05" fill="#bd3853"/><rect x="11" y="9" width="1.05" height="1.05" fill="#bf3952"/><rect x="12" y="9" width="1.05" height="1.05" fill="#bf3952"/><rect x="13" y="9" width="1.05" height="1.05" fill="#bf3952"/><rect x="14" y="9" width="1.05" height="1.05" fill="#c03a51"/><rect x="15" y="9" width="1.05" height="1.05" fill="#c03a51"/><rect x="16" y="9" width="1.05" height="1.05" fill="#c13a50"/><rect x="17" y="9" width="1.05" height="1.05" fill="#c13a50"/><rect x="18" y="9" width="1.05" height="1.05" fill="#c13a50"/><rect x="19" y="9" width="1.05" height="1.05" fill="#c33b4f"/>
<rect x="0" y="10" width="1.05" height="1.05" fill="#b63458"/><rect x="1" y="10" width="1.05" height="1.05" fill="#b73557"/><rect x="2" y="10" width="1.05" height="1.05" fill="#b73557"/><rect x="3" y="10" width="1.05" height="1.05" fill="#b93556"/><rect x="4" y="10" width="1.05" height="1.05" fill="#ba3655"/><rect x="5" y="10" width="1.05" height="1.05" fill="#ba3655"/><rect x="6" y="10" width="1.05" height="1.05" fill="#bc3754"/><rect x="7" y="10" width="1.05" height="1.05" fill="#bd3853"/><rect x="8" y="10" width="1.05" height="1.05" fill="#bd3853"/><rect x="9" y="10" width="1.05" height="1.05" fill="#bf3952"/><rect x="10" y="10" width="1.05" height="1.05" fill="#c03a51"/><rect x="11" y="10" width="1.05" height="1.05" fill="#c03a51"/><rect x="12" y="10" width="1.05" height="1.05" fill="#c13a50"/><rect x="13" y="10" width="1.05" height="1.05" fill="#c33b4f"/><rect x="14" y="10" width="1.05" height="1.05" fill="#c43c4e"/><rect x="15" y="10" width="1.05" height="1.05" fill="#c43c4e"/><rect x="16" y="10" width="1.05" height="1.05" fill="#c63d4d"/><rect x="17" y="10" width="1.05" height="1.05" fill="#c73e4c"/><rect x="18" y="10" width="1.05" height="1.05" fill="#c73e4c"/><rect x="19" y="10" width="1.05" height="1.05" fill="#c83f4b"/>
<rect x="0" y="11" width="1.05" height="1.05" fill="#b3325a"/><rect x="1" y="11" width="1.05" height="1.05" fill="#b43359"/><rect x="2" y="11" width="1.05" height="1.05" fill="#b63458"/><rect x="3" y="11" width="1.05" height="1.05" fill="#b73557"/><rect x="4" y="11" width="1.05" height="1.05" fill="#b93556"/><rect x="5" y="11" width="1.05" height="1.05" fill="#ba3655"/><rect x="6" y="11" width="1.05" height="1.05" fill="#bc3754"/><rect x="7" y="11" width="1.05" height="1.05" fill="#bd3853"/><rect x="8" y="11" width="1.05" height="1.05" fill="#bf3952"/><rect x="9" y="11" width="1.05" height="1.05" fill="#c03a51"/><rect x="10" y="11" width="1.05" height="1.05" fill="#c13a50"/><rect x="11" y="11" width="1.05" height="1.05" fill="#c33b4f"/><rect x="12" y="11" width="1.05" height="1.05" fill="#c43c4e"/><rect x="13" y="11" width="1.05" height="1.05" fill="#c63d4d"/><rect x="14" y="11" width="1.05" height="1.05" fill="#c73e4c"/><rect x="15" y="11" width="1.05" height="1.05" fill="#c83f4b"/><rect x="16" y="11" width="1.05" height="1.05" fill="#ca404a"/><rect x="17" y="11" width="1.05" height="1.05" fill="#cb4149"/><rect x="18" y="11" width="1.05" height="1.05" fill="#cc4248"/><rect x="19" y="11" width="1.05" height="1.05" fill="#ce4347"/>
<rect x="0" y="12" width="1.05" height="1.05" fill="#b1325a"/><rect x="1" y="12" width="1.05" height="1.05" fill="#b3325a"/><rect x="2" y="12" width="1.05" height="1.05" fill="#b63458"/><rect x="3" y="12" width="1.05" height="1.05" fill="#b73557"/><rect x="4" y="12" width="1.05" height="1.05" fill="#b93556"/><rect x="5" y="12" width="1.05" height="1.05" fill="#ba3655"/><rect x="6" y="12" width="1.05" height="1.05" fill="#bd3853"/><rect x="7" y="12" width="1.05" height="1.05" fill="#bf3952"/><rect x="8" y="12" width="1.05" height="1.05" fill="#c03a51"/><rect x="9" y="12" width="1.05" height="1.05" fill="#c13a50"/><rect x="10" y="12" width="1.05" height="1.05" fill="#c43c4e"/><rect x="11" y="12" width="1.05" height="1.05" fill="#c63d4d"/><rect x="12" y="12" width="1.05" height="1.05" fill="#c73e4c"/><rect x="13" y="12" width="1.05" height="1.05" fill="#ca404a"/><rect x="14" y="12" width="1.05" height="1.05" fill="#cb4149"/><rect x="15" y="12" width="1.05" height="1.05" fill="#cc4248"/><rect x="16" y="12" width="1.05" height="1.05" fill="#ce4347"/><rect x="17" y="12" width="1.05" height="1.05" fill="#d04545"/><rect x="18" y="12" width="1.05" height="1.05" fill="#d24644"/><rect x="19" y="12" width="1.05" height="1.05" fill="#d34743"/>
<rect x="0" y="13" width="1.05" height="1.05" fill="#b0315b"/><rect x="1" y="13" width="1.05" height="1.05" fill="#b1325a"/><rect x="2" y="13" width="1.05" height="1.05" fill="#b43359"/><rect x="3" y="13" width="1.05" height="1.05" fill="#b63458"/><rect x="4" y="13" width="1.05" height="1.05" fill="#b93556"/><rect x="5" y="13" width="1.05" height="1.05" fill="#ba3655"/><rect x="6" y="13" width="1.05" height="1.05" fill="#bd3853"/><rect x="7" y="13" width="1.05" height="1.05" fill="#bf3952"/><rect x="8" y="13" width="1.05" height="1.05" fill="#c13a50"/><rect x="9" y="13" width="1.05" height="1.05" fill="#c43c4e"/><rect x="10" y="13" width="1.05" height="1.05" fill="#c63d4d"/><rect x="11" y="13" width="1.05" height="1.05" fill="#c83f4b"/><rect x="12" y="13" width="1.05" height="1.05" fill="#ca404a"/><rect x="13" y="13" width="1.05" height="1.05" fill="#cc4248"/><rect x="14" y="13" width="1.05" height="1.05" fill="#ce4347"/><rect x="15" y="13" width="1.05" height="1.05" fill="#d04545"/><rect x="16" y="13" width="1.05" height="1.05" fill="#d34743"/><rect x="17" y="13" width="1.05" height="1.05" fill="#d44842"/><rect x="18" y="13" width="1.05" height="1.05" fill="#d74b3f"/><rect x="19" y="13" width="1.05" height="1.05" fill="#d84c3f"/>
<rect x="0" y="14" width="1.05" height="1.05" fill="#ad305d"/><rect x="1" y="14" width="1.05" height="1.05" fill="#b0315b"/><rect x="2" y="14" width="1.05" height="1.05" fill="#b3325a"/><rect x="3" y="14" width="1.05" height="1.05" fill="#b63458"/><rect x="4" y="14" width="1.05" height="1.05" fill="#b73557"/><rect x="5" y="14" width="1.05" height="1.05" fill="#ba3655"/><rect x="6" y="14" width="1.05" height="1.05" fill="#bd3853"/><rect x="7" y="14" width="1.05" height="1.05" fill="#c03a51"/><rect x="8" y="14" width="1.05" height="1.05" fill="#c33b4f"/><rect x="9" y="14" width="1.05" height="1.05" fill="#c63d4d"/><rect x="10" y="14" width="1.05" height="1.05" fill="#c83f4b"/><rect x="11" y="14" width="1.05" height="1.05" fill="#cb4149"/><rect x="12" y="14" width="1.05" height="1.05" fill="#cc4248"/><rect x="13" y="14" width="1.05" height="1.05" fill="#cf4446"/><rect x="14" y="14" width="1.05" height="1.05" fill="#d24644"/><rect x="15" y="14" width="1.05" height="1.05" fill="#d44842"/><rect x="16" y="14" width="1.05" height="1.05" fill="#d74b3f"/><rect x="17" y="14" width="1.05" height="1.05" fill="#d94d3e"/><rect x="18" y="14" width="1.05" height="1.05" fill="#db503d"/><rect x="19" y="14" width="1.05" height="1.05" fill="#db523d"/>
<rect x="0" y="15" width="1.05" height="1.05" fill="#ab2f5e"/><rect x="1" y="15" width="1.05" height="1.05" fill="#ae305c"/><rect x="2" y="15" width="1.05" height="1.05" fill="#b1325a"/><rect x="3" y="15" width="1.05" height="1.05" fill="#b43359"/><rect x="4" y="15" width="1.05" height="1.05" fill="#b73557"/><rect x="5" y="15" width="1.05" height="1.05" fill="#ba3655"/><rect x="6" y="15" width="1.05" height="1.05" fill="#bf3952"/><rect x="7" y="15" width="1.05" height="1.05" fill="#c13a50"/><rect x="8" y="15" width="1.05" height="1.05" fill="#c43c4e"/><rect x="9" y="15" width="1.05" height="1.05" fill="#c73e4c"/><rect x="10" y="15" width="1.05" height="1.05" fill="#ca404a"/><rect x="11" y="15" width="1.05" height="1.05" fill="#cc4248"/><rect x="12" y="15" width="1.05" height="1.05" fill="#cf4446"/><rect x="13" y="15" width="1.05" height="1.05" fill="#d34743"/><rect x="14" y="15" width="1.05" height="1.05" fill="#d54a41"/><rect x="15" y="15" width="1.05" height="1.05" fill="#d84c3f"/><rect x="16" y="15" width="1.05" height="1.05" fill="#da4f3e"/><rect x="17" y="15" width="1.05" height="1.05" fill="#db523d"/><rect x="18" y="15" width="1.05" height="1.05" fill="#de573a"/><rect x="19" y="15" width="1.05" height="1.05" fill="#e05a39"/>
<rect x="0" y="16" width="1.05" height="1.05" fill="#a82e5f"/><rect x="1" y="16" width="1.05" height="1.05" fill="#ad305d"/><rect x="2" y="16" width="1.05" height="1.05" fill="#b0315b"/><rect x="3" y="16" width="1.05" height="1.05" fill="#b3325a"/><rect x="4" y="16" width="1.05" height="1.05" fill="#b73557"/><rect x="5" y="16" width="1.05" height="1.05" fill="#ba3655"/><rect x="6" y="16" width="1.05" height="1.05" fill="#bf3952"/><rect x="7" y="16" width="1.05" height="1.05" fill="#c13a50"/><rect x="8" y="16" width="1.05" height="1.05" fill="#c63d4d"/><rect x="9" y="16" width="1.05" height="1.05" fill="#c83f4b"/><rect x="10" y="16" width="1.05" height="1.05" fill="#cc4248"/><rect x="11" y="16" width="1.05" height="1.05" fill="#cf4446"/><rect x="12" y="16" width="1.05" height="1.05" fill="#d34743"/><rect x="13" y="16" width="1.05" height="1.05" fill="#d54a41"/><rect x="14" y="16" width="1.05" height="1.05" fill="#d84c3f"/><rect x="15" y="16" width="1.05" height="1.05" fill="#db503d"/><rect x="16" y="16" width="1.05" height="1.05" fill="#dd553b"/><rect x="17" y="16" width="1.05" height="1.05" fill="#df583a"/><rect x="18" y="16" width="1.05" height="1.05" fill="#e15d38"/><rect x="19" y="16" width="1.05" height="1.05" fill="#e46136"/>
<rect x="0" y="17" width="1.05" height="1.05" fill="#a62d60"/><rect x="1" y="17" width="1.05" height="1.05" fill="#a92e5e"/><rect x="2" y="17" width="1.05" height="1.05" fill="#ae305c"/><rect x="3" y="17" width="1.05" height="1.05" fill="#b3325a"/><rect x="4" y="17" width="1.05" height="1.05" fill="#b73557"/><rect x="5" y="17" width="1.05" height="1.05" fill="#ba3655"/><rect x="6" y="17" width="1.05" height="1.05" fill="#bf3952"/><rect x="7" y="17" width="1.05" height="1.05" fill="#c33b4f"/><rect x="8" y="17" width="1.05" height="1.05" fill="#c73e4c"/><rect x="9" y="17" width="1.05" height="1.05" fill="#ca404a"/><rect x="10" y="17" width="1.05" height="1.05" fill="#ce4347"/><rect x="11" y="17" width="1.05" height="1.05" fill="#d24644"/><rect x="12" y="17" width="1.05" height="1.05" fill="#d54a41"/><rect x="13" y="17" width="1.05" height="1.05" fill="#d84c3f"/><rect x="14" y="17" width="1.05" height="1.05" fill="#da503d"/><rect x="15" y="17" width="1.05" height="1.05" fill="#dd553b"/><rect x="16" y="17" width="1.05" height="1.05" fill="#e05a39"/><rect x="17" y="17" width="1.05" height="1.05" fill="#e25e37"/><rect x="18" y="17" width="1.05" height="1.05" fill="#e56434"/><rect x="19" y="17" width="1.05" height="1.05" fill="#e86932"/>
<rect x="0" y="18" width="1.05" height="1.05" fill="#a32c61"/><rect x="1" y="18" width="1.05" height="1.05" fill="#a82e5f"/><rect x="2" y="18" width="1.05" height="1.05" fill="#ad305d"/><rect x="3" y="18" width="1.05" height="1.05" fill="#b1325a"/><rect x="4" y="18" width="1.05" height="1.05" fill="#b63458"/><rect x="5" y="18" width="1.05" height="1.05" fill="#ba3655"/><rect x="6" y="18" width="1.05" height="1.05" fill="#bf3952"/><rect x="7" y="18" width="1.05" height="1.05" fill="#c33b4f"/><rect x="8" y="18" width="1.05" height="1.05" fill="#c73e4c"/><rect x="9" y="18" width="1.05" height="1.05" fill="#cc4248"/><rect x="10" y="18" width="1.05" height="1.05" fill="#d04545"/><rect x="11" y="18" width="1.05" height="1.05" fill="#d44842"/><rect x="12" y="18" width="1.05" height="1.05" fill="#d84c3f"/><rect x="13" y="18" width="1.05" height="1.05" fill="#db503d"/><rect x="14" y="18" width="1.05" height="1.05" fill="#dd553b"/><rect x="15" y="18" width="1.05" height="1.05" fill="#e15b38"/><rect x="16" y="18" width="1.05" height="1.05" fill="#e36037"/><rect x="17" y="18" width="1.05" height="1.05" fill="#e66633"/><rect x="18" y="18" width="1.05" height="1.05" fill="#e86a31"/><rect x="19" y="18" width="1.05" height="1.05" fill="#eb702e"/>
<rect x="0" y="19" width="1.05" height="1.05" fill="#a22b62"/><rect x="1" y="19" width="1.05" height="1.05" fill="#a62d60"/><rect x="2" y="19" width="1.05" height="1.05" fill="#ab2f5e"/><rect x="3" y="19" width="1.05" height="1.05" fill="#b1325a"/><rect x="4" y="19" width="1.05" height="1.05" fill="#b63458"/><rect x="5" y="19" width="1.05" height="1.05" fill="#ba3655"/><rect x="6" y="19" width="1.05" height="1.05" fill="#c03a51"/><rect x="7" y="19" width="1.05" height="1.05" fill="#c43c4e"/><rect x="8" y="19" width="1.05" height="1.05" fill="#c83f4b"/><rect x="9" y="19" width="1.05" height="1.05" fill="#ce4347"/><rect x="10" y="19" width="1.05" height="1.05" fill="#d24644"/><rect x="11" y="19" width="1.05" height="1.05" fill="#d54a41"/><rect x="12" y="19" width="1.05" height="1.05" fill="#da4f3d"/><rect x="13" y="19" width="1.05" height="1.05" fill="#dc543c"/><rect x="14" y="19" width="1.05" height="1.05" fill="#e05a39"/><rect x="15" y="19" width="1.05" height="1.05" fill="#e36036"/><rect x="16" y="19" width="1.05" height="1.05" fill="#e66633"/><rect x="17" y="19" width="1.05" height="1.05" fill="#e96c30"/><rect x="18" y="19" width="1.05" height="1.05" fill="#eb722d"/><rect x="19" y="19" width="1.05" height="1.05" fill="#ed762b"/>
</svg>
<svg class="h" x="88.40" y="669.20" width="408.60" height="282.60" viewBox="0.0411 0.0567 19.9471 19.8867" preserveAspectRatio="none" shape-rendering="crispEdges">
<rect x="-1" y="-1" width="23" height="23" fill="#a52c60"/>
<rect x="0" y="0" width="1.05" height="1.05" fill="#8f2469"/><rect x="1" y="0" width="1.05" height="1.05" fill="#952667"/><rect x="2" y="0" width="1.05" height="1.05" fill="#9b2964"/><rect x="3" y="0" width="1.05" height="1.05" fill="#a22b62"/><rect x="4" y="0" width="1.05" height="1.05" fill="#a82e5f"/><rect x="5" y="0" width="1.05" height="1.05" fill="#ae305c"/><rect x="6" y="0" width="1.05" height="1.05" fill="#b43359"/><rect x="7" y="0" width="1.05" height="1.05" fill="#ba3655"/><rect x="8" y="0" width="1.05" height="1.05" fill="#c03a51"/><rect x="9" y="0" width="1.05" height="1.05" fill="#c63d4d"/><rect x="10" y="0" width="1.05" height="1.05" fill="#cb4149"/><rect x="11" y="0" width="1.05" height="1.05" fill="#d04545"/><rect x="12" y="0" width="1.05" height="1.05" fill="#d54a41"/><rect x="13" y="0" width="1.05" height="1.05" fill="#db503d"/><rect x="14" y="0" width="1.05" height="1.05" fill="#de573b"/><rect x="15" y="0" width="1.05" height="1.05" fill="#e25f37"/><rect x="16" y="0" width="1.05" height="1.05" fill="#e56434"/><rect x="17" y="0" width="1.05" height="1.05" fill="#e96c30"/><rect x="18" y="0" width="1.05" height="1.05" fill="#ec732c"/><rect x="19" y="0" width="1.05" height="1.05" fill="#ef7b27"/>
<rect x="0" y="1" width="1.05" height="1.05" fill="#8f2469"/><rect x="1" y="1" width="1.05" height="1.05" fill="#952667"/><rect x="2" y="1" width="1.05" height="1.05" fill="#9a2865"/><rect x="3" y="1" width="1.05" height="1.05" fill="#a02a63"/><rect x="4" y="1" width="1.05" height="1.05" fill="#a62d60"/><rect x="5" y="1" width="1.05" height="1.05" fill="#ad305d"/><rect x="6" y="1" width="1.05" height="1.05" fill="#b3325a"/><rect x="7" y="1" width="1.05" height="1.05" fill="#b73557"/><rect x="8" y="1" width="1.05" height="1.05" fill="#bd3853"/><rect x="9" y="1" width="1.05" height="1.05" fill="#c33b4f"/><rect x="10" y="1" width="1.05" height="1.05" fill="#c83f4b"/><rect x="11" y="1" width="1.05" height="1.05" fill="#cc4248"/><rect x="12" y="1" width="1.05" height="1.05" fill="#d24644"/><rect x="13" y="1" width="1.05" height="1.05" fill="#d74b3f"/><rect x="14" y="1" width="1.05" height="1.05" fill="#db503d"/><rect x="15" y="1" width="1.05" height="1.05" fill="#de573a"/><rect x="16" y="1" width="1.05" height="1.05" fill="#e15d38"/><rect x="17" y="1" width="1.05" height="1.05" fill="#e56434"/><rect x="18" y="1" width="1.05" height="1.05" fill="#e86a31"/><rect x="19" y="1" width="1.05" height="1.05" fill="#eb702e"/>
<rect x="0" y="2" width="1.05" height="1.05" fill="#8f2469"/><rect x="1" y="2" width="1.05" height="1.05" fill="#952667"/><rect x="2" y="2" width="1.05" height="1.05" fill="#9a2865"/><rect x="3" y="2" width="1.05" height="1.05" fill="#a02a63"/><rect x="4" y="2" width="1.05" height="1.05" fill="#a52c60"/><rect x="5" y="2" width="1.05" height="1.05" fill="#ab2f5e"/><rect x="6" y="2" width="1.05" height="1.05" fill="#b0315b"/><rect x="7" y="2" width="1.05" height="1.05" fill="#b43359"/><rect x="8" y="2" width="1.05" height="1.05" fill="#ba3655"/><rect x="9" y="2" width="1.05" height="1.05" fill="#bf3952"/><rect x="10" y="2" width="1.05" height="1.05" fill="#c43c4e"/><rect x="11" y="2" width="1.05" height="1.05" fill="#c83f4b"/><rect x="12" y="2" width="1.05" height="1.05" fill="#ce4347"/><rect x="13" y="2" width="1.05" height="1.05" fill="#d24644"/><rect x="14" y="2" width="1.05" height="1.05" fill="#d74b3f"/><rect x="15" y="2" width="1.05" height="1.05" fill="#d94f3e"/><rect x="16" y="2" width="1.05" height="1.05" fill="#dd553b"/><rect x="17" y="2" width="1.05" height="1.05" fill="#e05b39"/><rect x="18" y="2" width="1.05" height="1.05" fill="#e46136"/><rect x="19" y="2" width="1.05" height="1.05" fill="#e76733"/>
<rect x="0" y="3" width="1.05" height="1.05" fill="#8f2469"/><rect x="1" y="3" width="1.05" height="1.05" fill="#932667"/><rect x="2" y="3" width="1.05" height="1.05" fill="#9a2865"/><rect x="3" y="3" width="1.05" height="1.05" fill="#9f2a63"/><rect x="4" y="3" width="1.05" height="1.05" fill="#a32c61"/><rect x="5" y="3" width="1.05" height="1.05" fill="#a82e5f"/><rect x="6" y="3" width="1.05" height="1.05" fill="#ad305d"/><rect x="7" y="3" width="1.05" height="1.05" fill="#b3325a"/><rect x="8" y="3" width="1.05" height="1.05" fill="#b73557"/><rect x="9" y="3" width="1.05" height="1.05" fill="#bc3754"/><rect x="10" y="3" width="1.05" height="1.05" fill="#c03a51"/><rect x="11" y="3" width="1.05" height="1.05" fill="#c43c4e"/><rect x="12" y="3" width="1.05" height="1.05" fill="#ca404a"/><rect x="13" y="3" width="1.05" height="1.05" fill="#ce4347"/><rect x="14" y="3" width="1.05" height="1.05" fill="#d24644"/><rect x="15" y="3" width="1.05" height="1.05" fill="#d54a41"/><rect x="16" y="3" width="1.05" height="1.05" fill="#d94e3e"/><rect x="17" y="3" width="1.05" height="1.05" fill="#dc533c"/><rect x="18" y="3" width="1.05" height="1.05" fill="#df583a"/><rect x="19" y="3" width="1.05" height="1.05" fill="#e25f37"/>
<rect x="0" y="4" width="1.05" height="1.05" fill="#902568"/><rect x="1" y="4" width="1.05" height="1.05" fill="#932667"/><rect x="2" y="4" width="1.05" height="1.05" fill="#982766"/><rect x="3" y="4" width="1.05" height="1.05" fill="#9d2964"/><rect x="4" y="4" width="1.05" height="1.05" fill="#a22b62"/><rect x="5" y="4" width="1.05" height="1.05" fill="#a62d60"/><rect x="6" y="4" width="1.05" height="1.05" fill="#ab2f5e"/><rect x="7" y="4" width="1.05" height="1.05" fill="#b0315b"/><rect x="8" y="4" width="1.05" height="1.05" fill="#b43359"/><rect x="9" y="4" width="1.05" height="1.05" fill="#b93556"/><rect x="10" y="4" width="1.05" height="1.05" fill="#bd3853"/><rect x="11" y="4" width="1.05" height="1.05" fill="#c03a51"/><rect x="12" y="4" width="1.05" height="1.05" fill="#c43c4e"/><rect x="13" y="4" width="1.05" height="1.05" fill="#c83f4b"/><rect x="14" y="4" width="1.05" height="1.05" fill="#cc4248"/><rect x="15" y="4" width="1.05" height="1.05" fill="#d04545"/><rect x="16" y="4" width="1.05" height="1.05" fill="#d44842"/><rect x="17" y="4" width="1.05" height="1.05" fill="#d84c3f"/><rect x="18" y="4" width="1.05" height="1.05" fill="#db503d"/><rect x="19" y="4" width="1.05" height="1.05" fill="#dd553b"/>
<rect x="0" y="5" width="1.05" height="1.05" fill="#902568"/><rect x="1" y="5" width="1.05" height="1.05" fill="#932667"/><rect x="2" y="5" width="1.05" height="1.05" fill="#982766"/><rect x="3" y="5" width="1.05" height="1.05" fill="#9d2964"/><rect x="4" y="5" width="1.05" height="1.05" fill="#a02a63"/><rect x="5" y="5" width="1.05" height="1.05" fill="#a52c60"/><rect x="6" y="5" width="1.05" height="1.05" fill="#a82e5f"/><rect x="7" y="5" width="1.05" height="1.05" fill="#ad305d"/><rect x="8" y="5" width="1.05" height="1.05" fill="#b1325a"/><rect x="9" y="5" width="1.05" height="1.05" fill="#b43359"/><rect x="10" y="5" width="1.05" height="1.05" fill="#b93556"/><rect x="11" y="5" width="1.05" height="1.05" fill="#bc3754"/><rect x="12" y="5" width="1.05" height="1.05" fill="#c03a51"/><rect x="13" y="5" width="1.05" height="1.05" fill="#c43c4e"/><rect x="14" y="5" width="1.05" height="1.05" fill="#c73e4c"/><rect x="15" y="5" width="1.05" height="1.05" fill="#cb4149"/><rect x="16" y="5" width="1.05" height="1.05" fill="#ce4347"/><rect x="17" y="5" width="1.05" height="1.05" fill="#d24644"/><rect x="18" y="5" width="1.05" height="1.05" fill="#d54a41"/><rect x="19" y="5" width="1.05" height="1.05" fill="#d84c3f"/>
<rect x="0" y="6" width="1.05" height="1.05" fill="#902568"/><rect x="1" y="6" width="1.05" height="1.05" fill="#932667"/><rect x="2" y="6" width="1.05" height="1.05" fill="#982766"/><rect x="3" y="6" width="1.05" height="1.05" fill="#9b2964"/><rect x="4" y="6" width="1.05" height="1.05" fill="#9f2a63"/><rect x="5" y="6" width="1.05" height="1.05" fill="#a32c61"/><rect x="6" y="6" width="1.05" height="1.05" fill="#a62d60"/><rect x="7" y="6" width="1.05" height="1.05" fill="#a92e5e"/><rect x="8" y="6" width="1.05" height="1.05" fill="#ad305d"/><rect x="9" y="6" width="1.05" height="1.05" fill="#b1325a"/><rect x="10" y="6" width="1.05" height="1.05" fill="#b43359"/><rect x="11" y="6" width="1.05" height="1.05" fill="#b73557"/><rect x="12" y="6" width="1.05" height="1.05" fill="#bc3754"/><rect x="13" y="6" width="1.05" height="1.05" fill="#bf3952"/><rect x="14" y="6" width="1.05" height="1.05" fill="#c13a50"/><rect x="15" y="6" width="1.05" height="1.05" fill="#c63d4d"/><rect x="16" y="6" width="1.05" height="1.05" fill="#c83f4b"/><rect x="17" y="6" width="1.05" height="1.05" fill="#cb4149"/><rect x="18" y="6" width="1.05" height="1.05" fill="#cf4446"/><rect x="19" y="6" width="1.05" height="1.05" fill="#d24644"/>
<rect x="0" y="7" width="1.05" height="1.05" fill="#902568"/><rect x="1" y="7" width="1.05" height="1.05" fill="#932667"/><rect x="2" y="7" width="1.05" height="1.05" fill="#972766"/><rect x="3" y="7" width="1.05" height="1.05" fill="#9a2865"/><rect x="4" y="7" width="1.05" height="1.05" fill="#9d2964"/><rect x="5" y="7" width="1.05" height="1.05" fill="#a02a63"/><rect x="6" y="7" width="1.05" height="1.05" fill="#a32c61"/><rect x="7" y="7" width="1.05" height="1.05" fill="#a62d60"/><rect x="8" y="7" width="1.05" height="1.05" fill="#a92e5e"/><rect x="9" y="7" width="1.05" height="1.05" fill="#ad305d"/><rect x="10" y="7" width="1.05" height="1.05" fill="#b0315b"/><rect x="11" y="7" width="1.05" height="1.05" fill="#b3325a"/><rect x="12" y="7" width="1.05" height="1.05" fill="#b63458"/><rect x="13" y="7" width="1.05" height="1.05" fill="#b93556"/><rect x="14" y="7" width="1.05" height="1.05" fill="#bd3853"/><rect x="15" y="7" width="1.05" height="1.05" fill="#c03a51"/><rect x="16" y="7" width="1.05" height="1.05" fill="#c33b4f"/><rect x="17" y="7" width="1.05" height="1.05" fill="#c63d4d"/><rect x="18" y="7" width="1.05" height="1.05" fill="#c83f4b"/><rect x="19" y="7" width="1.05" height="1.05" fill="#cb4149"/>
<rect x="0" y="8" width="1.05" height="1.05" fill="#902568"/><rect x="1" y="8" width="1.05" height="1.05" fill="#932667"/><rect x="2" y="8" width="1.05" height="1.05" fill="#972766"/><rect x="3" y="8" width="1.05" height="1.05" fill="#9a2865"/><rect x="4" y="8" width="1.05" height="1.05" fill="#9b2964"/><rect x="5" y="8" width="1.05" height="1.05" fill="#9f2a63"/><rect x="6" y="8" width="1.05" height="1.05" fill="#a22b62"/><rect x="7" y="8" width="1.05" height="1.05" fill="#a32c61"/><rect x="8" y="8" width="1.05" height="1.05" fill="#a62d60"/><rect x="9" y="8" width="1.05" height="1.05" fill="#a92e5e"/><rect x="10" y="8" width="1.05" height="1.05" fill="#ad305d"/><rect x="11" y="8" width="1.05" height="1.05" fill="#ae305c"/><rect x="12" y="8" width="1.05" height="1.05" fill="#b1325a"/><rect x="13" y="8" width="1.05" height="1.05" fill="#b43359"/><rect x="14" y="8" width="1.05" height="1.05" fill="#b73557"/><rect x="15" y="8" width="1.05" height="1.05" fill="#b93556"/><rect x="16" y="8" width="1.05" height="1.05" fill="#bc3754"/><rect x="17" y="8" width="1.05" height="1.05" fill="#bf3952"/><rect x="18" y="8" width="1.05" height="1.05" fill="#c13a50"/><rect x="19" y="8" width="1.05" height="1.05" fill="#c33b4f"/>
<rect x="0" y="9" width="1.05" height="1.05" fill="#922568"/><rect x="1" y="9" width="1.05" height="1.05" fill="#932667"/><rect x="2" y="9" width="1.05" height="1.05" fill="#952667"/><rect x="3" y="9" width="1.05" height="1.05" fill="#982766"/><rect x="4" y="9" width="1.05" height="1.05" fill="#9a2865"/><rect x="5" y="9" width="1.05" height="1.05" fill="#9d2964"/><rect x="6" y="9" width="1.05" height="1.05" fill="#9f2a63"/><rect x="7" y="9" width="1.05" height="1.05" fill="#a22b62"/><rect x="8" y="9" width="1.05" height="1.05" fill="#a32c61"/><rect x="9" y="9" width="1.05" height="1.05" fill="#a62d60"/><rect x="10" y="9" width="1.05" height="1.05" fill="#a82e5f"/><rect x="11" y="9" width="1.05" height="1.05" fill="#a92e5e"/><rect x="12" y="9" width="1.05" height="1.05" fill="#ad305d"/><rect x="13" y="9" width="1.05" height="1.05" fill="#ae305c"/><rect x="14" y="9" width="1.05" height="1.05" fill="#b1325a"/><rect x="15" y="9" width="1.05" height="1.05" fill="#b3325a"/><rect x="16" y="9" width="1.05" height="1.05" fill="#b63458"/><rect x="17" y="9" width="1.05" height="1.05" fill="#b73557"/><rect x="18" y="9" width="1.05" height="1.05" fill="#ba3655"/><rect x="19" y="9" width="1.05" height="1.05" fill="#bc3754"/>
<rect x="0" y="10" width="1.05" height="1.05" fill="#922568"/><rect x="1" y="10" width="1.05" height="1.05" fill="#932667"/><rect x="2" y="10" width="1.05" height="1.05" fill="#952667"/><rect x="3" y="10" width="1.05" height="1.05" fill="#972766"/><rect x="4" y="10" width="1.05" height="1.05" fill="#982766"/><rect x="5" y="10" width="1.05" height="1.05" fill="#9b2964"/><rect x="6" y="10" width="1.05" height="1.05" fill="#9d2964"/><rect x="7" y="10" width="1.05" height="1.05" fill="#9f2a63"/><rect x="8" y="10" width="1.05" height="1.05" fill="#a02a63"/><rect x="9" y="10" width="1.05" height="1.05" fill="#a22b62"/><rect x="10" y="10" width="1.05" height="1.05" fill="#a32c61"/><rect x="11" y="10" width="1.05" height="1.05" fill="#a52c60"/><rect x="12" y="10" width="1.05" height="1.05" fill="#a82e5f"/><rect x="13" y="10" width="1.05" height="1.05" fill="#a92e5e"/><rect x="14" y="10" width="1.05" height="1.05" fill="#ab2f5e"/><rect x="15" y="10" width="1.05" height="1.05" fill="#ad305d"/><rect x="16" y="10" width="1.05" height="1.05" fill="#ae305c"/><rect x="17" y="10" width="1.05" height="1.05" fill="#b0315b"/><rect x="18" y="10" width="1.05" height="1.05" fill="#b3325a"/><rect x="19" y="10" width="1.05" height="1.05" fill="#b43359"/>
<rect x="0" y="11" width="1.05" height="1.05" fill="#922568"/><rect x="1" y="11" width="1.05" height="1.05" fill="#932667"/><rect x="2" y="11" width="1.05" height="1.05" fill="#952667"/><rect x="3" y="11" width="1.05" height="1.05" fill="#972766"/><rect x="4" y="11" width="1.05" height="1.05" fill="#972766"/><rect x="5" y="11" width="1.05" height="1.05" fill="#982766"/><rect x="6" y="11" width="1.05" height="1.05" fill="#9a2865"/><rect x="7" y="11" width="1.05" height="1.05" fill="#9b2964"/><rect x="8" y="11" width="1.05" height="1.05" fill="#9d2964"/><rect x="9" y="11" width="1.05" height="1.05" fill="#9f2a63"/><rect x="10" y="11" width="1.05" height="1.05" fill="#a02a63"/><rect x="11" y="11" width="1.05" height="1.05" fill="#a02a63"/><rect x="12" y="11" width="1.05" height="1.05" fill="#a22b62"/><rect x="13" y="11" width="1.05" height="1.05" fill="#a32c61"/><rect x="14" y="11" width="1.05" height="1.05" fill="#a52c60"/><rect x="15" y="11" width="1.05" height="1.05" fill="#a62d60"/><rect x="16" y="11" width="1.05" height="1.05" fill="#a82e5f"/><rect x="17" y="11" width="1.05" height="1.05" fill="#a92e5e"/><rect x="18" y="11" width="1.05" height="1.05" fill="#ab2f5e"/><rect x="19" y="11" width="1.05" height="1.05" fill="#ab2f5e"/>
<rect x="0" y="12" width="1.05" height="1.05" fill="#922568"/><rect x="1" y="12" width="1.05" height="1.05" fill="#932667"/><rect x="2" y="12" width="1.05" height="1.05" fill="#932667"/><rect x="3" y="12" width="1.05" height="1.05" fill="#952667"/><rect x="4" y="12" width="1.05" height="1.05" fill="#952667"/><rect x="5" y="12" width="1.05" height="1.05" fill="#972766"/><rect x="6" y="12" width="1.05" height="1.05" fill="#982766"/><rect x="7" y="12" width="1.05" height="1.05" fill="#982766"/><rect x="8" y="12" width="1.05" height="1.05" fill="#9a2865"/><rect x="9" y="12" width="1.05" height="1.05" fill="#9a2865"/><rect x="10" y="12" width="1.05" height="1.05" fill="#9b2964"/><rect x="11" y="12" width="1.05" height="1.05" fill="#9b2964"/><rect x="12" y="12" width="1.05" height="1.05" fill="#9d2964"/><rect x="13" y="12" width="1.05" height="1.05" fill="#9f2a63"/><rect x="14" y="12" width="1.05" height="1.05" fill="#9f2a63"/><rect x="15" y="12" width="1.05" height="1.05" fill="#a02a63"/><rect x="16" y="12" width="1.05" height="1.05" fill="#a02a63"/><rect x="17" y="12" width="1.05" height="1.05" fill="#a22b62"/><rect x="18" y="12" width="1.05" height="1.05" fill="#a22b62"/><rect x="19" y="12" width="1.05" height="1.05" fill="#a32c61"/>
<rect x="0" y="13" width="1.05" height="1.05" fill="#922568"/><rect x="1" y="13" width="1.05" height="1.05" fill="#932667"/><rect x="2" y="13" width="1.05" height="1.05" fill="#932667"/><rect x="3" y="13" width="1.05" height="1.05" fill="#932667"/><rect x="4" y="13" width="1.05" height="1.05" fill="#932667"/><rect x="5" y="13" width="1.05" height="1.05" fill="#952667"/><rect x="6" y="13" width="1.05" height="1.05" fill="#952667"/><rect x="7" y="13" width="1.05" height="1.05" fill="#952667"/><rect x="8" y="13" width="1.05" height="1.05" fill="#972766"/><rect x="9" y="13" width="1.05" height="1.05" fill="#972766"/><rect x="10" y="13" width="1.05" height="1.05" fill="#972766"/><rect x="11" y="13" width="1.05" height="1.05" fill="#972766"/><rect x="12" y="13" width="1.05" height="1.05" fill="#982766"/><rect x="13" y="13" width="1.05" height="1.05" fill="#982766"/><rect x="14" y="13" width="1.05" height="1.05" fill="#982766"/><rect x="15" y="13" width="1.05" height="1.05" fill="#9a2865"/><rect x="16" y="13" width="1.05" height="1.05" fill="#9a2865"/><rect x="17" y="13" width="1.05" height="1.05" fill="#9a2865"/><rect x="18" y="13" width="1.05" height="1.05" fill="#9a2865"/><rect x="19" y="13" width="1.05" height="1.05" fill="#9b2964"/>
<rect x="0" y="14" width="1.05" height="1.05" fill="#932667"/><rect x="1" y="14" width="1.05" height="1.05" fill="#932667"/><rect x="2" y="14" width="1.05" height="1.05" fill="#932667"/><rect x="3" y="14" width="1.05" height="1.05" fill="#932667"/><rect x="4" y="14" width="1.05" height="1.05" fill="#932667"/><rect x="5" y="14" width="1.05" height="1.05" fill="#922568"/><rect x="6" y="14" width="1.05" height="1.05" fill="#922568"/><rect x="7" y="14" width="1.05" height="1.05" fill="#922568"/><rect x="8" y="14" width="1.05" height="1.05" fill="#922568"/><rect x="9" y="14" width="1.05" height="1.05" fill="#922568"/><rect x="10" y="14" width="1.05" height="1.05" fill="#922568"/><rect x="11" y="14" width="1.05" height="1.05" fill="#922568"/><rect x="12" y="14" width="1.05" height="1.05" fill="#922568"/><rect x="13" y="14" width="1.05" height="1.05" fill="#922568"/><rect x="14" y="14" width="1.05" height="1.05" fill="#922568"/><rect x="15" y="14" width="1.05" height="1.05" fill="#922568"/><rect x="16" y="14" width="1.05" height="1.05" fill="#922568"/><rect x="17" y="14" width="1.05" height="1.05" fill="#922568"/><rect x="18" y="14" width="1.05" height="1.05" fill="#922568"/><rect x="19" y="14" width="1.05" height="1.05" fill="#922568"/>
<rect x="0" y="15" width="1.05" height="1.05" fill="#932667"/><rect x="1" y="15" width="1.05" height="1.05" fill="#922568"/><rect x="2" y="15" width="1.05" height="1.05" fill="#922568"/><rect x="3" y="15" width="1.05" height="1.05" fill="#922568"/><rect x="4" y="15" width="1.05" height="1.05" fill="#922568"/><rect x="5" y="15" width="1.05" height="1.05" fill="#902568"/><rect x="6" y="15" width="1.05" height="1.05" fill="#902568"/><rect x="7" y="15" width="1.05" height="1.05" fill="#902568"/><rect x="8" y="15" width="1.05" height="1.05" fill="#8f2469"/><rect x="9" y="15" width="1.05" height="1.05" fill="#8f2469"/><rect x="10" y="15" width="1.05" height="1.05" fill="#8f2469"/><rect x="11" y="15" width="1.05" height="1.05" fill="#8d2369"/><rect x="12" y="15" width="1.05" height="1.05" fill="#8d2369"/><rect x="13" y="15" width="1.05" height="1.05" fill="#8d2369"/><rect x="14" y="15" width="1.05" height="1.05" fill="#8d2369"/><rect x="15" y="15" width="1.05" height="1.05" fill="#8c2369"/><rect x="16" y="15" width="1.05" height="1.05" fill="#8c2369"/><rect x="17" y="15" width="1.05" height="1.05" fill="#8c2369"/><rect x="18" y="15" width="1.05" height="1.05" fill="#8a226a"/><rect x="19" y="15" width="1.05" height="1.05" fill="#8a226a"/>
<rect x="0" y="16" width="1.05" height="1.05" fill="#932667"/><rect x="1" y="16" width="1.05" height="1.05" fill="#922568"/><rect x="2" y="16" width="1.05" height="1.05" fill="#922568"/><rect x="3" y="16" width="1.05" height="1.05" fill="#902568"/><rect x="4" y="16" width="1.05" height="1.05" fill="#902568"/><rect x="5" y="16" width="1.05" height="1.05" fill="#8f2469"/><rect x="6" y="16" width="1.05" height="1.05" fill="#8d2369"/><rect x="7" y="16" width="1.05" height="1.05" fill="#8d2369"/><rect x="8" y="16" width="1.05" height="1.05" fill="#8c2369"/><rect x="9" y="16" width="1.05" height="1.05" fill="#8c2369"/><rect x="10" y="16" width="1.05" height="1.05" fill="#8a226a"/><rect x="11" y="16" width="1.05" height="1.05" fill="#88226a"/><rect x="12" y="16" width="1.05" height="1.05" fill="#88226a"/><rect x="13" y="16" width="1.05" height="1.05" fill="#87216b"/><rect x="14" y="16" width="1.05" height="1.05" fill="#87216b"/><rect x="15" y="16" width="1.05" height="1.05" fill="#85216b"/><rect x="16" y="16" width="1.05" height="1.05" fill="#85216b"/><rect x="17" y="16" width="1.05" height="1.05" fill="#84206b"/><rect x="18" y="16" width="1.05" height="1.05" fill="#82206c"/><rect x="19" y="16" width="1.05" height="1.05" fill="#82206c"/>
<rect x="0" y="17" width="1.05" height="1.05" fill="#932667"/><rect x="1" y="17" width="1.05" height="1.05" fill="#922568"/><rect x="2" y="17" width="1.05" height="1.05" fill="#902568"/><rect x="3" y="17" width="1.05" height="1.05" fill="#902568"/><rect x="4" y="17" width="1.05" height="1.05" fill="#8f2469"/><rect x="5" y="17" width="1.05" height="1.05" fill="#8d2369"/><rect x="6" y="17" width="1.05" height="1.05" fill="#8c2369"/><rect x="7" y="17" width="1.05" height="1.05" fill="#8a226a"/><rect x="8" y="17" width="1.05" height="1.05" fill="#88226a"/><rect x="9" y="17" width="1.05" height="1.05" fill="#87216b"/><rect x="10" y="17" width="1.05" height="1.05" fill="#85216b"/><rect x="11" y="17" width="1.05" height="1.05" fill="#84206b"/><rect x="12" y="17" width="1.05" height="1.05" fill="#84206b"/><rect x="13" y="17" width="1.05" height="1.05" fill="#82206c"/><rect x="14" y="17" width="1.05" height="1.05" fill="#801f6c"/><rect x="15" y="17" width="1.05" height="1.05" fill="#7f1e6c"/><rect x="16" y="17" width="1.05" height="1.05" fill="#7d1e6d"/><rect x="17" y="17" width="1.05" height="1.05" fill="#7c1d6d"/><rect x="18" y="17" width="1.05" height="1.05" fill="#7a1d6d"/><rect x="19" y="17" width="1.05" height="1.05" fill="#781c6d"/>
<rect x="0" y="18" width="1.05" height="1.05" fill="#932667"/><rect x="1" y="18" width="1.05" height="1.05" fill="#922568"/><rect x="2" y="18" width="1.05" height="1.05" fill="#902568"/><rect x="3" y="18" width="1.05" height="1.05" fill="#8f2469"/><rect x="4" y="18" width="1.05" height="1.05" fill="#8d2369"/><rect x="5" y="18" width="1.05" height="1.05" fill="#8a226a"/><rect x="6" y="18" width="1.05" height="1.05" fill="#88226a"/><rect x="7" y="18" width="1.05" height="1.05" fill="#87216b"/><rect x="8" y="18" width="1.05" height="1.05" fill="#85216b"/><rect x="9" y="18" width="1.05" height="1.05" fill="#84206b"/><rect x="10" y="18" width="1.05" height="1.05" fill="#82206c"/><rect x="11" y="18" width="1.05" height="1.05" fill="#7f1e6c"/><rect x="12" y="18" width="1.05" height="1.05" fill="#7d1e6d"/><rect x="13" y="18" width="1.05" height="1.05" fill="#7c1d6d"/><rect x="14" y="18" width="1.05" height="1.05" fill="#7a1d6d"/><rect x="15" y="18" width="1.05" height="1.05" fill="#781c6d"/><rect x="16" y="18" width="1.05" height="1.05" fill="#771c6d"/><rect x="17" y="18" width="1.05" height="1.05" fill="#741a6e"/><rect x="18" y="18" width="1.05" height="1.05" fill="#721a6e"/><rect x="19" y="18" width="1.05" height="1.05" fill="#71196e"/>
<rect x="0" y="19" width="1.05" height="1.05" fill="#952667"/><rect x="1" y="19" width="1.05" height="1.05" fill="#922568"/><rect x="2" y="19" width="1.05" height="1.05" fill="#902568"/><rect x="3" y="19" width="1.05" height="1.05" fill="#8d2369"/><rect x="4" y="19" width="1.05" height="1.05" fill="#8c2369"/><rect x="5" y="19" width="1.05" height="1.05" fill="#88226a"/><rect x="6" y="19" width="1.05" height="1.05" fill="#87216b"/><rect x="7" y="19" width="1.05" height="1.05" fill="#84206b"/><rect x="8" y="19" width="1.05" height="1.05" fill="#82206c"/><rect x="9" y="19" width="1.05" height="1.05" fill="#7f1e6c"/><rect x="10" y="19" width="1.05" height="1.05" fill="#7d1e6d"/><rect x="11" y="19" width="1.05" height="1.05" fill="#7a1d6d"/><rect x="12" y="19" width="1.05" height="1.05" fill="#781c6d"/><rect x="13" y="19" width="1.05" height="1.05" fill="#771c6d"/><rect x="14" y="19" width="1.05" height="1.05" fill="#741a6e"/><rect x="15" y="19" width="1.05" height="1.05" fill="#721a6e"/><rect x="16" y="19" width="1.05" height="1.05" fill="#6f196e"/><rect x="17" y="19" width="1.05" height="1.05" fill="#6d186e"/><rect x="18" y="19" width="1.05" height="1.05" fill="#6a176e"/><rect x="19" y="19" width="1.05" height="1.05" fill="#69166e"/>
</svg>
<svg class="h" x="517.00" y="669.20" width="408.40" height="282.60" viewBox="0.0411 0.0567 19.9373 19.8867" preserveAspectRatio="none" shape-rendering="crispEdges">
<rect x="-1" y="-1" width="23" height="23" fill="#c83f4b"/>
<rect x="0" y="0" width="1.05" height="1.05" fill="#c43c4e"/><rect x="1" y="0" width="1.05" height="1.05" fill="#c63d4d"/><rect x="2" y="0" width="1.05" height="1.05" fill="#c73e4c"/><rect x="3" y="0" width="1.05" height="1.05" fill="#c83f4b"/><rect x="4" y="0" width="1.05" height="1.05" fill="#c83f4b"/><rect x="5" y="0" width="1.05" height="1.05" fill="#ca404a"/><rect x="6" y="0" width="1.05" height="1.05" fill="#cb4149"/><rect x="7" y="0" width="1.05" height="1.05" fill="#cc4248"/><rect x="8" y="0" width="1.05" height="1.05" fill="#ce4347"/><rect x="9" y="0" width="1.05" height="1.05" fill="#cf4446"/><rect x="10" y="0" width="1.05" height="1.05" fill="#d04545"/><rect x="11" y="0" width="1.05" height="1.05" fill="#d24644"/><rect x="12" y="0" width="1.05" height="1.05" fill="#d34743"/><rect x="13" y="0" width="1.05" height="1.05" fill="#d44842"/><rect x="14" y="0" width="1.05" height="1.05" fill="#d54a41"/><rect x="15" y="0" width="1.05" height="1.05" fill="#d74b3f"/><rect x="16" y="0" width="1.05" height="1.05" fill="#d84c3f"/><rect x="17" y="0" width="1.05" height="1.05" fill="#d94d3e"/><rect x="18" y="0" width="1.05" height="1.05" fill="#da4f3d"/><rect x="19" y="0" width="1.05" height="1.05" fill="#db503d"/>
<rect x="0" y="1" width="1.05" height="1.05" fill="#c33b4f"/><rect x="1" y="1" width="1.05" height="1.05" fill="#c43c4e"/><rect x="2" y="1" width="1.05" height="1.05" fill="#c63d4d"/><rect x="3" y="1" width="1.05" height="1.05" fill="#c73e4c"/><rect x="4" y="1" width="1.05" height="1.05" fill="#c83f4b"/><rect x="5" y="1" width="1.05" height="1.05" fill="#ca404a"/><rect x="6" y="1" width="1.05" height="1.05" fill="#cb4149"/><rect x="7" y="1" width="1.05" height="1.05" fill="#cc4248"/><rect x="8" y="1" width="1.05" height="1.05" fill="#ce4347"/><rect x="9" y="1" width="1.05" height="1.05" fill="#cf4446"/><rect x="10" y="1" width="1.05" height="1.05" fill="#d04545"/><rect x="11" y="1" width="1.05" height="1.05" fill="#d24644"/><rect x="12" y="1" width="1.05" height="1.05" fill="#d24644"/><rect x="13" y="1" width="1.05" height="1.05" fill="#d34743"/><rect x="14" y="1" width="1.05" height="1.05" fill="#d44842"/><rect x="15" y="1" width="1.05" height="1.05" fill="#d54a41"/><rect x="16" y="1" width="1.05" height="1.05" fill="#d74b40"/><rect x="17" y="1" width="1.05" height="1.05" fill="#d84c3f"/><rect x="18" y="1" width="1.05" height="1.05" fill="#d94e3e"/><rect x="19" y="1" width="1.05" height="1.05" fill="#da4f3e"/>
<rect x="0" y="2" width="1.05" height="1.05" fill="#c33b4f"/><rect x="1" y="2" width="1.05" height="1.05" fill="#c43c4e"/><rect x="2" y="2" width="1.05" height="1.05" fill="#c63d4d"/><rect x="3" y="2" width="1.05" height="1.05" fill="#c63d4d"/><rect x="4" y="2" width="1.05" height="1.05" fill="#c73e4c"/><rect x="5" y="2" width="1.05" height="1.05" fill="#c83f4b"/><rect x="6" y="2" width="1.05" height="1.05" fill="#ca404a"/><rect x="7" y="2" width="1.05" height="1.05" fill="#cb4149"/><rect x="8" y="2" width="1.05" height="1.05" fill="#cc4248"/><rect x="9" y="2" width="1.05" height="1.05" fill="#ce4347"/><rect x="10" y="2" width="1.05" height="1.05" fill="#cf4446"/><rect x="11" y="2" width="1.05" height="1.05" fill="#d04545"/><rect x="12" y="2" width="1.05" height="1.05" fill="#d24644"/><rect x="13" y="2" width="1.05" height="1.05" fill="#d34743"/><rect x="14" y="2" width="1.05" height="1.05" fill="#d44842"/><rect x="15" y="2" width="1.05" height="1.05" fill="#d54a41"/><rect x="16" y="2" width="1.05" height="1.05" fill="#d74b3f"/><rect x="17" y="2" width="1.05" height="1.05" fill="#d84c3f"/><rect x="18" y="2" width="1.05" height="1.05" fill="#d84c3f"/><rect x="19" y="2" width="1.05" height="1.05" fill="#d94e3e"/>
<rect x="0" y="3" width="1.05" height="1.05" fill="#c13a50"/><rect x="1" y="3" width="1.05" height="1.05" fill="#c33b4f"/><rect x="2" y="3" width="1.05" height="1.05" fill="#c43c4e"/><rect x="3" y="3" width="1.05" height="1.05" fill="#c63d4d"/><rect x="4" y="3" width="1.05" height="1.05" fill="#c73e4c"/><rect x="5" y="3" width="1.05" height="1.05" fill="#c83f4b"/><rect x="6" y="3" width="1.05" height="1.05" fill="#ca404a"/><rect x="7" y="3" width="1.05" height="1.05" fill="#cb4149"/><rect x="8" y="3" width="1.05" height="1.05" fill="#cc4248"/><rect x="9" y="3" width="1.05" height="1.05" fill="#cc4248"/><rect x="10" y="3" width="1.05" height="1.05" fill="#ce4347"/><rect x="11" y="3" width="1.05" height="1.05" fill="#cf4446"/><rect x="12" y="3" width="1.05" height="1.05" fill="#d04545"/><rect x="13" y="3" width="1.05" height="1.05" fill="#d24644"/><rect x="14" y="3" width="1.05" height="1.05" fill="#d34743"/><rect x="15" y="3" width="1.05" height="1.05" fill="#d44842"/><rect x="16" y="3" width="1.05" height="1.05" fill="#d54a41"/><rect x="17" y="3" width="1.05" height="1.05" fill="#d74b3f"/><rect x="18" y="3" width="1.05" height="1.05" fill="#d84c3f"/><rect x="19" y="3" width="1.05" height="1.05" fill="#d94e3e"/>
<rect x="0" y="4" width="1.05" height="1.05" fill="#c13a50"/><rect x="1" y="4" width="1.05" height="1.05" fill="#c13a50"/><rect x="2" y="4" width="1.05" height="1.05" fill="#c33b4f"/><rect x="3" y="4" width="1.05" height="1.05" fill="#c43c4e"/><rect x="4" y="4" width="1.05" height="1.05" fill="#c63d4d"/><rect x="5" y="4" width="1.05" height="1.05" fill="#c73e4c"/><rect x="6" y="4" width="1.05" height="1.05" fill="#c83f4b"/><rect x="7" y="4" width="1.05" height="1.05" fill="#ca404a"/><rect x="8" y="4" width="1.05" height="1.05" fill="#cb4149"/><rect x="9" y="4" width="1.05" height="1.05" fill="#cc4248"/><rect x="10" y="4" width="1.05" height="1.05" fill="#ce4347"/><rect x="11" y="4" width="1.05" height="1.05" fill="#cf4446"/><rect x="12" y="4" width="1.05" height="1.05" fill="#d04545"/><rect x="13" y="4" width="1.05" height="1.05" fill="#d24644"/><rect x="14" y="4" width="1.05" height="1.05" fill="#d34743"/><rect x="15" y="4" width="1.05" height="1.05" fill="#d34743"/><rect x="16" y="4" width="1.05" height="1.05" fill="#d44842"/><rect x="17" y="4" width="1.05" height="1.05" fill="#d54a41"/><rect x="18" y="4" width="1.05" height="1.05" fill="#d74b40"/><rect x="19" y="4" width="1.05" height="1.05" fill="#d84c3f"/>
<rect x="0" y="5" width="1.05" height="1.05" fill="#c03a51"/><rect x="1" y="5" width="1.05" height="1.05" fill="#c13a50"/><rect x="2" y="5" width="1.05" height="1.05" fill="#c33b4f"/><rect x="3" y="5" width="1.05" height="1.05" fill="#c43c4e"/><rect x="4" y="5" width="1.05" height="1.05" fill="#c63d4d"/><rect x="5" y="5" width="1.05" height="1.05" fill="#c73e4c"/><rect x="6" y="5" width="1.05" height="1.05" fill="#c83f4b"/><rect x="7" y="5" width="1.05" height="1.05" fill="#c83f4b"/><rect x="8" y="5" width="1.05" height="1.05" fill="#ca404a"/><rect x="9" y="5" width="1.05" height="1.05" fill="#cb4149"/><rect x="10" y="5" width="1.05" height="1.05" fill="#cc4248"/><rect x="11" y="5" width="1.05" height="1.05" fill="#ce4347"/><rect x="12" y="5" width="1.05" height="1.05" fill="#cf4446"/><rect x="13" y="5" width="1.05" height="1.05" fill="#d04545"/><rect x="14" y="5" width="1.05" height="1.05" fill="#d24644"/><rect x="15" y="5" width="1.05" height="1.05" fill="#d34743"/><rect x="16" y="5" width="1.05" height="1.05" fill="#d44842"/><rect x="17" y="5" width="1.05" height="1.05" fill="#d54a41"/><rect x="18" y="5" width="1.05" height="1.05" fill="#d74b3f"/><rect x="19" y="5" width="1.05" height="1.05" fill="#d84c3f"/>
<rect x="0" y="6" width="1.05" height="1.05" fill="#bf3952"/><rect x="1" y="6" width="1.05" height="1.05" fill="#c03a51"/><rect x="2" y="6" width="1.05" height="1.05" fill="#c13a50"/><rect x="3" y="6" width="1.05" height="1.05" fill="#c33b4f"/><rect x="4" y="6" width="1.05" height="1.05" fill="#c43c4e"/><rect x="5" y="6" width="1.05" height="1.05" fill="#c63d4d"/><rect x="6" y="6" width="1.05" height="1.05" fill="#c73e4c"/><rect x="7" y="6" width="1.05" height="1.05" fill="#c83f4b"/><rect x="8" y="6" width="1.05" height="1.05" fill="#ca404a"/><rect x="9" y="6" width="1.05" height="1.05" fill="#cb4149"/><rect x="10" y="6" width="1.05" height="1.05" fill="#cc4248"/><rect x="11" y="6" width="1.05" height="1.05" fill="#ce4347"/><rect x="12" y="6" width="1.05" height="1.05" fill="#cf4446"/><rect x="13" y="6" width="1.05" height="1.05" fill="#cf4446"/><rect x="14" y="6" width="1.05" height="1.05" fill="#d04545"/><rect x="15" y="6" width="1.05" height="1.05" fill="#d24644"/><rect x="16" y="6" width="1.05" height="1.05" fill="#d34743"/><rect x="17" y="6" width="1.05" height="1.05" fill="#d44842"/><rect x="18" y="6" width="1.05" height="1.05" fill="#d54a41"/><rect x="19" y="6" width="1.05" height="1.05" fill="#d74b3f"/>
<rect x="0" y="7" width="1.05" height="1.05" fill="#bf3952"/><rect x="1" y="7" width="1.05" height="1.05" fill="#c03a51"/><rect x="2" y="7" width="1.05" height="1.05" fill="#c13a50"/><rect x="3" y="7" width="1.05" height="1.05" fill="#c33b4f"/><rect x="4" y="7" width="1.05" height="1.05" fill="#c43c4e"/><rect x="5" y="7" width="1.05" height="1.05" fill="#c63d4d"/><rect x="6" y="7" width="1.05" height="1.05" fill="#c63d4d"/><rect x="7" y="7" width="1.05" height="1.05" fill="#c73e4c"/><rect x="8" y="7" width="1.05" height="1.05" fill="#c83f4b"/><rect x="9" y="7" width="1.05" height="1.05" fill="#ca404a"/><rect x="10" y="7" width="1.05" height="1.05" fill="#cb4149"/><rect x="11" y="7" width="1.05" height="1.05" fill="#cc4248"/><rect x="12" y="7" width="1.05" height="1.05" fill="#ce4347"/><rect x="13" y="7" width="1.05" height="1.05" fill="#cf4446"/><rect x="14" y="7" width="1.05" height="1.05" fill="#d04545"/><rect x="15" y="7" width="1.05" height="1.05" fill="#d24644"/><rect x="16" y="7" width="1.05" height="1.05" fill="#d34743"/><rect x="17" y="7" width="1.05" height="1.05" fill="#d44842"/><rect x="18" y="7" width="1.05" height="1.05" fill="#d44842"/><rect x="19" y="7" width="1.05" height="1.05" fill="#d54a41"/>
<rect x="0" y="8" width="1.05" height="1.05" fill="#bd3853"/><rect x="1" y="8" width="1.05" height="1.05" fill="#bf3952"/><rect x="2" y="8" width="1.05" height="1.05" fill="#c03a51"/><rect x="3" y="8" width="1.05" height="1.05" fill="#c13a50"/><rect x="4" y="8" width="1.05" height="1.05" fill="#c33b4f"/><rect x="5" y="8" width="1.05" height="1.05" fill="#c43c4e"/><rect x="6" y="8" width="1.05" height="1.05" fill="#c63d4d"/><rect x="7" y="8" width="1.05" height="1.05" fill="#c73e4c"/><rect x="8" y="8" width="1.05" height="1.05" fill="#c83f4b"/><rect x="9" y="8" width="1.05" height="1.05" fill="#ca404a"/><rect x="10" y="8" width="1.05" height="1.05" fill="#cb4149"/><rect x="11" y="8" width="1.05" height="1.05" fill="#cb4149"/><rect x="12" y="8" width="1.05" height="1.05" fill="#cc4248"/><rect x="13" y="8" width="1.05" height="1.05" fill="#ce4347"/><rect x="14" y="8" width="1.05" height="1.05" fill="#cf4446"/><rect x="15" y="8" width="1.05" height="1.05" fill="#d04545"/><rect x="16" y="8" width="1.05" height="1.05" fill="#d24644"/><rect x="17" y="8" width="1.05" height="1.05" fill="#d34743"/><rect x="18" y="8" width="1.05" height="1.05" fill="#d44842"/><rect x="19" y="8" width="1.05" height="1.05" fill="#d54a41"/>
<rect x="0" y="9" width="1.05" height="1.05" fill="#bd3853"/><rect x="1" y="9" width="1.05" height="1.05" fill="#bf3952"/><rect x="2" y="9" width="1.05" height="1.05" fill="#c03a51"/><rect x="3" y="9" width="1.05" height="1.05" fill="#c13a50"/><rect x="4" y="9" width="1.05" height="1.05" fill="#c33b4f"/><rect x="5" y="9" width="1.05" height="1.05" fill="#c33b4f"/><rect x="6" y="9" width="1.05" height="1.05" fill="#c43c4e"/><rect x="7" y="9" width="1.05" height="1.05" fill="#c63d4d"/><rect x="8" y="9" width="1.05" height="1.05" fill="#c73e4c"/><rect x="9" y="9" width="1.05" height="1.05" fill="#c83f4b"/><rect x="10" y="9" width="1.05" height="1.05" fill="#ca404a"/><rect x="11" y="9" width="1.05" height="1.05" fill="#cb4149"/><rect x="12" y="9" width="1.05" height="1.05" fill="#cc4248"/><rect x="13" y="9" width="1.05" height="1.05" fill="#ce4347"/><rect x="14" y="9" width="1.05" height="1.05" fill="#cf4446"/><rect x="15" y="9" width="1.05" height="1.05" fill="#d04545"/><rect x="16" y="9" width="1.05" height="1.05" fill="#d04545"/><rect x="17" y="9" width="1.05" height="1.05" fill="#d24644"/><rect x="18" y="9" width="1.05" height="1.05" fill="#d34743"/><rect x="19" y="9" width="1.05" height="1.05" fill="#d44842"/>
<rect x="0" y="10" width="1.05" height="1.05" fill="#bc3754"/><rect x="1" y="10" width="1.05" height="1.05" fill="#bd3853"/><rect x="2" y="10" width="1.05" height="1.05" fill="#bf3952"/><rect x="3" y="10" width="1.05" height="1.05" fill="#c03a51"/><rect x="4" y="10" width="1.05" height="1.05" fill="#c13a50"/><rect x="5" y="10" width="1.05" height="1.05" fill="#c33b4f"/><rect x="6" y="10" width="1.05" height="1.05" fill="#c43c4e"/><rect x="7" y="10" width="1.05" height="1.05" fill="#c63d4d"/><rect x="8" y="10" width="1.05" height="1.05" fill="#c73e4c"/><rect x="9" y="10" width="1.05" height="1.05" fill="#c73e4c"/><rect x="10" y="10" width="1.05" height="1.05" fill="#c83f4b"/><rect x="11" y="10" width="1.05" height="1.05" fill="#ca404a"/><rect x="12" y="10" width="1.05" height="1.05" fill="#cb4149"/><rect x="13" y="10" width="1.05" height="1.05" fill="#cc4248"/><rect x="14" y="10" width="1.05" height="1.05" fill="#ce4347"/><rect x="15" y="10" width="1.05" height="1.05" fill="#cf4446"/><rect x="16" y="10" width="1.05" height="1.05" fill="#d04545"/><rect x="17" y="10" width="1.05" height="1.05" fill="#d24644"/><rect x="18" y="10" width="1.05" height="1.05" fill="#d34743"/><rect x="19" y="10" width="1.05" height="1.05" fill="#d44842"/>
<rect x="0" y="11" width="1.05" height="1.05" fill="#bc3754"/><rect x="1" y="11" width="1.05" height="1.05" fill="#bd3853"/><rect x="2" y="11" width="1.05" height="1.05" fill="#bf3952"/><rect x="3" y="11" width="1.05" height="1.05" fill="#bf3952"/><rect x="4" y="11" width="1.05" height="1.05" fill="#c03a51"/><rect x="5" y="11" width="1.05" height="1.05" fill="#c13a50"/><rect x="6" y="11" width="1.05" height="1.05" fill="#c33b4f"/><rect x="7" y="11" width="1.05" height="1.05" fill="#c43c4e"/><rect x="8" y="11" width="1.05" height="1.05" fill="#c63d4d"/><rect x="9" y="11" width="1.05" height="1.05" fill="#c73e4c"/><rect x="10" y="11" width="1.05" height="1.05" fill="#c83f4b"/><rect x="11" y="11" width="1.05" height="1.05" fill="#ca404a"/><rect x="12" y="11" width="1.05" height="1.05" fill="#cb4149"/><rect x="13" y="11" width="1.05" height="1.05" fill="#cc4248"/><rect x="14" y="11" width="1.05" height="1.05" fill="#cc4248"/><rect x="15" y="11" width="1.05" height="1.05" fill="#ce4347"/><rect x="16" y="11" width="1.05" height="1.05" fill="#cf4446"/><rect x="17" y="11" width="1.05" height="1.05" fill="#d04545"/><rect x="18" y="11" width="1.05" height="1.05" fill="#d24644"/><rect x="19" y="11" width="1.05" height="1.05" fill="#d34743"/>
<rect x="0" y="12" width="1.05" height="1.05" fill="#ba3655"/><rect x="1" y="12" width="1.05" height="1.05" fill="#bc3754"/><rect x="2" y="12" width="1.05" height="1.05" fill="#bd3853"/><rect x="3" y="12" width="1.05" height="1.05" fill="#bf3952"/><rect x="4" y="12" width="1.05" height="1.05" fill="#c03a51"/><rect x="5" y="12" width="1.05" height="1.05" fill="#c13a50"/><rect x="6" y="12" width="1.05" height="1.05" fill="#c33b4f"/><rect x="7" y="12" width="1.05" height="1.05" fill="#c43c4e"/><rect x="8" y="12" width="1.05" height="1.05" fill="#c43c4e"/><rect x="9" y="12" width="1.05" height="1.05" fill="#c63d4d"/><rect x="10" y="12" width="1.05" height="1.05" fill="#c73e4c"/><rect x="11" y="12" width="1.05" height="1.05" fill="#c83f4b"/><rect x="12" y="12" width="1.05" height="1.05" fill="#ca404a"/><rect x="13" y="12" width="1.05" height="1.05" fill="#cb4149"/><rect x="14" y="12" width="1.05" height="1.05" fill="#cc4248"/><rect x="15" y="12" width="1.05" height="1.05" fill="#ce4347"/><rect x="16" y="12" width="1.05" height="1.05" fill="#cf4446"/><rect x="17" y="12" width="1.05" height="1.05" fill="#d04545"/><rect x="18" y="12" width="1.05" height="1.05" fill="#d04545"/><rect x="19" y="12" width="1.05" height="1.05" fill="#d24644"/>
<rect x="0" y="13" width="1.05" height="1.05" fill="#ba3655"/><rect x="1" y="13" width="1.05" height="1.05" fill="#bc3754"/><rect x="2" y="13" width="1.05" height="1.05" fill="#bc3754"/><rect x="3" y="13" width="1.05" height="1.05" fill="#bd3853"/><rect x="4" y="13" width="1.05" height="1.05" fill="#bf3952"/><rect x="5" y="13" width="1.05" height="1.05" fill="#c03a51"/><rect x="6" y="13" width="1.05" height="1.05" fill="#c13a50"/><rect x="7" y="13" width="1.05" height="1.05" fill="#c33b4f"/><rect x="8" y="13" width="1.05" height="1.05" fill="#c43c4e"/><rect x="9" y="13" width="1.05" height="1.05" fill="#c63d4d"/><rect x="10" y="13" width="1.05" height="1.05" fill="#c73e4c"/><rect x="11" y="13" width="1.05" height="1.05" fill="#c83f4b"/><rect x="12" y="13" width="1.05" height="1.05" fill="#c83f4b"/><rect x="13" y="13" width="1.05" height="1.05" fill="#ca404a"/><rect x="14" y="13" width="1.05" height="1.05" fill="#cb4149"/><rect x="15" y="13" width="1.05" height="1.05" fill="#cc4248"/><rect x="16" y="13" width="1.05" height="1.05" fill="#ce4347"/><rect x="17" y="13" width="1.05" height="1.05" fill="#cf4446"/><rect x="18" y="13" width="1.05" height="1.05" fill="#d04545"/><rect x="19" y="13" width="1.05" height="1.05" fill="#d24644"/>
<rect x="0" y="14" width="1.05" height="1.05" fill="#b93556"/><rect x="1" y="14" width="1.05" height="1.05" fill="#ba3655"/><rect x="2" y="14" width="1.05" height="1.05" fill="#bc3754"/><rect x="3" y="14" width="1.05" height="1.05" fill="#bd3853"/><rect x="4" y="14" width="1.05" height="1.05" fill="#bf3952"/><rect x="5" y="14" width="1.05" height="1.05" fill="#c03a51"/><rect x="6" y="14" width="1.05" height="1.05" fill="#c13a50"/><rect x="7" y="14" width="1.05" height="1.05" fill="#c13a50"/><rect x="8" y="14" width="1.05" height="1.05" fill="#c33b4f"/><rect x="9" y="14" width="1.05" height="1.05" fill="#c43c4e"/><rect x="10" y="14" width="1.05" height="1.05" fill="#c63d4d"/><rect x="11" y="14" width="1.05" height="1.05" fill="#c73e4c"/><rect x="12" y="14" width="1.05" height="1.05" fill="#c83f4b"/><rect x="13" y="14" width="1.05" height="1.05" fill="#ca404a"/><rect x="14" y="14" width="1.05" height="1.05" fill="#cb4149"/><rect x="15" y="14" width="1.05" height="1.05" fill="#cc4248"/><rect x="16" y="14" width="1.05" height="1.05" fill="#cc4248"/><rect x="17" y="14" width="1.05" height="1.05" fill="#ce4347"/><rect x="18" y="14" width="1.05" height="1.05" fill="#cf4446"/><rect x="19" y="14" width="1.05" height="1.05" fill="#d04545"/>
<rect x="0" y="15" width="1.05" height="1.05" fill="#b93556"/><rect x="1" y="15" width="1.05" height="1.05" fill="#ba3655"/><rect x="2" y="15" width="1.05" height="1.05" fill="#ba3655"/><rect x="3" y="15" width="1.05" height="1.05" fill="#bc3754"/><rect x="4" y="15" width="1.05" height="1.05" fill="#bd3853"/><rect x="5" y="15" width="1.05" height="1.05" fill="#bf3952"/><rect x="6" y="15" width="1.05" height="1.05" fill="#c03a51"/><rect x="7" y="15" width="1.05" height="1.05" fill="#c13a50"/><rect x="8" y="15" width="1.05" height="1.05" fill="#c33b4f"/><rect x="9" y="15" width="1.05" height="1.05" fill="#c43c4e"/><rect x="10" y="15" width="1.05" height="1.05" fill="#c63d4d"/><rect x="11" y="15" width="1.05" height="1.05" fill="#c63d4d"/><rect x="12" y="15" width="1.05" height="1.05" fill="#c73e4c"/><rect x="13" y="15" width="1.05" height="1.05" fill="#c83f4b"/><rect x="14" y="15" width="1.05" height="1.05" fill="#ca404a"/><rect x="15" y="15" width="1.05" height="1.05" fill="#cb4149"/><rect x="16" y="15" width="1.05" height="1.05" fill="#cc4248"/><rect x="17" y="15" width="1.05" height="1.05" fill="#ce4347"/><rect x="18" y="15" width="1.05" height="1.05" fill="#cf4446"/><rect x="19" y="15" width="1.05" height="1.05" fill="#d04545"/>
<rect x="0" y="16" width="1.05" height="1.05" fill="#b73557"/><rect x="1" y="16" width="1.05" height="1.05" fill="#b93556"/><rect x="2" y="16" width="1.05" height="1.05" fill="#ba3655"/><rect x="3" y="16" width="1.05" height="1.05" fill="#bc3754"/><rect x="4" y="16" width="1.05" height="1.05" fill="#bd3853"/><rect x="5" y="16" width="1.05" height="1.05" fill="#bf3952"/><rect x="6" y="16" width="1.05" height="1.05" fill="#bf3952"/><rect x="7" y="16" width="1.05" height="1.05" fill="#c03a51"/><rect x="8" y="16" width="1.05" height="1.05" fill="#c13a50"/><rect x="9" y="16" width="1.05" height="1.05" fill="#c33b4f"/><rect x="10" y="16" width="1.05" height="1.05" fill="#c43c4e"/><rect x="11" y="16" width="1.05" height="1.05" fill="#c63d4d"/><rect x="12" y="16" width="1.05" height="1.05" fill="#c73e4c"/><rect x="13" y="16" width="1.05" height="1.05" fill="#c83f4b"/><rect x="14" y="16" width="1.05" height="1.05" fill="#c83f4b"/><rect x="15" y="16" width="1.05" height="1.05" fill="#ca404a"/><rect x="16" y="16" width="1.05" height="1.05" fill="#cb4149"/><rect x="17" y="16" width="1.05" height="1.05" fill="#cc4248"/><rect x="18" y="16" width="1.05" height="1.05" fill="#ce4347"/><rect x="19" y="16" width="1.05" height="1.05" fill="#cf4446"/>
<rect x="0" y="17" width="1.05" height="1.05" fill="#b73557"/><rect x="1" y="17" width="1.05" height="1.05" fill="#b73557"/><rect x="2" y="17" width="1.05" height="1.05" fill="#b93556"/><rect x="3" y="17" width="1.05" height="1.05" fill="#ba3655"/><rect x="4" y="17" width="1.05" height="1.05" fill="#bc3754"/><rect x="5" y="17" width="1.05" height="1.05" fill="#bd3853"/><rect x="6" y="17" width="1.05" height="1.05" fill="#bf3952"/><rect x="7" y="17" width="1.05" height="1.05" fill="#c03a51"/><rect x="8" y="17" width="1.05" height="1.05" fill="#c13a50"/><rect x="9" y="17" width="1.05" height="1.05" fill="#c13a50"/><rect x="10" y="17" width="1.05" height="1.05" fill="#c33b4f"/><rect x="11" y="17" width="1.05" height="1.05" fill="#c43c4e"/><rect x="12" y="17" width="1.05" height="1.05" fill="#c63d4d"/><rect x="13" y="17" width="1.05" height="1.05" fill="#c73e4c"/><rect x="14" y="17" width="1.05" height="1.05" fill="#c83f4b"/><rect x="15" y="17" width="1.05" height="1.05" fill="#ca404a"/><rect x="16" y="17" width="1.05" height="1.05" fill="#cb4149"/><rect x="17" y="17" width="1.05" height="1.05" fill="#cc4248"/><rect x="18" y="17" width="1.05" height="1.05" fill="#cc4248"/><rect x="19" y="17" width="1.05" height="1.05" fill="#ce4347"/>
<rect x="0" y="18" width="1.05" height="1.05" fill="#b63458"/><rect x="1" y="18" width="1.05" height="1.05" fill="#b73557"/><rect x="2" y="18" width="1.05" height="1.05" fill="#b93556"/><rect x="3" y="18" width="1.05" height="1.05" fill="#ba3655"/><rect x="4" y="18" width="1.05" height="1.05" fill="#bc3754"/><rect x="5" y="18" width="1.05" height="1.05" fill="#bc3754"/><rect x="6" y="18" width="1.05" height="1.05" fill="#bd3853"/><rect x="7" y="18" width="1.05" height="1.05" fill="#bf3952"/><rect x="8" y="18" width="1.05" height="1.05" fill="#c03a51"/><rect x="9" y="18" width="1.05" height="1.05" fill="#c13a50"/><rect x="10" y="18" width="1.05" height="1.05" fill="#c33b4f"/><rect x="11" y="18" width="1.05" height="1.05" fill="#c43c4e"/><rect x="12" y="18" width="1.05" height="1.05" fill="#c63d4d"/><rect x="13" y="18" width="1.05" height="1.05" fill="#c63d4d"/><rect x="14" y="18" width="1.05" height="1.05" fill="#c73e4c"/><rect x="15" y="18" width="1.05" height="1.05" fill="#c83f4b"/><rect x="16" y="18" width="1.05" height="1.05" fill="#ca404a"/><rect x="17" y="18" width="1.05" height="1.05" fill="#cb4149"/><rect x="18" y="18" width="1.05" height="1.05" fill="#cc4248"/><rect x="19" y="18" width="1.05" height="1.05" fill="#ce4347"/>
<rect x="0" y="19" width="1.05" height="1.05" fill="#b43359"/><rect x="1" y="19" width="1.05" height="1.05" fill="#b63458"/><rect x="2" y="19" width="1.05" height="1.05" fill="#b73557"/><rect x="3" y="19" width="1.05" height="1.05" fill="#b93556"/><rect x="4" y="19" width="1.05" height="1.05" fill="#ba3655"/><rect x="5" y="19" width="1.05" height="1.05" fill="#bc3754"/><rect x="6" y="19" width="1.05" height="1.05" fill="#bd3853"/><rect x="7" y="19" width="1.05" height="1.05" fill="#bf3952"/><rect x="8" y="19" width="1.05" height="1.05" fill="#bf3952"/><rect x="9" y="19" width="1.05" height="1.05" fill="#c03a51"/><rect x="10" y="19" width="1.05" height="1.05" fill="#c13a50"/><rect x="11" y="19" width="1.05" height="1.05" fill="#c33b4f"/><rect x="12" y="19" width="1.05" height="1.05" fill="#c43c4e"/><rect x="13" y="19" width="1.05" height="1.05" fill="#c63d4d"/><rect x="14" y="19" width="1.05" height="1.05" fill="#c73e4c"/><rect x="15" y="19" width="1.05" height="1.05" fill="#c83f4b"/><rect x="16" y="19" width="1.05" height="1.05" fill="#c83f4b"/><rect x="17" y="19" width="1.05" height="1.05" fill="#ca404a"/><rect x="18" y="19" width="1.05" height="1.05" fill="#cb4149"/><rect x="19" y="19" width="1.05" height="1.05" fill="#cc4248"/>
</svg>
<svg class="h" x="945.50" y="669.20" width="408.70" height="282.60" viewBox="0.0411 0.0567 19.9520 19.8867" preserveAspectRatio="none" shape-rendering="crispEdges">
<rect x="-1" y="-1" width="23" height="23" fill="#e25f37"/>
<rect x="0" y="0" width="1.05" height="1.05" fill="#eb702e"/><rect x="1" y="0" width="1.05" height="1.05" fill="#e96c30"/><rect x="2" y="0" width="1.05" height="1.05" fill="#e76733"/><rect x="3" y="0" width="1.05" height="1.05" fill="#e46335"/><rect x="4" y="0" width="1.05" height="1.05" fill="#e36036"/><rect x="5" y="0" width="1.05" height="1.05" fill="#e15b38"/><rect x="6" y="0" width="1.05" height="1.05" fill="#de573a"/><rect x="7" y="0" width="1.05" height="1.05" fill="#db523c"/><rect x="8" y="0" width="1.05" height="1.05" fill="#d94e3e"/><rect x="9" y="0" width="1.05" height="1.05" fill="#d74b3f"/><rect x="10" y="0" width="1.05" height="1.05" fill="#d44842"/><rect x="11" y="0" width="1.05" height="1.05" fill="#d04545"/><rect x="12" y="0" width="1.05" height="1.05" fill="#ce4347"/><rect x="13" y="0" width="1.05" height="1.05" fill="#ca404a"/><rect x="14" y="0" width="1.05" height="1.05" fill="#c73e4c"/><rect x="15" y="0" width="1.05" height="1.05" fill="#c33b4f"/><rect x="16" y="0" width="1.05" height="1.05" fill="#c03a51"/><rect x="17" y="0" width="1.05" height="1.05" fill="#bc3754"/><rect x="18" y="0" width="1.05" height="1.05" fill="#b93556"/><rect x="19" y="0" width="1.05" height="1.05" fill="#b43359"/>
<rect x="0" y="1" width="1.05" height="1.05" fill="#e96d30"/><rect x="1" y="1" width="1.05" height="1.05" fill="#e86a31"/><rect x="2" y="1" width="1.05" height="1.05" fill="#e66634"/><rect x="3" y="1" width="1.05" height="1.05" fill="#e46335"/><rect x="4" y="1" width="1.05" height="1.05" fill="#e25e37"/><rect x="5" y="1" width="1.05" height="1.05" fill="#e15b38"/><rect x="6" y="1" width="1.05" height="1.05" fill="#de573b"/><rect x="7" y="1" width="1.05" height="1.05" fill="#dc533c"/><rect x="8" y="1" width="1.05" height="1.05" fill="#d94f3e"/><rect x="9" y="1" width="1.05" height="1.05" fill="#d84c3f"/><rect x="10" y="1" width="1.05" height="1.05" fill="#d54a41"/><rect x="11" y="1" width="1.05" height="1.05" fill="#d34743"/><rect x="12" y="1" width="1.05" height="1.05" fill="#d04545"/><rect x="13" y="1" width="1.05" height="1.05" fill="#cc4248"/><rect x="14" y="1" width="1.05" height="1.05" fill="#ca404a"/><rect x="15" y="1" width="1.05" height="1.05" fill="#c73e4c"/><rect x="16" y="1" width="1.05" height="1.05" fill="#c43c4e"/><rect x="17" y="1" width="1.05" height="1.05" fill="#c13a50"/><rect x="18" y="1" width="1.05" height="1.05" fill="#bf3952"/><rect x="19" y="1" width="1.05" height="1.05" fill="#ba3655"/>
<rect x="0" y="2" width="1.05" height="1.05" fill="#e96c30"/><rect x="1" y="2" width="1.05" height="1.05" fill="#e86932"/><rect x="2" y="2" width="1.05" height="1.05" fill="#e56434"/><rect x="3" y="2" width="1.05" height="1.05" fill="#e46136"/><rect x="4" y="2" width="1.05" height="1.05" fill="#e25f37"/><rect x="5" y="2" width="1.05" height="1.05" fill="#e05b38"/><rect x="6" y="2" width="1.05" height="1.05" fill="#df583a"/><rect x="7" y="2" width="1.05" height="1.05" fill="#dc543c"/><rect x="8" y="2" width="1.05" height="1.05" fill="#da513d"/><rect x="9" y="2" width="1.05" height="1.05" fill="#d94e3e"/><rect x="10" y="2" width="1.05" height="1.05" fill="#d84c3f"/><rect x="11" y="2" width="1.05" height="1.05" fill="#d54a41"/><rect x="12" y="2" width="1.05" height="1.05" fill="#d34743"/><rect x="13" y="2" width="1.05" height="1.05" fill="#d04545"/><rect x="14" y="2" width="1.05" height="1.05" fill="#ce4347"/><rect x="15" y="2" width="1.05" height="1.05" fill="#cb4149"/><rect x="16" y="2" width="1.05" height="1.05" fill="#c83f4b"/><rect x="17" y="2" width="1.05" height="1.05" fill="#c63d4d"/><rect x="18" y="2" width="1.05" height="1.05" fill="#c33b4f"/><rect x="19" y="2" width="1.05" height="1.05" fill="#c13a50"/>
<rect x="0" y="3" width="1.05" height="1.05" fill="#e76932"/><rect x="1" y="3" width="1.05" height="1.05" fill="#e66634"/><rect x="2" y="3" width="1.05" height="1.05" fill="#e46335"/><rect x="3" y="3" width="1.05" height="1.05" fill="#e46136"/><rect x="4" y="3" width="1.05" height="1.05" fill="#e25f37"/><rect x="5" y="3" width="1.05" height="1.05" fill="#e05b39"/><rect x="6" y="3" width="1.05" height="1.05" fill="#df583a"/><rect x="7" y="3" width="1.05" height="1.05" fill="#dd553b"/><rect x="8" y="3" width="1.05" height="1.05" fill="#db523d"/><rect x="9" y="3" width="1.05" height="1.05" fill="#db503d"/><rect x="10" y="3" width="1.05" height="1.05" fill="#d94e3e"/><rect x="11" y="3" width="1.05" height="1.05" fill="#d74b40"/><rect x="12" y="3" width="1.05" height="1.05" fill="#d54a41"/><rect x="13" y="3" width="1.05" height="1.05" fill="#d34743"/><rect x="14" y="3" width="1.05" height="1.05" fill="#d24644"/><rect x="15" y="3" width="1.05" height="1.05" fill="#cf4446"/><rect x="16" y="3" width="1.05" height="1.05" fill="#cc4248"/><rect x="17" y="3" width="1.05" height="1.05" fill="#cb4149"/><rect x="18" y="3" width="1.05" height="1.05" fill="#c83f4b"/><rect x="19" y="3" width="1.05" height="1.05" fill="#c73e4c"/>
<rect x="0" y="4" width="1.05" height="1.05" fill="#e66634"/><rect x="1" y="4" width="1.05" height="1.05" fill="#e56434"/><rect x="2" y="4" width="1.05" height="1.05" fill="#e46136"/><rect x="3" y="4" width="1.05" height="1.05" fill="#e36036"/><rect x="4" y="4" width="1.05" height="1.05" fill="#e15d38"/><rect x="5" y="4" width="1.05" height="1.05" fill="#e05b39"/><rect x="6" y="4" width="1.05" height="1.05" fill="#df583a"/><rect x="7" y="4" width="1.05" height="1.05" fill="#de573a"/><rect x="8" y="4" width="1.05" height="1.05" fill="#dc543c"/><rect x="9" y="4" width="1.05" height="1.05" fill="#db523c"/><rect x="10" y="4" width="1.05" height="1.05" fill="#db503d"/><rect x="11" y="4" width="1.05" height="1.05" fill="#d94e3e"/><rect x="12" y="4" width="1.05" height="1.05" fill="#d84c3f"/><rect x="13" y="4" width="1.05" height="1.05" fill="#d74b3f"/><rect x="14" y="4" width="1.05" height="1.05" fill="#d44842"/><rect x="15" y="4" width="1.05" height="1.05" fill="#d34743"/><rect x="16" y="4" width="1.05" height="1.05" fill="#d24644"/><rect x="17" y="4" width="1.05" height="1.05" fill="#cf4446"/><rect x="18" y="4" width="1.05" height="1.05" fill="#ce4347"/><rect x="19" y="4" width="1.05" height="1.05" fill="#cc4248"/>
<rect x="0" y="5" width="1.05" height="1.05" fill="#e56434"/><rect x="1" y="5" width="1.05" height="1.05" fill="#e56335"/><rect x="2" y="5" width="1.05" height="1.05" fill="#e36037"/><rect x="3" y="5" width="1.05" height="1.05" fill="#e25e37"/><rect x="4" y="5" width="1.05" height="1.05" fill="#e15d38"/><rect x="5" y="5" width="1.05" height="1.05" fill="#e05b39"/><rect x="6" y="5" width="1.05" height="1.05" fill="#e05a39"/><rect x="7" y="5" width="1.05" height="1.05" fill="#df583a"/><rect x="8" y="5" width="1.05" height="1.05" fill="#dd553b"/><rect x="9" y="5" width="1.05" height="1.05" fill="#dc543c"/><rect x="10" y="5" width="1.05" height="1.05" fill="#db523c"/><rect x="11" y="5" width="1.05" height="1.05" fill="#da503d"/><rect x="12" y="5" width="1.05" height="1.05" fill="#da4f3e"/><rect x="13" y="5" width="1.05" height="1.05" fill="#d94e3e"/><rect x="14" y="5" width="1.05" height="1.05" fill="#d84c3f"/><rect x="15" y="5" width="1.05" height="1.05" fill="#d74b3f"/><rect x="16" y="5" width="1.05" height="1.05" fill="#d54a41"/><rect x="17" y="5" width="1.05" height="1.05" fill="#d44842"/><rect x="18" y="5" width="1.05" height="1.05" fill="#d34743"/><rect x="19" y="5" width="1.05" height="1.05" fill="#d24644"/>
<rect x="0" y="6" width="1.05" height="1.05" fill="#e46136"/><rect x="1" y="6" width="1.05" height="1.05" fill="#e36037"/><rect x="2" y="6" width="1.05" height="1.05" fill="#e36036"/><rect x="3" y="6" width="1.05" height="1.05" fill="#e25f37"/><rect x="4" y="6" width="1.05" height="1.05" fill="#e15d38"/><rect x="5" y="6" width="1.05" height="1.05" fill="#e05b39"/><rect x="6" y="6" width="1.05" height="1.05" fill="#e05a39"/><rect x="7" y="6" width="1.05" height="1.05" fill="#df583a"/><rect x="8" y="6" width="1.05" height="1.05" fill="#df583a"/><rect x="9" y="6" width="1.05" height="1.05" fill="#de563a"/><rect x="10" y="6" width="1.05" height="1.05" fill="#dd553b"/><rect x="11" y="6" width="1.05" height="1.05" fill="#dc533c"/><rect x="12" y="6" width="1.05" height="1.05" fill="#db523d"/><rect x="13" y="6" width="1.05" height="1.05" fill="#da513d"/><rect x="14" y="6" width="1.05" height="1.05" fill="#db503d"/><rect x="15" y="6" width="1.05" height="1.05" fill="#da4f3e"/><rect x="16" y="6" width="1.05" height="1.05" fill="#d94e3e"/><rect x="17" y="6" width="1.05" height="1.05" fill="#d94d3e"/><rect x="18" y="6" width="1.05" height="1.05" fill="#d84c3f"/><rect x="19" y="6" width="1.05" height="1.05" fill="#d74b3f"/>
<rect x="0" y="7" width="1.05" height="1.05" fill="#e36036"/><rect x="1" y="7" width="1.05" height="1.05" fill="#e25f37"/><rect x="2" y="7" width="1.05" height="1.05" fill="#e25e37"/><rect x="3" y="7" width="1.05" height="1.05" fill="#e15d38"/><rect x="4" y="7" width="1.05" height="1.05" fill="#e15d38"/><rect x="5" y="7" width="1.05" height="1.05" fill="#e05b39"/><rect x="6" y="7" width="1.05" height="1.05" fill="#e15b38"/><rect x="7" y="7" width="1.05" height="1.05" fill="#e05a39"/><rect x="8" y="7" width="1.05" height="1.05" fill="#e05a39"/><rect x="9" y="7" width="1.05" height="1.05" fill="#df583a"/><rect x="10" y="7" width="1.05" height="1.05" fill="#df583a"/><rect x="11" y="7" width="1.05" height="1.05" fill="#de573b"/><rect x="12" y="7" width="1.05" height="1.05" fill="#de563a"/><rect x="13" y="7" width="1.05" height="1.05" fill="#dd553b"/><rect x="14" y="7" width="1.05" height="1.05" fill="#dd553b"/><rect x="15" y="7" width="1.05" height="1.05" fill="#dc543c"/><rect x="16" y="7" width="1.05" height="1.05" fill="#dc533c"/><rect x="17" y="7" width="1.05" height="1.05" fill="#db523d"/><rect x="18" y="7" width="1.05" height="1.05" fill="#db523c"/><rect x="19" y="7" width="1.05" height="1.05" fill="#da513d"/>
<rect x="0" y="8" width="1.05" height="1.05" fill="#e15d38"/><rect x="1" y="8" width="1.05" height="1.05" fill="#e15d38"/><rect x="2" y="8" width="1.05" height="1.05" fill="#e15d38"/><rect x="3" y="8" width="1.05" height="1.05" fill="#e05b39"/><rect x="4" y="8" width="1.05" height="1.05" fill="#e05b39"/><rect x="5" y="8" width="1.05" height="1.05" fill="#e05b39"/><rect x="6" y="8" width="1.05" height="1.05" fill="#e05b39"/><rect x="7" y="8" width="1.05" height="1.05" fill="#e05b39"/><rect x="8" y="8" width="1.05" height="1.05" fill="#e15b38"/><rect x="9" y="8" width="1.05" height="1.05" fill="#e15b38"/><rect x="10" y="8" width="1.05" height="1.05" fill="#e05a39"/><rect x="11" y="8" width="1.05" height="1.05" fill="#e05a39"/><rect x="12" y="8" width="1.05" height="1.05" fill="#e05a39"/><rect x="13" y="8" width="1.05" height="1.05" fill="#e05a39"/><rect x="14" y="8" width="1.05" height="1.05" fill="#e05a39"/><rect x="15" y="8" width="1.05" height="1.05" fill="#e05a39"/><rect x="16" y="8" width="1.05" height="1.05" fill="#e05a39"/><rect x="17" y="8" width="1.05" height="1.05" fill="#df583a"/><rect x="18" y="8" width="1.05" height="1.05" fill="#df583a"/><rect x="19" y="8" width="1.05" height="1.05" fill="#df583a"/>
<rect x="0" y="9" width="1.05" height="1.05" fill="#e05a39"/><rect x="1" y="9" width="1.05" height="1.05" fill="#e05a39"/><rect x="2" y="9" width="1.05" height="1.05" fill="#e15b38"/><rect x="3" y="9" width="1.05" height="1.05" fill="#e15b38"/><rect x="4" y="9" width="1.05" height="1.05" fill="#e05b39"/><rect x="5" y="9" width="1.05" height="1.05" fill="#e05b39"/><rect x="6" y="9" width="1.05" height="1.05" fill="#e05b39"/><rect x="7" y="9" width="1.05" height="1.05" fill="#e15d38"/><rect x="8" y="9" width="1.05" height="1.05" fill="#e15d38"/><rect x="9" y="9" width="1.05" height="1.05" fill="#e15d38"/><rect x="10" y="9" width="1.05" height="1.05" fill="#e15d38"/><rect x="11" y="9" width="1.05" height="1.05" fill="#e15d38"/><rect x="12" y="9" width="1.05" height="1.05" fill="#e25e37"/><rect x="13" y="9" width="1.05" height="1.05" fill="#e25f37"/><rect x="14" y="9" width="1.05" height="1.05" fill="#e25f37"/><rect x="15" y="9" width="1.05" height="1.05" fill="#e25f37"/><rect x="16" y="9" width="1.05" height="1.05" fill="#e25e37"/><rect x="17" y="9" width="1.05" height="1.05" fill="#e36036"/><rect x="18" y="9" width="1.05" height="1.05" fill="#e36036"/><rect x="19" y="9" width="1.05" height="1.05" fill="#e36036"/>
<rect x="0" y="10" width="1.05" height="1.05" fill="#df583a"/><rect x="1" y="10" width="1.05" height="1.05" fill="#df583a"/><rect x="2" y="10" width="1.05" height="1.05" fill="#e05a39"/><rect x="3" y="10" width="1.05" height="1.05" fill="#e05a39"/><rect x="4" y="10" width="1.05" height="1.05" fill="#e15b38"/><rect x="5" y="10" width="1.05" height="1.05" fill="#e05b39"/><rect x="6" y="10" width="1.05" height="1.05" fill="#e15d38"/><rect x="7" y="10" width="1.05" height="1.05" fill="#e15d38"/><rect x="8" y="10" width="1.05" height="1.05" fill="#e25f37"/><rect x="9" y="10" width="1.05" height="1.05" fill="#e25e37"/><rect x="10" y="10" width="1.05" height="1.05" fill="#e36036"/><rect x="11" y="10" width="1.05" height="1.05" fill="#e36037"/><rect x="12" y="10" width="1.05" height="1.05" fill="#e46136"/><rect x="13" y="10" width="1.05" height="1.05" fill="#e56335"/><rect x="14" y="10" width="1.05" height="1.05" fill="#e46335"/><rect x="15" y="10" width="1.05" height="1.05" fill="#e56434"/><rect x="16" y="10" width="1.05" height="1.05" fill="#e56434"/><rect x="17" y="10" width="1.05" height="1.05" fill="#e66633"/><rect x="18" y="10" width="1.05" height="1.05" fill="#e66633"/><rect x="19" y="10" width="1.05" height="1.05" fill="#e76732"/>
<rect x="0" y="11" width="1.05" height="1.05" fill="#dd553b"/><rect x="1" y="11" width="1.05" height="1.05" fill="#de573a"/><rect x="2" y="11" width="1.05" height="1.05" fill="#df583a"/><rect x="3" y="11" width="1.05" height="1.05" fill="#e05a39"/><rect x="4" y="11" width="1.05" height="1.05" fill="#e05a39"/><rect x="5" y="11" width="1.05" height="1.05" fill="#e05b39"/><rect x="6" y="11" width="1.05" height="1.05" fill="#e15d38"/><rect x="7" y="11" width="1.05" height="1.05" fill="#e25f37"/><rect x="8" y="11" width="1.05" height="1.05" fill="#e36036"/><rect x="9" y="11" width="1.05" height="1.05" fill="#e46136"/><rect x="10" y="11" width="1.05" height="1.05" fill="#e56335"/><rect x="11" y="11" width="1.05" height="1.05" fill="#e56434"/><rect x="12" y="11" width="1.05" height="1.05" fill="#e56434"/><rect x="13" y="11" width="1.05" height="1.05" fill="#e66634"/><rect x="14" y="11" width="1.05" height="1.05" fill="#e76733"/><rect x="15" y="11" width="1.05" height="1.05" fill="#e76932"/><rect x="16" y="11" width="1.05" height="1.05" fill="#e86a31"/><rect x="17" y="11" width="1.05" height="1.05" fill="#e96c30"/><rect x="18" y="11" width="1.05" height="1.05" fill="#ea6d2f"/><rect x="19" y="11" width="1.05" height="1.05" fill="#ea6f2e"/>
<rect x="0" y="12" width="1.05" height="1.05" fill="#db523d"/><rect x="1" y="12" width="1.05" height="1.05" fill="#dc543c"/><rect x="2" y="12" width="1.05" height="1.05" fill="#de563a"/><rect x="3" y="12" width="1.05" height="1.05" fill="#df583a"/><rect x="4" y="12" width="1.05" height="1.05" fill="#e05a39"/><rect x="5" y="12" width="1.05" height="1.05" fill="#e05b39"/><rect x="6" y="12" width="1.05" height="1.05" fill="#e25e37"/><rect x="7" y="12" width="1.05" height="1.05" fill="#e36036"/><rect x="8" y="12" width="1.05" height="1.05" fill="#e46136"/><rect x="9" y="12" width="1.05" height="1.05" fill="#e46335"/><rect x="10" y="12" width="1.05" height="1.05" fill="#e56434"/><rect x="11" y="12" width="1.05" height="1.05" fill="#e76732"/><rect x="12" y="12" width="1.05" height="1.05" fill="#e76932"/><rect x="13" y="12" width="1.05" height="1.05" fill="#e86a31"/><rect x="14" y="12" width="1.05" height="1.05" fill="#e96c30"/><rect x="15" y="12" width="1.05" height="1.05" fill="#ea6f2e"/><rect x="16" y="12" width="1.05" height="1.05" fill="#eb702e"/><rect x="17" y="12" width="1.05" height="1.05" fill="#eb722d"/><rect x="18" y="12" width="1.05" height="1.05" fill="#ec732c"/><rect x="19" y="12" width="1.05" height="1.05" fill="#ec752b"/>
<rect x="0" y="13" width="1.05" height="1.05" fill="#db503d"/><rect x="1" y="13" width="1.05" height="1.05" fill="#db523c"/><rect x="2" y="13" width="1.05" height="1.05" fill="#dd553b"/><rect x="3" y="13" width="1.05" height="1.05" fill="#de573b"/><rect x="4" y="13" width="1.05" height="1.05" fill="#e05a39"/><rect x="5" y="13" width="1.05" height="1.05" fill="#e05b39"/><rect x="6" y="13" width="1.05" height="1.05" fill="#e25f37"/><rect x="7" y="13" width="1.05" height="1.05" fill="#e46136"/><rect x="8" y="13" width="1.05" height="1.05" fill="#e46335"/><rect x="9" y="13" width="1.05" height="1.05" fill="#e66633"/><rect x="10" y="13" width="1.05" height="1.05" fill="#e76733"/><rect x="11" y="13" width="1.05" height="1.05" fill="#e86a31"/><rect x="12" y="13" width="1.05" height="1.05" fill="#e96c30"/><rect x="13" y="13" width="1.05" height="1.05" fill="#ea6f2f"/><rect x="14" y="13" width="1.05" height="1.05" fill="#eb702e"/><rect x="15" y="13" width="1.05" height="1.05" fill="#ec732c"/><rect x="16" y="13" width="1.05" height="1.05" fill="#ed772a"/><rect x="17" y="13" width="1.05" height="1.05" fill="#ee782a"/><rect x="18" y="13" width="1.05" height="1.05" fill="#ef7b27"/><rect x="19" y="13" width="1.05" height="1.05" fill="#ef7d27"/>
<rect x="0" y="14" width="1.05" height="1.05" fill="#d94e3e"/><rect x="1" y="14" width="1.05" height="1.05" fill="#da503d"/><rect x="2" y="14" width="1.05" height="1.05" fill="#dc533c"/><rect x="3" y="14" width="1.05" height="1.05" fill="#de563a"/><rect x="4" y="14" width="1.05" height="1.05" fill="#e05a39"/><rect x="5" y="14" width="1.05" height="1.05" fill="#e05b39"/><rect x="6" y="14" width="1.05" height="1.05" fill="#e25e37"/><rect x="7" y="14" width="1.05" height="1.05" fill="#e46136"/><rect x="8" y="14" width="1.05" height="1.05" fill="#e56434"/><rect x="9" y="14" width="1.05" height="1.05" fill="#e76733"/><rect x="10" y="14" width="1.05" height="1.05" fill="#e86a31"/><rect x="11" y="14" width="1.05" height="1.05" fill="#ea6d2f"/><rect x="12" y="14" width="1.05" height="1.05" fill="#eb702e"/><rect x="13" y="14" width="1.05" height="1.05" fill="#ec732c"/><rect x="14" y="14" width="1.05" height="1.05" fill="#ed772a"/><rect x="15" y="14" width="1.05" height="1.05" fill="#ee7a28"/><rect x="16" y="14" width="1.05" height="1.05" fill="#ee7b28"/><rect x="17" y="14" width="1.05" height="1.05" fill="#ef7f26"/><rect x="18" y="14" width="1.05" height="1.05" fill="#f08223"/><rect x="19" y="14" width="1.05" height="1.05" fill="#f28521"/>
<rect x="0" y="15" width="1.05" height="1.05" fill="#d84c3f"/><rect x="1" y="15" width="1.05" height="1.05" fill="#da4f3e"/><rect x="2" y="15" width="1.05" height="1.05" fill="#db523c"/><rect x="3" y="15" width="1.05" height="1.05" fill="#dd553b"/><rect x="4" y="15" width="1.05" height="1.05" fill="#df583a"/><rect x="5" y="15" width="1.05" height="1.05" fill="#e15d38"/><rect x="6" y="15" width="1.05" height="1.05" fill="#e36036"/><rect x="7" y="15" width="1.05" height="1.05" fill="#e46335"/><rect x="8" y="15" width="1.05" height="1.05" fill="#e66633"/><rect x="9" y="15" width="1.05" height="1.05" fill="#e76932"/><rect x="10" y="15" width="1.05" height="1.05" fill="#ea6d2f"/><rect x="11" y="15" width="1.05" height="1.05" fill="#eb702e"/><rect x="12" y="15" width="1.05" height="1.05" fill="#ec732c"/><rect x="13" y="15" width="1.05" height="1.05" fill="#ee7829"/><rect x="14" y="15" width="1.05" height="1.05" fill="#ef7b27"/><rect x="15" y="15" width="1.05" height="1.05" fill="#ef7f25"/><rect x="16" y="15" width="1.05" height="1.05" fill="#f08223"/><rect x="17" y="15" width="1.05" height="1.05" fill="#f28720"/><rect x="18" y="15" width="1.05" height="1.05" fill="#f38a1e"/><rect x="19" y="15" width="1.05" height="1.05" fill="#f48c1d"/>
<rect x="0" y="16" width="1.05" height="1.05" fill="#d74b3f"/><rect x="1" y="16" width="1.05" height="1.05" fill="#d94d3e"/><rect x="2" y="16" width="1.05" height="1.05" fill="#da503d"/><rect x="3" y="16" width="1.05" height="1.05" fill="#dc543c"/><rect x="4" y="16" width="1.05" height="1.05" fill="#df583a"/><rect x="5" y="16" width="1.05" height="1.05" fill="#e15d38"/><rect x="6" y="16" width="1.05" height="1.05" fill="#e36037"/><rect x="7" y="16" width="1.05" height="1.05" fill="#e56434"/><rect x="8" y="16" width="1.05" height="1.05" fill="#e76733"/><rect x="9" y="16" width="1.05" height="1.05" fill="#e96c30"/><rect x="10" y="16" width="1.05" height="1.05" fill="#eb702e"/><rect x="11" y="16" width="1.05" height="1.05" fill="#ec732c"/><rect x="12" y="16" width="1.05" height="1.05" fill="#ee7829"/><rect x="13" y="16" width="1.05" height="1.05" fill="#ee7b28"/><rect x="14" y="16" width="1.05" height="1.05" fill="#f08024"/><rect x="15" y="16" width="1.05" height="1.05" fill="#f18521"/><rect x="16" y="16" width="1.05" height="1.05" fill="#f3891f"/><rect x="17" y="16" width="1.05" height="1.05" fill="#f48c1d"/><rect x="18" y="16" width="1.05" height="1.05" fill="#f58f1b"/><rect x="19" y="16" width="1.05" height="1.05" fill="#f69119"/>
<rect x="0" y="17" width="1.05" height="1.05" fill="#d44842"/><rect x="1" y="17" width="1.05" height="1.05" fill="#d84c3f"/><rect x="2" y="17" width="1.05" height="1.05" fill="#da4f3e"/><rect x="3" y="17" width="1.05" height="1.05" fill="#dc533c"/><rect x="4" y="17" width="1.05" height="1.05" fill="#df583a"/><rect x="5" y="17" width="1.05" height="1.05" fill="#e15d38"/><rect x="6" y="17" width="1.05" height="1.05" fill="#e46136"/><rect x="7" y="17" width="1.05" height="1.05" fill="#e56434"/><rect x="8" y="17" width="1.05" height="1.05" fill="#e76932"/><rect x="9" y="17" width="1.05" height="1.05" fill="#e96d30"/><rect x="10" y="17" width="1.05" height="1.05" fill="#eb722d"/><rect x="11" y="17" width="1.05" height="1.05" fill="#ed762a"/><rect x="12" y="17" width="1.05" height="1.05" fill="#ee7b28"/><rect x="13" y="17" width="1.05" height="1.05" fill="#f08024"/><rect x="14" y="17" width="1.05" height="1.05" fill="#f28521"/><rect x="15" y="17" width="1.05" height="1.05" fill="#f38a1e"/><rect x="16" y="17" width="1.05" height="1.05" fill="#f58e1c"/><rect x="17" y="17" width="1.05" height="1.05" fill="#f6911a"/><rect x="18" y="17" width="1.05" height="1.05" fill="#f79518"/><rect x="19" y="17" width="1.05" height="1.05" fill="#f79817"/>
<rect x="0" y="18" width="1.05" height="1.05" fill="#d34743"/><rect x="1" y="18" width="1.05" height="1.05" fill="#d54a41"/><rect x="2" y="18" width="1.05" height="1.05" fill="#d94e3e"/><rect x="3" y="18" width="1.05" height="1.05" fill="#db523c"/><rect x="4" y="18" width="1.05" height="1.05" fill="#de573b"/><rect x="5" y="18" width="1.05" height="1.05" fill="#e15d38"/><rect x="6" y="18" width="1.05" height="1.05" fill="#e46136"/><rect x="7" y="18" width="1.05" height="1.05" fill="#e66633"/><rect x="8" y="18" width="1.05" height="1.05" fill="#e86a31"/><rect x="9" y="18" width="1.05" height="1.05" fill="#eb702e"/><rect x="10" y="18" width="1.05" height="1.05" fill="#ec752b"/><rect x="11" y="18" width="1.05" height="1.05" fill="#ee7a29"/><rect x="12" y="18" width="1.05" height="1.05" fill="#f08024"/><rect x="13" y="18" width="1.05" height="1.05" fill="#f28521"/><rect x="14" y="18" width="1.05" height="1.05" fill="#f38a1e"/><rect x="15" y="18" width="1.05" height="1.05" fill="#f58e1c"/><rect x="16" y="18" width="1.05" height="1.05" fill="#f69119"/><rect x="17" y="18" width="1.05" height="1.05" fill="#f79518"/><rect x="18" y="18" width="1.05" height="1.05" fill="#f89a17"/><rect x="19" y="18" width="1.05" height="1.05" fill="#f99d17"/>
<rect x="0" y="19" width="1.05" height="1.05" fill="#d04545"/><rect x="1" y="19" width="1.05" height="1.05" fill="#d44842"/><rect x="2" y="19" width="1.05" height="1.05" fill="#d84c3f"/><rect x="3" y="19" width="1.05" height="1.05" fill="#db523c"/><rect x="4" y="19" width="1.05" height="1.05" fill="#de573b"/><rect x="5" y="19" width="1.05" height="1.05" fill="#e15d38"/><rect x="6" y="19" width="1.05" height="1.05" fill="#e46136"/><rect x="7" y="19" width="1.05" height="1.05" fill="#e76733"/><rect x="8" y="19" width="1.05" height="1.05" fill="#ea6d2f"/><rect x="9" y="19" width="1.05" height="1.05" fill="#eb722d"/><rect x="10" y="19" width="1.05" height="1.05" fill="#ee7829"/><rect x="11" y="19" width="1.05" height="1.05" fill="#ef7d27"/><rect x="12" y="19" width="1.05" height="1.05" fill="#f18422"/><rect x="13" y="19" width="1.05" height="1.05" fill="#f38a1e"/><rect x="14" y="19" width="1.05" height="1.05" fill="#f58e1c"/><rect x="15" y="19" width="1.05" height="1.05" fill="#f69319"/><rect x="16" y="19" width="1.05" height="1.05" fill="#f79617"/><rect x="17" y="19" width="1.05" height="1.05" fill="#f89a17"/><rect x="18" y="19" width="1.05" height="1.05" fill="#f99f18"/><rect x="19" y="19" width="1.05" height="1.05" fill="#f9a319"/>
</svg>
<rect x="88.40" y="64.20" width="408.60" height="282.50" fill="none" stroke="#2f2f2f" stroke-width="1.70"/>
<rect x="517.00" y="64.20" width="408.40" height="282.50" fill="none" stroke="#2f2f2f" stroke-width="1.70"/>
<rect x="945.50" y="64.20" width="408.70" height="282.50" fill="none" stroke="#2f2f2f" stroke-width="1.70"/>
<rect x="88.40" y="366.90" width="408.60" height="282.00" fill="none" stroke="#2f2f2f" stroke-width="1.70"/>
<rect x="517.00" y="366.90" width="408.40" height="282.00" fill="none" stroke="#2f2f2f" stroke-width="1.70"/>
<rect x="945.50" y="366.90" width="408.70" height="282.00" fill="none" stroke="#2f2f2f" stroke-width="1.70"/>
<rect x="88.40" y="669.20" width="408.60" height="282.60" fill="none" stroke="#2f2f2f" stroke-width="1.70"/>
<rect x="517.00" y="669.20" width="408.40" height="282.60" fill="none" stroke="#2f2f2f" stroke-width="1.70"/>
<rect x="945.50" y="669.20" width="408.70" height="282.60" fill="none" stroke="#2f2f2f" stroke-width="1.70"/>
<rect x="88.40" y="8.00" width="408.60" height="54.60" fill="#ffffff" stroke="#2f2f2f" stroke-width="1.70"/>
<text transform="translate(292.20,45.60) scale(1,1.05)" font-size="30.0" fill="#1a1a1a" text-anchor="middle">HS</text>
<rect x="517.00" y="8.00" width="408.40" height="54.60" fill="#ffffff" stroke="#2f2f2f" stroke-width="1.70"/>
<text transform="translate(720.70,45.60) scale(1,1.05)" font-size="30.0" fill="#1a1a1a" text-anchor="middle">Avg. group</text>
<rect x="945.50" y="8.00" width="408.70" height="54.60" fill="#ffffff" stroke="#2f2f2f" stroke-width="1.70"/>
<text transform="translate(1149.35,45.60) scale(1,1.05)" font-size="30.0" fill="#1a1a1a" text-anchor="middle">L2</text>
<rect x="1355.80" y="64.20" width="54.00" height="282.50" fill="#ffffff" stroke="#2f2f2f" stroke-width="1.70"/>
<text transform="translate(1372.30,205.45) rotate(90)" font-size="30.0" fill="#1a1a1a" text-anchor="middle">Paroxytone</text>
<rect x="1355.80" y="366.90" width="54.00" height="282.00" fill="#ffffff" stroke="#2f2f2f" stroke-width="1.70"/>
<text transform="translate(1372.30,507.90) rotate(90)" font-size="30.0" fill="#1a1a1a" text-anchor="middle">Avg. stress</text>
<rect x="1355.80" y="669.20" width="54.00" height="282.60" fill="#ffffff" stroke="#2f2f2f" stroke-width="1.70"/>
<text transform="translate(1372.30,810.50) rotate(90)" font-size="30.0" fill="#1a1a1a" text-anchor="middle">Oxytone</text>
<line x1="78.10" y1="70.50" x2="87.60" y2="70.50" stroke="#333333" stroke-width="2.90"/>
<text x="71.40" y="81.20" font-size="30.8" fill="#4d4d4d" text-anchor="end">2</text>
<line x1="78.10" y1="138.00" x2="87.60" y2="138.00" stroke="#333333" stroke-width="2.90"/>
<text x="71.40" y="148.70" font-size="30.8" fill="#4d4d4d" text-anchor="end">1</text>
<line x1="78.10" y1="205.50" x2="87.60" y2="205.50" stroke="#333333" stroke-width="2.90"/>
<text x="71.40" y="216.20" font-size="30.8" fill="#4d4d4d" text-anchor="end">0</text>
<line x1="78.10" y1="273.00" x2="87.60" y2="273.00" stroke="#333333" stroke-width="2.90"/>
<text x="71.40" y="283.70" font-size="30.8" fill="#4d4d4d" text-anchor="end">-1</text>
<line x1="78.10" y1="340.50" x2="87.60" y2="340.50" stroke="#333333" stroke-width="2.90"/>
<text x="71.40" y="351.20" font-size="30.8" fill="#4d4d4d" text-anchor="end">-2</text>
<line x1="78.10" y1="373.20" x2="87.60" y2="373.20" stroke="#333333" stroke-width="2.90"/>
<text x="71.40" y="383.90" font-size="30.8" fill="#4d4d4d" text-anchor="end">2</text>
<line x1="78.10" y1="440.70" x2="87.60" y2="440.70" stroke="#333333" stroke-width="2.90"/>
<text x="71.40" y="451.40" font-size="30.8" fill="#4d4d4d" text-anchor="end">1</text>
<line x1="78.10" y1="508.20" x2="87.60" y2="508.20" stroke="#333333" stroke-width="2.90"/>
<text x="71.40" y="518.90" font-size="30.8" fill="#4d4d4d" text-anchor="end">0</text>
<line x1="78.10" y1="575.70" x2="87.60" y2="575.70" stroke="#333333" stroke-width="2.90"/>
<text x="71.40" y="586.40" font-size="30.8" fill="#4d4d4d" text-anchor="end">-1</text>
<line x1="78.10" y1="643.20" x2="87.60" y2="643.20" stroke="#333333" stroke-width="2.90"/>
<text x="71.40" y="653.90" font-size="30.8" fill="#4d4d4d" text-anchor="end">-2</text>
<line x1="78.10" y1="675.50" x2="87.60" y2="675.50" stroke="#333333" stroke-width="2.90"/>
<text x="71.40" y="686.20" font-size="30.8" fill="#4d4d4d" text-anchor="end">2</text>
<line x1="78.10" y1="743.00" x2="87.60" y2="743.00" stroke="#333333" stroke-width="2.90"/>
<text x="71.40" y="753.70" font-size="30.8" fill="#4d4d4d" text-anchor="end">1</text>
<line x1="78.10" y1="810.50" x2="87.60" y2="810.50" stroke="#333333" stroke-width="2.90"/>
<text x="71.40" y="821.20" font-size="30.8" fill="#4d4d4d" text-anchor="end">0</text>
<line x1="78.10" y1="878.00" x2="87.60" y2="878.00" stroke="#333333" stroke-width="2.90"/>
<text x="71.40" y="888.70" font-size="30.8" fill="#4d4d4d" text-anchor="end">-1</text>
<line x1="78.10" y1="945.50" x2="87.60" y2="945.50" stroke="#333333" stroke-width="2.90"/>
<text x="71.40" y="956.20" font-size="30.8" fill="#4d4d4d" text-anchor="end">-2</text>
<line x1="97.80" y1="952.60" x2="97.80" y2="962.10" stroke="#333333" stroke-width="2.90"/>
<text x="97.80" y="989.80" font-size="30.6" fill="#4d4d4d" text-anchor="middle">-2</text>
<line x1="195.10" y1="952.60" x2="195.10" y2="962.10" stroke="#333333" stroke-width="2.90"/>
<text x="195.10" y="989.80" font-size="30.6" fill="#4d4d4d" text-anchor="middle">-1</text>
<line x1="292.40" y1="952.60" x2="292.40" y2="962.10" stroke="#333333" stroke-width="2.90"/>
<text x="292.40" y="989.80" font-size="30.6" fill="#4d4d4d" text-anchor="middle">0</text>
<line x1="389.70" y1="952.60" x2="389.70" y2="962.10" stroke="#333333" stroke-width="2.90"/>
<text x="389.70" y="989.80" font-size="30.6" fill="#4d4d4d" text-anchor="middle">1</text>
<line x1="487.00" y1="952.60" x2="487.00" y2="962.10" stroke="#333333" stroke-width="2.90"/>
<text x="487.00" y="989.80" font-size="30.6" fill="#4d4d4d" text-anchor="middle">2</text>
<line x1="526.40" y1="952.60" x2="526.40" y2="962.10" stroke="#333333" stroke-width="2.90"/>
<text x="526.40" y="989.80" font-size="30.6" fill="#4d4d4d" text-anchor="middle">-2</text>
<line x1="623.70" y1="952.60" x2="623.70" y2="962.10" stroke="#333333" stroke-width="2.90"/>
<text x="623.70" y="989.80" font-size="30.6" fill="#4d4d4d" text-anchor="middle">-1</text>
<line x1="721.00" y1="952.60" x2="721.00" y2="962.10" stroke="#333333" stroke-width="2.90"/>
<text x="721.00" y="989.80" font-size="30.6" fill="#4d4d4d" text-anchor="middle">0</text>
<line x1="818.30" y1="952.60" x2="818.30" y2="962.10" stroke="#333333" stroke-width="2.90"/>
<text x="818.30" y="989.80" font-size="30.6" fill="#4d4d4d" text-anchor="middle">1</text>
<line x1="915.60" y1="952.60" x2="915.60" y2="962.10" stroke="#333333" stroke-width="2.90"/>
<text x="915.60" y="989.80" font-size="30.6" fill="#4d4d4d" text-anchor="middle">2</text>
<line x1="954.90" y1="952.60" x2="954.90" y2="962.10" stroke="#333333" stroke-width="2.90"/>
<text x="954.90" y="989.80" font-size="30.6" fill="#4d4d4d" text-anchor="middle">-2</text>
<line x1="1052.20" y1="952.60" x2="1052.20" y2="962.10" stroke="#333333" stroke-width="2.90"/>
<text x="1052.20" y="989.80" font-size="30.6" fill="#4d4d4d" text-anchor="middle">-1</text>
<line x1="1149.50" y1="952.60" x2="1149.50" y2="962.10" stroke="#333333" stroke-width="2.90"/>
<text x="1149.50" y="989.80" font-size="30.6" fill="#4d4d4d" text-anchor="middle">0</text>
<line x1="1246.80" y1="952.60" x2="1246.80" y2="962.10" stroke="#333333" stroke-width="2.90"/>
<text x="1246.80" y="989.80" font-size="30.6" fill="#4d4d4d" text-anchor="middle">1</text>
<line x1="1344.10" y1="952.60" x2="1344.10" y2="962.10" stroke="#333333" stroke-width="2.90"/>
<text x="1344.10" y="989.80" font-size="30.6" fill="#4d4d4d" text-anchor="middle">2</text>
<text transform="translate(30.00,104.50) rotate(-90)" font-size="33.1" fill="#000000" text-anchor="end">z-Use</text>
<text x="1209.60" y="1027.30" font-size="33.0" fill="#000000" text-anchor="middle">z-Proficiency</text>
<rect x="516.30" y="1090.30" width="101.60" height="23.40" fill="#fcdc74"/>
<text x="566.30" y="1147.30" font-size="30.1" fill="#000000" text-anchor="middle">0.8</text>
<rect x="619.00" y="1090.30" width="101.60" height="23.40" fill="#e16036"/>
<text x="669.00" y="1147.30" font-size="30.1" fill="#000000" text-anchor="middle">0.6</text>
<rect x="721.70" y="1090.30" width="101.60" height="23.40" fill="#7c1d6c"/>
<text x="771.70" y="1147.30" font-size="30.1" fill="#000000" text-anchor="middle">0.4</text>
<rect x="824.40" y="1090.30" width="101.60" height="23.40" fill="#18081e"/>
<text x="874.40" y="1147.30" font-size="30.1" fill="#000000" text-anchor="middle">0.2</text>
<text x="721.00" y="1183.70" font-size="24.6" fill="#7f7f7f" text-anchor="middle">P(Target fixation)</text>
</svg>
</body></html>
